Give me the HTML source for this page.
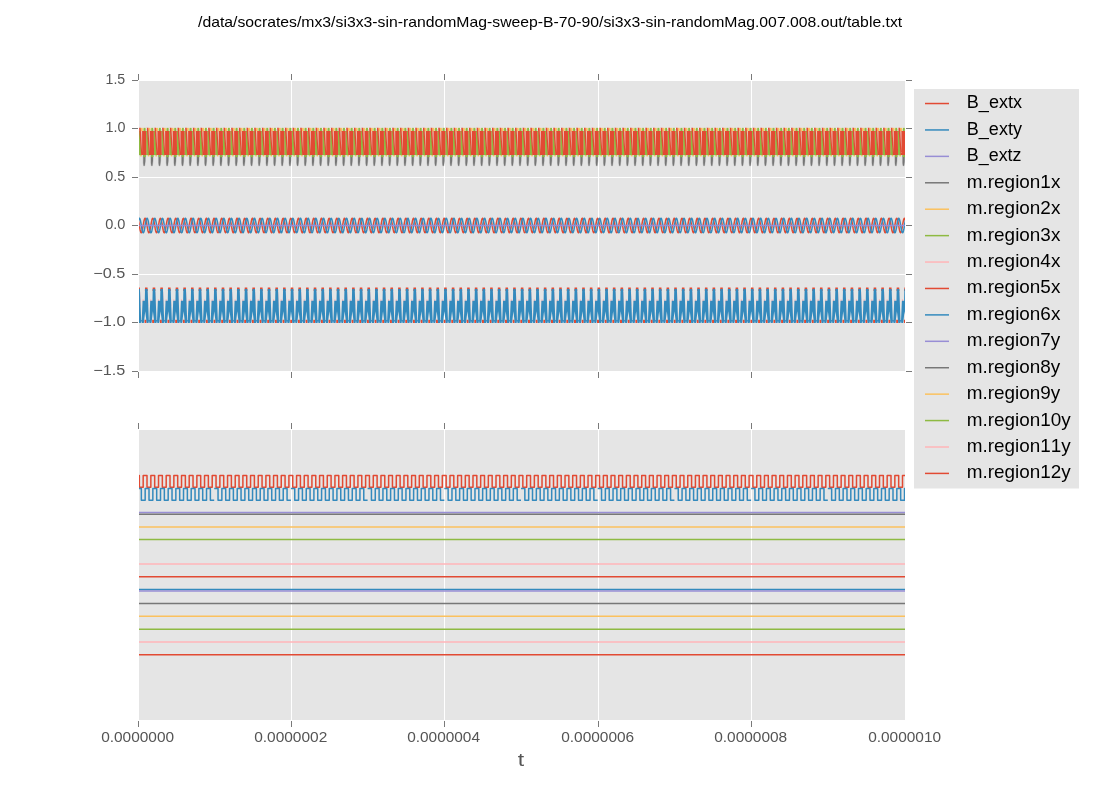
<!DOCTYPE html><html><head><meta charset="utf-8"><style>html,body{margin:0;padding:0;background:#fff;width:1100px;height:800px;overflow:hidden}svg{display:block;font-family:"Liberation Sans",sans-serif;font-kerning:none;will-change:transform}</style></head><body>
<svg width="1100" height="800" viewBox="0 0 1100 800">
<rect x="0" y="0" width="1100" height="800" fill="#fff"/>
<text x="198.00" y="26.80" font-size="14.77" fill="#000" textLength="704.17" lengthAdjust="spacingAndGlyphs">/data/socrates/mx3/si3x3-sin-randomMag-sweep-B-70-90/si3x3-sin-randomMag.007.008.out/table.txt</text>
<rect x="139.0" y="81.0" width="766.0" height="290.0" fill="#E5E5E5"/>
<rect x="139.0" y="430.0" width="766.0" height="290.0" fill="#E5E5E5"/>
<path d="M291.5 81.0V371.0M291.5 430.0V720.0M444.5 81.0V371.0M444.5 430.0V720.0M598.5 81.0V371.0M598.5 430.0V720.0M751.5 81.0V371.0M751.5 430.0V720.0M139.0 128.5H905.0M139.0 177.5H905.0M139.0 225.5H905.0M139.0 274.5H905.0M139.0 322.5H905.0" stroke="#fff" stroke-width="1" fill="none"/>
<path d="M138.5 74V80M138.5 372V378M138.5 423V429M138.5 721V727M291.5 74V80M291.5 372V378M291.5 423V429M291.5 721V727M444.5 74V80M444.5 372V378M444.5 423V429M444.5 721V727M598.5 74V80M598.5 372V378M598.5 423V429M598.5 721V727M751.5 74V80M751.5 372V378M751.5 423V429M751.5 721V727M132 80.5H138M906 80.5H912M132 128.5H138M906 128.5H912M132 177.5H138M906 177.5H912M132 225.5H138M906 225.5H912M132 274.5H138M906 274.5H912M132 322.5H138M906 322.5H912M132 371.5H138M906 371.5H912" stroke="#7a7a7a" stroke-width="1" fill="none"/>
<text x="105.52" y="83.80" font-size="14.24" fill="#555555" textLength="19.67" lengthAdjust="spacingAndGlyphs">1.5</text>
<text x="105.51" y="131.80" font-size="14.24" fill="#555555" textLength="19.95" lengthAdjust="spacingAndGlyphs">1.0</text>
<text x="105.24" y="180.80" font-size="14.04" fill="#555555" textLength="19.96" lengthAdjust="spacingAndGlyphs">0.5</text>
<text x="105.23" y="228.80" font-size="14.04" fill="#555555" textLength="20.24" lengthAdjust="spacingAndGlyphs">0.0</text>
<text x="93.30" y="277.80" font-size="14.04" fill="#555555" textLength="31.98" lengthAdjust="spacingAndGlyphs">−0.5</text>
<text x="93.29" y="325.80" font-size="14.24" fill="#555555" textLength="32.24" lengthAdjust="spacingAndGlyphs">−1.0</text>
<text x="93.30" y="374.80" font-size="14.24" fill="#555555" textLength="31.98" lengthAdjust="spacingAndGlyphs">−1.5</text>
<text x="101.15" y="741.65" font-size="13.96" fill="#555555" textLength="73.01" lengthAdjust="spacingAndGlyphs">0.0000000</text>
<text x="254.15" y="741.65" font-size="13.96" fill="#555555" textLength="73.18" lengthAdjust="spacingAndGlyphs">0.0000002</text>
<text x="407.15" y="741.65" font-size="13.96" fill="#555555" textLength="72.85" lengthAdjust="spacingAndGlyphs">0.0000004</text>
<text x="561.15" y="741.65" font-size="13.96" fill="#555555" textLength="73.08" lengthAdjust="spacingAndGlyphs">0.0000006</text>
<text x="714.15" y="741.65" font-size="13.96" fill="#555555" textLength="73.08" lengthAdjust="spacingAndGlyphs">0.0000008</text>
<text x="868.15" y="741.65" font-size="13.96" fill="#555555" textLength="73.01" lengthAdjust="spacingAndGlyphs">0.0000010</text>
<text x="517.75" y="765.75" font-size="19.10" fill="#555555" textLength="6.42" lengthAdjust="spacingAndGlyphs">t</text>
<defs><clipPath id="u"><rect x="139.0" y="81.0" width="766.0" height="290.0"/></clipPath><clipPath id="l"><rect x="139.0" y="430.0" width="766.0" height="290.0"/></clipPath></defs>
<path d="M138.00 219.01L138.40 220.42L138.80 222.36L139.20 224.64L139.60 227.02L140.00 229.23L140.40 231.04L140.80 232.27L141.20 232.77L141.60 232.50L142.00 231.49L142.40 229.84L142.80 227.72L143.20 225.37L143.60 223.04L144.00 220.96L144.40 219.37L144.80 218.43L145.20 218.25L145.60 218.83L146.00 220.13L146.40 221.99L146.80 224.23L147.20 226.61L147.60 228.86L148.00 230.76L148.40 232.10L148.80 232.74L149.20 232.60L149.60 231.71L150.00 230.16L150.40 228.12L150.80 225.79L151.20 223.43L151.60 221.30L152.00 219.61L152.40 218.55L152.80 218.22L153.20 218.67L153.60 219.85L154.00 221.63L154.40 223.82L154.80 226.19L155.20 228.49L155.60 230.47L156.00 231.91L156.40 232.68L156.80 232.68L157.20 231.92L157.60 230.48L158.00 228.50L158.40 226.21L158.80 223.84L159.20 221.64L159.60 219.86L160.00 218.68L160.40 218.22L160.80 218.54L161.20 219.60L161.60 221.29L162.00 223.42L162.40 225.78L162.80 228.10L163.20 230.15L163.60 231.71L164.00 232.60L164.40 232.74L164.80 232.11L165.20 230.77L165.60 228.88L166.00 226.62L166.40 224.25L166.80 222.00L167.20 220.14L167.60 218.84L168.00 218.25L168.40 218.43L168.80 219.36L169.20 220.95L169.60 223.02L170.00 225.36L170.40 227.71L170.80 229.82L171.20 231.48L171.60 232.50L172.00 232.77L172.40 232.27L172.80 231.05L173.20 229.24L173.60 227.03L174.00 224.66L174.40 222.38L174.80 220.43L175.20 219.02L175.60 218.30L176.00 218.34L176.40 219.15L176.80 220.63L177.20 222.64L177.60 224.94L178.00 227.31L178.40 229.48L178.80 231.23L179.20 232.37L179.60 232.78L180.00 232.41L180.40 231.31L180.80 229.59L181.20 227.44L181.60 225.08L182.00 222.76L182.40 220.73L182.80 219.22L183.20 218.37L183.60 218.28L184.00 218.96L184.40 220.33L184.80 222.26L185.20 224.53L185.60 226.90L186.00 229.13L186.40 230.96L186.80 232.22L187.20 232.76L187.60 232.53L188.00 231.55L188.40 229.93L188.80 227.84L189.20 225.49L189.60 223.15L190.00 221.06L190.40 219.44L190.80 218.46L191.20 218.24L191.60 218.78L192.00 220.05L192.40 221.89L192.80 224.11L193.20 226.49L193.60 228.76L194.00 230.68L194.40 232.05L194.80 232.72L195.20 232.63L195.60 231.78L196.00 230.25L196.40 228.23L196.80 225.91L197.20 223.55L197.60 221.39L198.00 219.68L198.40 218.58L198.80 218.22L199.20 218.63L199.60 219.78L200.00 221.53L200.40 223.71L200.80 226.07L201.20 228.38L201.60 230.38L202.00 231.86L202.40 232.66L202.80 232.70L203.20 231.98L203.60 230.56L204.00 228.61L204.40 226.33L204.80 223.95L205.20 221.75L205.60 219.94L206.00 218.72L206.40 218.23L206.80 218.51L207.20 219.53L207.60 221.19L208.00 223.31L208.40 225.66L208.80 227.99L209.20 230.06L209.60 231.64L210.00 232.57L210.40 232.75L210.80 232.16L211.20 230.85L211.60 228.98L212.00 226.74L212.40 224.36L212.80 222.11L213.20 220.22L213.60 218.89L214.00 218.26L214.40 218.40L214.80 219.30L215.20 220.86L215.60 222.91L216.00 225.24L216.40 227.59L216.80 229.73L217.20 231.41L217.60 232.46L218.00 232.78L218.40 232.31L218.80 231.13L219.20 229.34L219.60 227.15L220.00 224.78L220.40 222.48L220.80 220.51L221.20 219.07L221.60 218.31L222.00 218.32L222.40 219.09L222.80 220.55L223.20 222.53L223.60 224.82L224.00 227.19L224.40 229.38L224.80 231.16L225.20 232.33L225.60 232.78L226.00 232.45L226.40 231.38L226.80 229.69L227.20 227.55L227.60 225.19L228.00 222.87L228.40 220.82L228.80 219.28L229.20 218.39L229.60 218.26L230.00 218.91L230.40 220.25L230.80 222.15L231.20 224.41L231.60 226.78L232.00 229.02L232.40 230.88L232.80 232.17L233.20 232.75L233.60 232.56L234.00 231.62L234.40 230.02L234.80 227.95L235.20 225.61L235.60 223.26L236.00 221.15L236.40 219.50L236.80 218.49L237.20 218.23L237.60 218.74L238.00 219.97L238.40 221.79L238.80 224.00L239.20 226.37L239.60 228.65L240.00 230.59L240.40 232.00L240.80 232.71L241.20 232.65L241.60 231.84L242.00 230.34L242.40 228.34L242.80 226.03L243.20 223.66L243.60 221.49L244.00 219.75L244.40 218.62L244.80 218.22L245.20 218.60L245.60 219.71L246.00 221.43L246.40 223.59L246.80 225.95L247.20 228.27L247.60 230.29L248.00 231.80L248.40 232.64L248.80 232.72L249.20 232.03L249.60 230.65L250.00 228.72L250.40 226.44L250.80 224.07L251.20 221.85L251.60 220.02L252.00 218.77L252.40 218.23L252.80 218.47L253.20 219.46L253.60 221.09L254.00 223.19L254.40 225.54L254.80 227.88L255.20 229.97L255.60 231.58L256.00 232.54L256.40 232.76L256.80 232.20L257.20 230.93L257.60 229.09L258.00 226.86L258.40 224.48L258.80 222.22L259.20 220.30L259.60 218.94L260.00 218.27L260.40 218.38L260.80 219.24L261.20 220.77L261.60 222.80L262.00 225.12L262.40 227.48L262.80 229.63L263.20 231.34L263.60 232.43L264.00 232.78L264.40 232.36L264.80 231.20L265.20 229.44L265.60 227.26L266.00 224.90L266.40 222.59L266.80 220.60L267.20 219.13L267.60 218.33L268.00 218.30L268.40 219.04L268.80 220.46L269.20 222.42L269.60 224.70L270.00 227.08L270.40 229.28L270.80 231.08L271.20 232.29L271.60 232.77L272.00 232.48L272.40 231.45L272.80 229.79L273.20 227.67L273.60 225.31L274.00 222.98L274.40 220.92L274.80 219.34L275.20 218.42L275.60 218.25L276.00 218.86L276.40 220.17L276.80 222.04L277.20 224.29L277.60 226.67L278.00 228.92L278.40 230.80L278.80 232.13L279.20 232.74L279.60 232.59L280.00 231.68L280.40 230.12L280.80 228.06L281.20 225.73L281.60 223.38L282.00 221.25L282.40 219.57L282.80 218.53L283.20 218.22L283.60 218.70L284.00 219.89L284.40 221.68L284.80 223.88L285.20 226.25L285.60 228.54L286.00 230.51L286.40 231.94L286.80 232.69L287.20 232.67L287.60 231.89L288.00 230.43L288.40 228.45L288.80 226.15L289.20 223.78L289.60 221.59L290.00 219.82L290.40 218.66L290.80 218.22L291.20 218.56L291.60 219.63L292.00 221.33L292.40 223.48L292.80 225.84L293.20 228.16L293.60 230.20L294.00 231.74L294.40 232.61L294.80 232.73L295.20 232.08L295.60 230.73L296.00 228.82L296.40 226.56L296.80 224.19L297.20 221.95L297.60 220.10L298.00 218.81L298.40 218.24L298.80 218.44L299.20 219.40L299.60 221.00L300.00 223.08L300.40 225.42L300.80 227.77L301.20 229.87L301.60 231.51L302.00 232.51L302.40 232.77L302.80 232.25L303.20 231.01L303.60 229.19L304.00 226.97L304.40 224.60L304.80 222.32L305.20 220.38L305.60 218.99L306.00 218.29L306.40 218.35L306.80 219.18L307.20 220.68L307.60 222.69L308.00 225.00L308.40 227.37L308.80 229.53L309.20 231.27L309.60 232.39L310.00 232.78L310.40 232.39L310.80 231.28L311.20 229.54L311.60 227.38L312.00 225.02L312.40 222.70L312.80 220.69L313.20 219.19L313.60 218.36L314.00 218.29L314.40 218.98L314.80 220.37L315.20 222.31L315.60 224.59L316.00 226.96L316.40 229.18L316.80 231.00L317.20 232.24L317.60 232.77L318.00 232.52L318.40 231.52L318.80 229.88L319.20 227.78L319.60 225.43L320.00 223.09L320.40 221.01L320.80 219.40L321.20 218.45L321.60 218.24L322.00 218.81L322.40 220.09L322.80 221.94L323.20 224.17L323.60 226.55L324.00 228.81L324.40 230.72L324.80 232.08L325.20 232.73L325.60 232.62L326.00 231.75L326.40 230.21L326.80 228.17L327.20 225.85L327.60 223.49L328.00 221.35L328.40 219.64L328.80 218.56L329.20 218.22L329.60 218.65L330.00 219.82L330.40 221.58L330.80 223.77L331.20 226.13L331.60 228.43L332.00 230.42L332.40 231.89L332.80 232.67L333.20 232.69L333.60 231.95L334.00 230.52L334.40 228.56L334.80 226.27L335.20 223.90L335.60 221.70L336.00 219.90L336.40 218.70L336.80 218.23L337.20 218.52L337.60 219.56L338.00 221.24L338.40 223.36L338.80 225.72L339.20 228.05L339.60 230.11L340.00 231.68L340.40 232.59L340.80 232.75L341.20 232.13L341.60 230.81L342.00 228.93L342.40 226.68L342.80 224.30L343.20 222.06L343.60 220.18L344.00 218.86L344.40 218.25L344.80 218.42L345.20 219.33L345.60 220.91L346.00 222.97L346.40 225.30L346.80 227.65L347.20 229.78L347.60 231.44L348.00 232.48L348.40 232.77L348.80 232.29L349.20 231.09L349.60 229.29L350.00 227.09L350.40 224.72L350.80 222.43L351.20 220.47L351.60 219.04L352.00 218.30L352.40 218.33L352.80 219.12L353.20 220.59L353.60 222.58L354.00 224.88L354.40 227.25L354.80 229.43L355.20 231.19L355.60 232.35L356.00 232.78L356.40 232.43L356.80 231.35L357.20 229.64L357.60 227.49L358.00 225.13L358.40 222.81L358.80 220.78L359.20 219.25L359.60 218.38L360.00 218.27L360.40 218.93L360.80 220.29L361.20 222.20L361.60 224.47L362.00 226.84L362.40 229.07L362.80 230.92L363.20 232.20L363.60 232.76L364.00 232.55L364.40 231.59L364.80 229.98L365.20 227.89L365.60 225.55L366.00 223.21L366.40 221.10L366.80 219.47L367.20 218.48L367.60 218.23L368.00 218.76L368.40 220.01L368.80 221.84L369.20 224.06L369.60 226.43L370.00 228.70L370.40 230.64L370.80 232.02L371.20 232.72L371.60 232.64L372.00 231.81L372.40 230.30L372.80 228.28L373.20 225.97L373.60 223.61L374.00 221.44L374.40 219.71L374.80 218.60L375.20 218.22L375.60 218.61L376.00 219.74L376.40 221.48L376.80 223.65L377.20 226.01L377.60 228.32L378.00 230.33L378.40 231.83L378.80 232.65L379.20 232.71L379.60 232.00L380.00 230.61L380.40 228.66L380.80 226.38L381.20 224.01L381.60 221.80L382.00 219.98L382.40 218.74L382.80 218.23L383.20 218.49L383.60 219.50L384.00 221.14L384.40 223.25L384.80 225.60L385.20 227.93L385.60 230.01L386.00 231.61L386.40 232.56L386.80 232.76L387.20 232.18L387.60 230.89L388.00 229.03L388.40 226.80L388.80 224.42L389.20 222.16L389.60 220.26L390.00 218.91L390.40 218.27L390.80 218.39L391.20 219.27L391.60 220.81L392.00 222.86L392.40 225.18L392.80 227.54L393.20 229.68L393.60 231.37L394.00 232.45L394.40 232.78L394.80 232.34L395.20 231.17L395.60 229.39L396.00 227.21L396.40 224.84L396.80 222.54L397.20 220.56L397.60 219.10L398.00 218.32L398.40 218.31L398.80 219.06L399.20 220.50L399.60 222.47L400.00 224.76L400.40 227.13L400.80 229.33L401.20 231.12L401.60 232.31L402.00 232.78L402.40 232.47L402.80 231.42L403.20 229.74L403.60 227.61L404.00 225.25L404.40 222.93L404.80 220.87L405.20 219.31L405.60 218.41L406.00 218.26L406.40 218.88L406.80 220.21L407.20 222.10L407.60 224.35L408.00 226.72L408.40 228.97L408.80 230.84L409.20 232.15L409.60 232.75L410.00 232.58L410.40 231.65L410.80 230.07L411.20 228.00L411.60 225.67L412.00 223.32L412.40 221.20L412.80 219.54L413.20 218.51L413.60 218.23L414.00 218.72L414.40 219.93L414.80 221.73L415.20 223.94L415.60 226.31L416.00 228.60L416.40 230.55L416.80 231.97L417.20 232.70L417.60 232.66L418.00 231.86L418.40 230.39L418.80 228.39L419.20 226.09L419.60 223.72L420.00 221.54L420.40 219.79L420.80 218.64L421.20 218.22L421.60 218.58L422.00 219.67L422.40 221.38L422.80 223.53L423.20 225.90L423.60 228.21L424.00 230.24L424.40 231.77L424.80 232.63L425.20 232.73L425.60 232.06L426.00 230.69L426.40 228.77L426.80 226.50L427.20 224.13L427.60 221.90L428.00 220.06L428.40 218.79L428.80 218.24L429.20 218.46L429.60 219.43L430.00 221.05L430.40 223.14L430.80 225.48L431.20 227.82L431.60 229.92L432.00 231.55L432.40 232.53L432.80 232.76L433.20 232.23L433.60 230.97L434.00 229.14L434.40 226.91L434.80 224.54L435.20 222.27L435.60 220.34L436.00 218.96L436.40 218.28L436.80 218.36L437.20 219.21L437.60 220.72L438.00 222.75L438.40 225.06L438.80 227.42L439.20 229.58L439.60 231.30L440.00 232.41L440.40 232.78L440.80 232.38L441.20 231.24L441.60 229.49L442.00 227.32L442.40 224.96L442.80 222.65L443.20 220.64L443.60 219.16L444.00 218.34L444.40 218.29L444.80 219.01L445.20 220.42L445.60 222.36L446.00 224.64L446.40 227.02L446.80 229.23L447.20 231.04L447.60 232.27L448.00 232.77L448.40 232.50L448.80 231.49L449.20 229.84L449.60 227.72L450.00 225.37L450.40 223.04L450.80 220.96L451.20 219.37L451.60 218.43L452.00 218.25L452.40 218.83L452.80 220.13L453.20 221.99L453.60 224.23L454.00 226.61L454.40 228.86L454.80 230.76L455.20 232.10L455.60 232.74L456.00 232.60L456.40 231.71L456.80 230.16L457.20 228.12L457.60 225.79L458.00 223.43L458.40 221.30L458.80 219.61L459.20 218.55L459.60 218.22L460.00 218.67L460.40 219.85L460.80 221.63L461.20 223.82L461.60 226.19L462.00 228.49L462.40 230.47L462.80 231.91L463.20 232.68L463.60 232.68L464.00 231.92L464.40 230.48L464.80 228.50L465.20 226.21L465.60 223.84L466.00 221.64L466.40 219.86L466.80 218.68L467.20 218.22L467.60 218.54L468.00 219.60L468.40 221.29L468.80 223.42L469.20 225.78L469.60 228.10L470.00 230.15L470.40 231.71L470.80 232.60L471.20 232.74L471.60 232.11L472.00 230.77L472.40 228.88L472.80 226.62L473.20 224.25L473.60 222.00L474.00 220.14L474.40 218.84L474.80 218.25L475.20 218.43L475.60 219.36L476.00 220.95L476.40 223.02L476.80 225.36L477.20 227.71L477.60 229.82L478.00 231.48L478.40 232.50L478.80 232.77L479.20 232.27L479.60 231.05L480.00 229.24L480.40 227.03L480.80 224.66L481.20 222.38L481.60 220.43L482.00 219.02L482.40 218.30L482.80 218.34L483.20 219.15L483.60 220.63L484.00 222.64L484.40 224.94L484.80 227.31L485.20 229.48L485.60 231.23L486.00 232.37L486.40 232.78L486.80 232.41L487.20 231.31L487.60 229.59L488.00 227.44L488.40 225.08L488.80 222.76L489.20 220.73L489.60 219.22L490.00 218.37L490.40 218.28L490.80 218.96L491.20 220.33L491.60 222.26L492.00 224.53L492.40 226.90L492.80 229.13L493.20 230.96L493.60 232.22L494.00 232.76L494.40 232.53L494.80 231.55L495.20 229.93L495.60 227.84L496.00 225.49L496.40 223.15L496.80 221.06L497.20 219.44L497.60 218.46L498.00 218.24L498.40 218.78L498.80 220.05L499.20 221.89L499.60 224.11L500.00 226.49L500.40 228.76L500.80 230.68L501.20 232.05L501.60 232.72L502.00 232.63L502.40 231.78L502.80 230.25L503.20 228.23L503.60 225.91L504.00 223.55L504.40 221.39L504.80 219.68L505.20 218.58L505.60 218.22L506.00 218.63L506.40 219.78L506.80 221.53L507.20 223.71L507.60 226.07L508.00 228.38L508.40 230.38L508.80 231.86L509.20 232.66L509.60 232.70L510.00 231.98L510.40 230.56L510.80 228.61L511.20 226.33L511.60 223.95L512.00 221.75L512.40 219.94L512.80 218.72L513.20 218.23L513.60 218.51L514.00 219.53L514.40 221.19L514.80 223.31L515.20 225.66L515.60 227.99L516.00 230.06L516.40 231.64L516.80 232.57L517.20 232.75L517.60 232.16L518.00 230.85L518.40 228.98L518.80 226.74L519.20 224.36L519.60 222.11L520.00 220.22L520.40 218.89L520.80 218.26L521.20 218.40L521.60 219.30L522.00 220.86L522.40 222.91L522.80 225.24L523.20 227.59L523.60 229.73L524.00 231.41L524.40 232.46L524.80 232.78L525.20 232.31L525.60 231.13L526.00 229.34L526.40 227.15L526.80 224.78L527.20 222.48L527.60 220.51L528.00 219.07L528.40 218.31L528.80 218.32L529.20 219.09L529.60 220.55L530.00 222.53L530.40 224.82L530.80 227.19L531.20 229.38L531.60 231.16L532.00 232.33L532.40 232.78L532.80 232.45L533.20 231.38L533.60 229.69L534.00 227.55L534.40 225.19L534.80 222.87L535.20 220.82L535.60 219.28L536.00 218.39L536.40 218.26L536.80 218.91L537.20 220.25L537.60 222.15L538.00 224.41L538.40 226.78L538.80 229.02L539.20 230.88L539.60 232.17L540.00 232.75L540.40 232.56L540.80 231.62L541.20 230.02L541.60 227.95L542.00 225.61L542.40 223.26L542.80 221.15L543.20 219.50L543.60 218.49L544.00 218.23L544.40 218.74L544.80 219.97L545.20 221.79L545.60 224.00L546.00 226.37L546.40 228.65L546.80 230.59L547.20 232.00L547.60 232.71L548.00 232.65L548.40 231.84L548.80 230.34L549.20 228.34L549.60 226.03L550.00 223.66L550.40 221.49L550.80 219.75L551.20 218.62L551.60 218.22L552.00 218.60L552.40 219.71L552.80 221.43L553.20 223.59L553.60 225.95L554.00 228.27L554.40 230.29L554.80 231.80L555.20 232.64L555.60 232.72L556.00 232.03L556.40 230.65L556.80 228.72L557.20 226.44L557.60 224.07L558.00 221.85L558.40 220.02L558.80 218.77L559.20 218.23L559.60 218.47L560.00 219.46L560.40 221.09L560.80 223.19L561.20 225.54L561.60 227.88L562.00 229.97L562.40 231.58L562.80 232.54L563.20 232.76L563.60 232.20L564.00 230.93L564.40 229.09L564.80 226.86L565.20 224.48L565.60 222.22L566.00 220.30L566.40 218.94L566.80 218.27L567.20 218.38L567.60 219.24L568.00 220.77L568.40 222.80L568.80 225.12L569.20 227.48L569.60 229.63L570.00 231.34L570.40 232.43L570.80 232.78L571.20 232.36L571.60 231.20L572.00 229.44L572.40 227.26L572.80 224.90L573.20 222.59L573.60 220.60L574.00 219.13L574.40 218.33L574.80 218.30L575.20 219.04L575.60 220.46L576.00 222.42L576.40 224.70L576.80 227.08L577.20 229.28L577.60 231.08L578.00 232.29L578.40 232.77L578.80 232.48L579.20 231.45L579.60 229.79L580.00 227.67L580.40 225.31L580.80 222.98L581.20 220.92L581.60 219.34L582.00 218.42L582.40 218.25L582.80 218.86L583.20 220.17L583.60 222.04L584.00 224.29L584.40 226.67L584.80 228.92L585.20 230.80L585.60 232.13L586.00 232.74L586.40 232.59L586.80 231.68L587.20 230.12L587.60 228.06L588.00 225.73L588.40 223.38L588.80 221.25L589.20 219.57L589.60 218.53L590.00 218.22L590.40 218.70L590.80 219.89L591.20 221.68L591.60 223.88L592.00 226.25L592.40 228.54L592.80 230.51L593.20 231.94L593.60 232.69L594.00 232.67L594.40 231.89L594.80 230.43L595.20 228.45L595.60 226.15L596.00 223.78L596.40 221.59L596.80 219.82L597.20 218.66L597.60 218.22L598.00 218.56L598.40 219.63L598.80 221.33L599.20 223.48L599.60 225.84L600.00 228.16L600.40 230.20L600.80 231.74L601.20 232.61L601.60 232.73L602.00 232.08L602.40 230.73L602.80 228.82L603.20 226.56L603.60 224.19L604.00 221.95L604.40 220.10L604.80 218.81L605.20 218.24L605.60 218.44L606.00 219.40L606.40 221.00L606.80 223.08L607.20 225.42L607.60 227.77L608.00 229.87L608.40 231.51L608.80 232.51L609.20 232.77L609.60 232.25L610.00 231.01L610.40 229.19L610.80 226.97L611.20 224.60L611.60 222.32L612.00 220.38L612.40 218.99L612.80 218.29L613.20 218.35L613.60 219.18L614.00 220.68L614.40 222.69L614.80 225.00L615.20 227.37L615.60 229.53L616.00 231.27L616.40 232.39L616.80 232.78L617.20 232.39L617.60 231.28L618.00 229.54L618.40 227.38L618.80 225.02L619.20 222.70L619.60 220.69L620.00 219.19L620.40 218.36L620.80 218.29L621.20 218.98L621.60 220.37L622.00 222.31L622.40 224.59L622.80 226.96L623.20 229.18L623.60 231.00L624.00 232.24L624.40 232.77L624.80 232.52L625.20 231.52L625.60 229.88L626.00 227.78L626.40 225.43L626.80 223.09L627.20 221.01L627.60 219.40L628.00 218.45L628.40 218.24L628.80 218.81L629.20 220.09L629.60 221.94L630.00 224.17L630.40 226.55L630.80 228.81L631.20 230.72L631.60 232.08L632.00 232.73L632.40 232.62L632.80 231.75L633.20 230.21L633.60 228.17L634.00 225.85L634.40 223.49L634.80 221.35L635.20 219.64L635.60 218.56L636.00 218.22L636.40 218.65L636.80 219.82L637.20 221.58L637.60 223.77L638.00 226.13L638.40 228.43L638.80 230.42L639.20 231.89L639.60 232.67L640.00 232.69L640.40 231.95L640.80 230.52L641.20 228.56L641.60 226.27L642.00 223.90L642.40 221.70L642.80 219.90L643.20 218.70L643.60 218.23L644.00 218.52L644.40 219.56L644.80 221.24L645.20 223.36L645.60 225.72L646.00 228.05L646.40 230.11L646.80 231.68L647.20 232.59L647.60 232.75L648.00 232.13L648.40 230.81L648.80 228.93L649.20 226.68L649.60 224.30L650.00 222.06L650.40 220.18L650.80 218.86L651.20 218.25L651.60 218.42L652.00 219.33L652.40 220.91L652.80 222.97L653.20 225.30L653.60 227.65L654.00 229.78L654.40 231.44L654.80 232.48L655.20 232.77L655.60 232.29L656.00 231.09L656.40 229.29L656.80 227.09L657.20 224.72L657.60 222.43L658.00 220.47L658.40 219.04L658.80 218.30L659.20 218.33L659.60 219.12L660.00 220.59L660.40 222.58L660.80 224.88L661.20 227.25L661.60 229.43L662.00 231.19L662.40 232.35L662.80 232.78L663.20 232.43L663.60 231.35L664.00 229.64L664.40 227.49L664.80 225.13L665.20 222.81L665.60 220.78L666.00 219.25L666.40 218.38L666.80 218.27L667.20 218.93L667.60 220.29L668.00 222.20L668.40 224.47L668.80 226.84L669.20 229.07L669.60 230.92L670.00 232.20L670.40 232.76L670.80 232.55L671.20 231.59L671.60 229.98L672.00 227.89L672.40 225.55L672.80 223.21L673.20 221.10L673.60 219.47L674.00 218.48L674.40 218.23L674.80 218.76L675.20 220.01L675.60 221.84L676.00 224.06L676.40 226.43L676.80 228.70L677.20 230.64L677.60 232.02L678.00 232.72L678.40 232.64L678.80 231.81L679.20 230.30L679.60 228.28L680.00 225.97L680.40 223.61L680.80 221.44L681.20 219.71L681.60 218.60L682.00 218.22L682.40 218.61L682.80 219.74L683.20 221.48L683.60 223.65L684.00 226.01L684.40 228.32L684.80 230.33L685.20 231.83L685.60 232.65L686.00 232.71L686.40 232.00L686.80 230.61L687.20 228.66L687.60 226.38L688.00 224.01L688.40 221.80L688.80 219.98L689.20 218.74L689.60 218.23L690.00 218.49L690.40 219.50L690.80 221.14L691.20 223.25L691.60 225.60L692.00 227.93L692.40 230.01L692.80 231.61L693.20 232.56L693.60 232.76L694.00 232.18L694.40 230.89L694.80 229.03L695.20 226.80L695.60 224.42L696.00 222.16L696.40 220.26L696.80 218.91L697.20 218.27L697.60 218.39L698.00 219.27L698.40 220.81L698.80 222.86L699.20 225.18L699.60 227.54L700.00 229.68L700.40 231.37L700.80 232.45L701.20 232.78L701.60 232.34L702.00 231.17L702.40 229.39L702.80 227.21L703.20 224.84L703.60 222.54L704.00 220.56L704.40 219.10L704.80 218.32L705.20 218.31L705.60 219.06L706.00 220.50L706.40 222.47L706.80 224.76L707.20 227.13L707.60 229.33L708.00 231.12L708.40 232.31L708.80 232.78L709.20 232.47L709.60 231.42L710.00 229.74L710.40 227.61L710.80 225.25L711.20 222.93L711.60 220.87L712.00 219.31L712.40 218.41L712.80 218.26L713.20 218.88L713.60 220.21L714.00 222.10L714.40 224.35L714.80 226.72L715.20 228.97L715.60 230.84L716.00 232.15L716.40 232.75L716.80 232.58L717.20 231.65L717.60 230.07L718.00 228.00L718.40 225.67L718.80 223.32L719.20 221.20L719.60 219.54L720.00 218.51L720.40 218.23L720.80 218.72L721.20 219.93L721.60 221.73L722.00 223.94L722.40 226.31L722.80 228.60L723.20 230.55L723.60 231.97L724.00 232.70L724.40 232.66L724.80 231.86L725.20 230.39L725.60 228.39L726.00 226.09L726.40 223.72L726.80 221.54L727.20 219.79L727.60 218.64L728.00 218.22L728.40 218.58L728.80 219.67L729.20 221.38L729.60 223.53L730.00 225.90L730.40 228.21L730.80 230.24L731.20 231.77L731.60 232.63L732.00 232.73L732.40 232.06L732.80 230.69L733.20 228.77L733.60 226.50L734.00 224.13L734.40 221.90L734.80 220.06L735.20 218.79L735.60 218.24L736.00 218.46L736.40 219.43L736.80 221.05L737.20 223.14L737.60 225.48L738.00 227.82L738.40 229.92L738.80 231.55L739.20 232.53L739.60 232.76L740.00 232.23L740.40 230.97L740.80 229.14L741.20 226.91L741.60 224.54L742.00 222.27L742.40 220.34L742.80 218.96L743.20 218.28L743.60 218.36L744.00 219.21L744.40 220.72L744.80 222.75L745.20 225.06L745.60 227.42L746.00 229.58L746.40 231.30L746.80 232.41L747.20 232.78L747.60 232.38L748.00 231.24L748.40 229.49L748.80 227.32L749.20 224.96L749.60 222.65L750.00 220.64L750.40 219.16L750.80 218.34L751.20 218.29L751.60 219.01L752.00 220.42L752.40 222.36L752.80 224.64L753.20 227.02L753.60 229.23L754.00 231.04L754.40 232.27L754.80 232.77L755.20 232.50L755.60 231.49L756.00 229.84L756.40 227.72L756.80 225.37L757.20 223.04L757.60 220.96L758.00 219.37L758.40 218.43L758.80 218.25L759.20 218.83L759.60 220.13L760.00 221.99L760.40 224.23L760.80 226.61L761.20 228.86L761.60 230.76L762.00 232.10L762.40 232.74L762.80 232.60L763.20 231.71L763.60 230.16L764.00 228.12L764.40 225.79L764.80 223.43L765.20 221.30L765.60 219.61L766.00 218.55L766.40 218.22L766.80 218.67L767.20 219.85L767.60 221.63L768.00 223.82L768.40 226.19L768.80 228.49L769.20 230.47L769.60 231.91L770.00 232.68L770.40 232.68L770.80 231.92L771.20 230.48L771.60 228.50L772.00 226.21L772.40 223.84L772.80 221.64L773.20 219.86L773.60 218.68L774.00 218.22L774.40 218.54L774.80 219.60L775.20 221.29L775.60 223.42L776.00 225.78L776.40 228.10L776.80 230.15L777.20 231.71L777.60 232.60L778.00 232.74L778.40 232.11L778.80 230.77L779.20 228.88L779.60 226.62L780.00 224.25L780.40 222.00L780.80 220.14L781.20 218.84L781.60 218.25L782.00 218.43L782.40 219.36L782.80 220.95L783.20 223.02L783.60 225.36L784.00 227.71L784.40 229.82L784.80 231.48L785.20 232.50L785.60 232.77L786.00 232.27L786.40 231.05L786.80 229.24L787.20 227.03L787.60 224.66L788.00 222.38L788.40 220.43L788.80 219.02L789.20 218.30L789.60 218.34L790.00 219.15L790.40 220.63L790.80 222.64L791.20 224.94L791.60 227.31L792.00 229.48L792.40 231.23L792.80 232.37L793.20 232.78L793.60 232.41L794.00 231.31L794.40 229.59L794.80 227.44L795.20 225.08L795.60 222.76L796.00 220.73L796.40 219.22L796.80 218.37L797.20 218.28L797.60 218.96L798.00 220.33L798.40 222.26L798.80 224.53L799.20 226.90L799.60 229.13L800.00 230.96L800.40 232.22L800.80 232.76L801.20 232.53L801.60 231.55L802.00 229.93L802.40 227.84L802.80 225.49L803.20 223.15L803.60 221.06L804.00 219.44L804.40 218.46L804.80 218.24L805.20 218.78L805.60 220.05L806.00 221.89L806.40 224.11L806.80 226.49L807.20 228.76L807.60 230.68L808.00 232.05L808.40 232.72L808.80 232.63L809.20 231.78L809.60 230.25L810.00 228.23L810.40 225.91L810.80 223.55L811.20 221.39L811.60 219.68L812.00 218.58L812.40 218.22L812.80 218.63L813.20 219.78L813.60 221.53L814.00 223.71L814.40 226.07L814.80 228.38L815.20 230.38L815.60 231.86L816.00 232.66L816.40 232.70L816.80 231.98L817.20 230.56L817.60 228.61L818.00 226.33L818.40 223.95L818.80 221.75L819.20 219.94L819.60 218.72L820.00 218.23L820.40 218.51L820.80 219.53L821.20 221.19L821.60 223.31L822.00 225.66L822.40 227.99L822.80 230.06L823.20 231.64L823.60 232.57L824.00 232.75L824.40 232.16L824.80 230.85L825.20 228.98L825.60 226.74L826.00 224.36L826.40 222.11L826.80 220.22L827.20 218.89L827.60 218.26L828.00 218.40L828.40 219.30L828.80 220.86L829.20 222.91L829.60 225.24L830.00 227.59L830.40 229.73L830.80 231.41L831.20 232.46L831.60 232.78L832.00 232.31L832.40 231.13L832.80 229.34L833.20 227.15L833.60 224.78L834.00 222.48L834.40 220.51L834.80 219.07L835.20 218.31L835.60 218.32L836.00 219.09L836.40 220.55L836.80 222.53L837.20 224.82L837.60 227.19L838.00 229.38L838.40 231.16L838.80 232.33L839.20 232.78L839.60 232.45L840.00 231.38L840.40 229.69L840.80 227.55L841.20 225.19L841.60 222.87L842.00 220.82L842.40 219.28L842.80 218.39L843.20 218.26L843.60 218.91L844.00 220.25L844.40 222.15L844.80 224.41L845.20 226.78L845.60 229.02L846.00 230.88L846.40 232.17L846.80 232.75L847.20 232.56L847.60 231.62L848.00 230.02L848.40 227.95L848.80 225.61L849.20 223.26L849.60 221.15L850.00 219.50L850.40 218.49L850.80 218.23L851.20 218.74L851.60 219.97L852.00 221.79L852.40 224.00L852.80 226.37L853.20 228.65L853.60 230.59L854.00 232.00L854.40 232.71L854.80 232.65L855.20 231.84L855.60 230.34L856.00 228.34L856.40 226.03L856.80 223.66L857.20 221.49L857.60 219.75L858.00 218.62L858.40 218.22L858.80 218.60L859.20 219.71L859.60 221.43L860.00 223.59L860.40 225.95L860.80 228.27L861.20 230.29L861.60 231.80L862.00 232.64L862.40 232.72L862.80 232.03L863.20 230.65L863.60 228.72L864.00 226.44L864.40 224.07L864.80 221.85L865.20 220.02L865.60 218.77L866.00 218.23L866.40 218.47L866.80 219.46L867.20 221.09L867.60 223.19L868.00 225.54L868.40 227.88L868.80 229.97L869.20 231.58L869.60 232.54L870.00 232.76L870.40 232.20L870.80 230.93L871.20 229.09L871.60 226.86L872.00 224.48L872.40 222.22L872.80 220.30L873.20 218.94L873.60 218.27L874.00 218.38L874.40 219.24L874.80 220.77L875.20 222.80L875.60 225.12L876.00 227.48L876.40 229.63L876.80 231.34L877.20 232.43L877.60 232.78L878.00 232.36L878.40 231.20L878.80 229.44L879.20 227.26L879.60 224.90L880.00 222.59L880.40 220.60L880.80 219.13L881.20 218.33L881.60 218.30L882.00 219.04L882.40 220.46L882.80 222.42L883.20 224.70L883.60 227.08L884.00 229.28L884.40 231.08L884.80 232.29L885.20 232.77L885.60 232.48L886.00 231.45L886.40 229.79L886.80 227.67L887.20 225.31L887.60 222.98L888.00 220.92L888.40 219.34L888.80 218.42L889.20 218.25L889.60 218.86L890.00 220.17L890.40 222.04L890.80 224.29L891.20 226.67L891.60 228.92L892.00 230.80L892.40 232.13L892.80 232.74L893.20 232.59L893.60 231.68L894.00 230.12L894.40 228.06L894.80 225.73L895.20 223.38L895.60 221.25L896.00 219.57L896.40 218.53L896.80 218.22L897.20 218.70L897.60 219.89L898.00 221.68L898.40 223.88L898.80 226.25L899.20 228.54L899.60 230.51L900.00 231.94L900.40 232.69L900.80 232.67L901.20 231.89L901.60 230.43L902.00 228.45L902.40 226.15L902.80 223.78L903.20 221.59L903.60 219.82L904.00 218.66L904.40 218.22L904.80 218.56L905.20 219.63L905.60 221.33L906.00 223.48" stroke="#E24A33" stroke-width="1.5" fill="none" stroke-linejoin="round" clip-path="url(#u)"/>
<path d="M138.00 222.62L138.40 220.62L138.80 219.14L139.20 218.34L139.60 218.30L140.00 219.03L140.40 220.44L140.80 222.39L141.20 224.68L141.60 227.05L142.00 229.26L142.40 231.06L142.80 232.28L143.20 232.77L143.60 232.49L144.00 231.47L144.40 229.81L144.80 227.69L145.20 225.34L145.60 223.00L146.00 220.94L146.40 219.35L146.80 218.43L147.20 218.25L147.60 218.85L148.00 220.15L148.40 222.02L148.80 224.27L149.20 226.64L149.60 228.89L150.00 230.79L150.40 232.12L150.80 232.74L151.20 232.60L151.60 231.70L152.00 230.14L152.40 228.08L152.80 225.76L153.20 223.40L153.60 221.27L154.00 219.59L154.40 218.53L154.80 218.22L155.20 218.69L155.60 219.88L156.00 221.66L156.40 223.86L156.80 226.23L157.20 228.52L157.60 230.49L158.00 231.93L158.40 232.69L158.80 232.68L159.20 231.91L159.60 230.45L160.00 228.47L160.40 226.17L160.80 223.80L161.20 221.62L161.60 219.84L162.00 218.67L162.40 218.22L162.80 218.55L163.20 219.62L163.60 221.31L164.00 223.45L164.40 225.81L164.80 228.13L165.20 230.18L165.60 231.72L166.00 232.61L166.40 232.74L166.80 232.09L167.20 230.75L167.60 228.85L168.00 226.59L168.40 224.21L168.80 221.97L169.20 220.11L169.60 218.82L170.00 218.24L170.40 218.44L170.80 219.38L171.20 220.98L171.60 223.06L172.00 225.39L172.40 227.74L172.80 229.85L173.20 231.50L173.60 232.51L174.00 232.77L174.40 232.26L174.80 231.03L175.20 229.21L175.60 227.00L176.00 224.62L176.40 222.35L176.80 220.40L177.20 219.00L177.60 218.29L178.00 218.35L178.40 219.17L178.80 220.66L179.20 222.67L179.60 224.98L180.00 227.34L180.40 229.51L180.80 231.25L181.20 232.38L181.60 232.78L182.00 232.40L182.40 231.29L182.80 229.56L183.20 227.40L183.60 225.04L184.00 222.73L184.40 220.71L184.80 219.20L185.20 218.36L185.60 218.28L186.00 218.97L186.40 220.36L186.80 222.29L187.20 224.56L187.60 226.93L188.00 229.16L188.40 230.99L188.80 232.23L189.20 232.77L189.60 232.52L190.00 231.53L190.40 229.90L190.80 227.80L191.20 225.46L191.60 223.12L192.00 221.03L192.40 219.42L192.80 218.45L193.20 218.24L193.60 218.80L194.00 220.07L194.40 221.92L194.80 224.15L195.20 226.52L195.60 228.79L196.00 230.70L196.40 232.07L196.80 232.73L197.20 232.62L197.60 231.76L198.00 230.23L198.40 228.19L198.80 225.87L199.20 223.52L199.60 221.37L200.00 219.66L200.40 218.57L200.80 218.22L201.20 218.65L201.60 219.80L202.00 221.56L202.40 223.74L202.80 226.11L203.20 228.41L203.60 230.40L204.00 231.87L204.40 232.67L204.80 232.70L205.20 231.96L205.60 230.54L206.00 228.58L206.40 226.29L206.80 223.92L207.20 221.72L207.60 219.92L208.00 218.71L208.40 218.23L208.80 218.52L209.20 219.55L209.60 221.22L210.00 223.34L210.40 225.69L210.80 228.02L211.20 230.09L211.60 231.66L212.00 232.58L212.40 232.75L212.80 232.14L213.20 230.83L213.60 228.95L214.00 226.70L214.40 224.33L214.80 222.08L215.20 220.19L215.60 218.87L216.00 218.26L216.40 218.41L216.80 219.32L217.20 220.89L217.60 222.94L218.00 225.27L218.40 227.63L218.80 229.76L219.20 231.43L219.60 232.47L220.00 232.78L220.40 232.30L220.80 231.11L221.20 229.31L221.60 227.11L222.00 224.74L222.40 222.45L222.80 220.49L223.20 219.05L223.60 218.31L224.00 218.33L224.40 219.11L224.80 220.57L225.20 222.56L225.60 224.86L226.00 227.23L226.40 229.41L226.80 231.18L227.20 232.34L227.60 232.78L228.00 232.44L228.40 231.36L228.80 229.66L229.20 227.52L229.60 225.16L230.00 222.84L230.40 220.80L230.80 219.26L231.20 218.39L231.60 218.27L232.00 218.92L232.40 220.27L232.80 222.18L233.20 224.44L233.60 226.82L234.00 229.05L234.40 230.91L234.80 232.19L235.20 232.76L235.60 232.55L236.00 231.60L236.40 230.00L236.80 227.92L237.20 225.58L237.60 223.23L238.00 221.12L238.40 219.48L238.80 218.49L239.20 218.23L239.60 218.75L240.00 219.99L240.40 221.81L240.80 224.03L241.20 226.40L241.60 228.68L242.00 230.62L242.40 232.01L242.80 232.71L243.20 232.65L243.60 231.82L244.00 230.32L244.40 228.31L244.80 225.99L245.20 223.63L245.60 221.47L246.00 219.73L246.40 218.61L246.80 218.22L247.20 218.61L247.60 219.73L248.00 221.46L248.40 223.63L248.80 225.99L249.20 228.30L249.60 230.31L250.00 231.82L250.40 232.65L250.80 232.71L251.20 232.02L251.60 230.62L252.00 228.69L252.40 226.41L252.80 224.04L253.20 221.82L253.60 219.99L254.00 218.75L254.40 218.23L254.80 218.48L255.20 219.48L255.60 221.12L256.00 223.23L256.40 225.57L256.80 227.91L257.20 229.99L257.60 231.60L258.00 232.55L258.40 232.76L258.80 232.19L259.20 230.91L259.60 229.06L260.00 226.82L260.40 224.45L260.80 222.19L261.20 220.28L261.60 218.92L262.00 218.27L262.40 218.38L262.80 219.26L263.20 220.79L263.60 222.83L264.00 225.15L264.40 227.51L264.80 229.66L265.20 231.36L265.60 232.44L266.00 232.78L266.40 232.34L266.80 231.18L267.20 229.41L267.60 227.23L268.00 224.86L268.40 222.56L268.80 220.57L269.20 219.11L269.60 218.33L270.00 218.31L270.40 219.05L270.80 220.48L271.20 222.45L271.60 224.74L272.00 227.11L272.40 229.31L272.80 231.10L273.20 232.30L273.60 232.77L274.00 232.48L274.40 231.43L274.80 229.76L275.20 227.63L275.60 225.28L276.00 222.95L276.40 220.89L276.80 219.32L277.20 218.41L277.60 218.25L278.00 218.87L278.40 220.19L278.80 222.08L279.20 224.32L279.60 226.70L280.00 228.95L280.40 230.83L280.80 232.14L281.20 232.75L281.60 232.58L282.00 231.66L282.40 230.09L282.80 228.03L283.20 225.70L283.60 223.34L284.00 221.22L284.40 219.55L284.80 218.52L285.20 218.23L285.60 218.71L286.00 219.91L286.40 221.71L286.80 223.92L287.20 226.29L287.60 228.57L288.00 230.53L288.40 231.96L288.80 232.70L289.20 232.67L289.60 231.88L290.00 230.41L290.40 228.42L290.80 226.11L291.20 223.75L291.60 221.57L292.00 219.80L292.40 218.65L292.80 218.22L293.20 218.57L293.60 219.65L294.00 221.36L294.40 223.51L294.80 225.87L295.20 228.19L295.60 230.22L296.00 231.76L296.40 232.62L296.80 232.73L297.20 232.07L297.60 230.71L298.00 228.79L298.40 226.53L298.80 224.15L299.20 221.92L299.60 220.07L300.00 218.80L300.40 218.24L300.80 218.45L301.20 219.42L301.60 221.03L302.00 223.11L302.40 225.45L302.80 227.80L303.20 229.90L303.60 231.53L304.00 232.52L304.40 232.77L304.80 232.24L305.20 230.99L305.60 229.16L306.00 226.94L306.40 224.57L306.80 222.29L307.20 220.36L307.60 218.97L308.00 218.28L308.40 218.36L308.80 219.20L309.20 220.70L309.60 222.72L310.00 225.04L310.40 227.40L310.80 229.56L311.20 231.29L311.60 232.40L312.00 232.78L312.40 232.38L312.80 231.26L313.20 229.51L313.60 227.35L314.00 224.98L314.40 222.67L314.80 220.66L315.20 219.17L315.60 218.35L316.00 218.29L316.40 219.00L316.80 220.40L317.20 222.34L317.60 224.62L318.00 226.99L318.40 229.21L318.80 231.03L319.20 232.26L319.60 232.77L320.00 232.51L320.40 231.50L320.80 229.86L321.20 227.75L321.60 225.40L322.00 223.06L322.40 220.98L322.80 219.39L323.20 218.44L323.60 218.24L324.00 218.82L324.40 220.11L324.80 221.97L325.20 224.21L325.60 226.58L326.00 228.84L326.40 230.75L326.80 232.09L327.20 232.74L327.60 232.61L328.00 231.73L328.40 230.18L328.80 228.14L329.20 225.82L329.60 223.46L330.00 221.32L330.40 219.62L330.80 218.55L331.20 218.22L331.60 218.67L332.00 219.84L332.40 221.61L332.80 223.80L333.20 226.17L333.60 228.47L334.00 230.45L334.40 231.90L334.80 232.68L335.20 232.69L335.60 231.93L336.00 230.49L336.40 228.52L336.80 226.23L337.20 223.86L337.60 221.67L338.00 219.88L338.40 218.69L338.80 218.22L339.20 218.53L339.60 219.58L340.00 221.26L340.40 223.40L340.80 225.75L341.20 228.08L341.60 230.13L342.00 231.69L342.40 232.60L342.80 232.74L343.20 232.12L343.60 230.79L344.00 228.90L344.40 226.65L344.80 224.27L345.20 222.03L345.60 220.15L346.00 218.85L346.40 218.25L346.80 218.42L347.20 219.35L347.60 220.93L348.00 223.00L348.40 225.33L348.80 227.68L349.20 229.80L349.60 231.46L350.00 232.49L350.40 232.77L350.80 232.28L351.20 231.07L351.60 229.26L352.00 227.06L352.40 224.68L352.80 222.40L353.20 220.44L353.60 219.03L354.00 218.30L354.40 218.34L354.80 219.14L355.20 220.62L355.60 222.61L356.00 224.92L356.40 227.28L356.80 229.46L357.20 231.22L357.60 232.36L358.00 232.78L358.40 232.42L358.80 231.33L359.20 229.61L359.60 227.46L360.00 225.10L360.40 222.78L360.80 220.75L361.20 219.23L361.60 218.37L362.00 218.27L362.40 218.95L362.80 220.31L363.20 222.23L363.60 224.50L364.00 226.88L364.40 229.10L364.80 230.95L365.20 232.21L365.60 232.76L366.00 232.54L366.40 231.57L366.80 229.95L367.20 227.86L367.60 225.52L368.00 223.17L368.40 221.08L368.80 219.45L369.20 218.47L369.60 218.24L370.00 218.77L370.40 220.03L370.80 221.87L371.20 224.09L371.60 226.46L372.00 228.73L372.40 230.66L372.80 232.04L373.20 232.72L373.60 232.63L374.00 231.79L374.40 230.27L374.80 228.25L375.20 225.93L375.60 223.57L376.00 221.42L376.40 219.69L376.80 218.59L377.20 218.22L377.60 218.63L378.00 219.76L378.40 221.51L378.80 223.68L379.20 226.05L379.60 228.36L380.00 230.36L380.40 231.85L380.80 232.66L381.20 232.71L381.60 231.99L382.00 230.58L382.40 228.63L382.80 226.35L383.20 223.98L383.60 221.77L384.00 219.95L384.40 218.73L384.80 218.23L385.20 218.50L385.60 219.52L386.00 221.17L386.40 223.28L386.80 225.63L387.20 227.97L387.60 230.04L388.00 231.63L388.40 232.57L388.80 232.75L389.20 232.17L389.60 230.87L390.00 229.00L390.40 226.76L390.80 224.39L391.20 222.13L391.60 220.23L392.00 218.90L392.40 218.26L392.80 218.40L393.20 219.29L393.60 220.84L394.00 222.89L394.40 225.21L394.80 227.57L395.20 229.71L395.60 231.40L396.00 232.46L396.40 232.78L396.80 232.32L397.20 231.14L397.60 229.36L398.00 227.17L398.40 224.80L398.80 222.51L399.20 220.53L399.60 219.08L400.00 218.32L400.40 218.32L400.80 219.08L401.20 220.53L401.60 222.50L402.00 224.80L402.40 227.17L402.80 229.36L403.20 231.14L403.60 232.32L404.00 232.78L404.40 232.46L404.80 231.40L405.20 229.71L405.60 227.58L406.00 225.22L406.40 222.89L406.80 220.84L407.20 219.29L407.60 218.40L408.00 218.26L408.40 218.89L408.80 220.23L409.20 222.13L409.60 224.38L410.00 226.76L410.40 229.00L410.80 230.87L411.20 232.16L411.60 232.75L412.00 232.57L412.40 231.63L412.80 230.04L413.20 227.97L413.60 225.64L414.00 223.29L414.40 221.17L414.80 219.52L415.20 218.50L415.60 218.23L416.00 218.73L416.40 219.95L416.80 221.76L417.20 223.97L417.60 226.35L418.00 228.63L418.40 230.58L418.80 231.99L419.20 232.70L419.60 232.66L420.00 231.85L420.40 230.36L420.80 228.36L421.20 226.05L421.60 223.69L422.00 221.51L422.40 219.77L422.80 218.63L423.20 218.22L423.60 218.59L424.00 219.69L424.40 221.41L424.80 223.57L425.20 225.93L425.60 228.25L426.00 230.27L426.40 231.79L426.80 232.63L427.20 232.72L427.60 232.04L428.00 230.67L428.40 228.74L428.80 226.47L429.20 224.09L429.60 221.87L430.00 220.03L430.40 218.78L430.80 218.24L431.20 218.47L431.60 219.45L432.00 221.07L432.40 223.17L432.80 225.51L433.20 227.85L433.60 229.95L434.00 231.57L434.40 232.54L434.80 232.76L435.20 232.21L435.60 230.95L436.00 229.11L436.40 226.88L436.80 224.51L437.20 222.24L437.60 220.32L438.00 218.95L438.40 218.28L438.80 218.37L439.20 219.23L439.60 220.75L440.00 222.78L440.40 225.10L440.80 227.46L441.20 229.61L441.60 231.32L442.00 232.42L442.40 232.78L442.80 232.36L443.20 231.22L443.60 229.46L444.00 227.29L444.40 224.92L444.80 222.62L445.20 220.62L445.60 219.14L446.00 218.34L446.40 218.30L446.80 219.03L447.20 220.44L447.60 222.39L448.00 224.68L448.40 227.05L448.80 229.26L449.20 231.06L449.60 232.28L450.00 232.77L450.40 232.49L450.80 231.47L451.20 229.81L451.60 227.69L452.00 225.34L452.40 223.00L452.80 220.94L453.20 219.35L453.60 218.43L454.00 218.25L454.40 218.85L454.80 220.15L455.20 222.02L455.60 224.27L456.00 226.64L456.40 228.89L456.80 230.79L457.20 232.12L457.60 232.74L458.00 232.60L458.40 231.70L458.80 230.14L459.20 228.08L459.60 225.76L460.00 223.40L460.40 221.27L460.80 219.59L461.20 218.53L461.60 218.22L462.00 218.69L462.40 219.88L462.80 221.66L463.20 223.86L463.60 226.23L464.00 228.52L464.40 230.49L464.80 231.93L465.20 232.69L465.60 232.68L466.00 231.91L466.40 230.45L466.80 228.47L467.20 226.17L467.60 223.80L468.00 221.62L468.40 219.84L468.80 218.67L469.20 218.22L469.60 218.55L470.00 219.62L470.40 221.31L470.80 223.45L471.20 225.81L471.60 228.13L472.00 230.18L472.40 231.72L472.80 232.61L473.20 232.74L473.60 232.09L474.00 230.75L474.40 228.85L474.80 226.59L475.20 224.21L475.60 221.97L476.00 220.11L476.40 218.82L476.80 218.24L477.20 218.44L477.60 219.38L478.00 220.98L478.40 223.06L478.80 225.39L479.20 227.74L479.60 229.85L480.00 231.50L480.40 232.51L480.80 232.77L481.20 232.26L481.60 231.03L482.00 229.21L482.40 227.00L482.80 224.62L483.20 222.35L483.60 220.40L484.00 219.00L484.40 218.29L484.80 218.35L485.20 219.17L485.60 220.66L486.00 222.67L486.40 224.98L486.80 227.34L487.20 229.51L487.60 231.25L488.00 232.38L488.40 232.78L488.80 232.40L489.20 231.29L489.60 229.56L490.00 227.40L490.40 225.04L490.80 222.73L491.20 220.71L491.60 219.20L492.00 218.36L492.40 218.28L492.80 218.97L493.20 220.36L493.60 222.29L494.00 224.56L494.40 226.93L494.80 229.16L495.20 230.99L495.60 232.23L496.00 232.77L496.40 232.52L496.80 231.53L497.20 229.90L497.60 227.80L498.00 225.46L498.40 223.12L498.80 221.03L499.20 219.42L499.60 218.45L500.00 218.24L500.40 218.80L500.80 220.07L501.20 221.92L501.60 224.15L502.00 226.52L502.40 228.79L502.80 230.70L503.20 232.07L503.60 232.73L504.00 232.62L504.40 231.76L504.80 230.23L505.20 228.19L505.60 225.87L506.00 223.52L506.40 221.37L506.80 219.66L507.20 218.57L507.60 218.22L508.00 218.65L508.40 219.80L508.80 221.56L509.20 223.74L509.60 226.11L510.00 228.41L510.40 230.40L510.80 231.87L511.20 232.67L511.60 232.70L512.00 231.96L512.40 230.54L512.80 228.58L513.20 226.29L513.60 223.92L514.00 221.72L514.40 219.92L514.80 218.71L515.20 218.23L515.60 218.52L516.00 219.55L516.40 221.22L516.80 223.34L517.20 225.69L517.60 228.02L518.00 230.09L518.40 231.66L518.80 232.58L519.20 232.75L519.60 232.14L520.00 230.83L520.40 228.95L520.80 226.70L521.20 224.33L521.60 222.08L522.00 220.19L522.40 218.87L522.80 218.26L523.20 218.41L523.60 219.32L524.00 220.89L524.40 222.94L524.80 225.27L525.20 227.63L525.60 229.76L526.00 231.43L526.40 232.47L526.80 232.78L527.20 232.30L527.60 231.11L528.00 229.31L528.40 227.11L528.80 224.74L529.20 222.45L529.60 220.49L530.00 219.05L530.40 218.31L530.80 218.33L531.20 219.11L531.60 220.57L532.00 222.56L532.40 224.86L532.80 227.23L533.20 229.41L533.60 231.18L534.00 232.34L534.40 232.78L534.80 232.44L535.20 231.36L535.60 229.66L536.00 227.52L536.40 225.16L536.80 222.84L537.20 220.80L537.60 219.26L538.00 218.39L538.40 218.27L538.80 218.92L539.20 220.27L539.60 222.18L540.00 224.44L540.40 226.82L540.80 229.05L541.20 230.91L541.60 232.19L542.00 232.76L542.40 232.55L542.80 231.60L543.20 230.00L543.60 227.92L544.00 225.58L544.40 223.23L544.80 221.12L545.20 219.48L545.60 218.49L546.00 218.23L546.40 218.75L546.80 219.99L547.20 221.81L547.60 224.03L548.00 226.40L548.40 228.68L548.80 230.62L549.20 232.01L549.60 232.71L550.00 232.65L550.40 231.82L550.80 230.32L551.20 228.31L551.60 225.99L552.00 223.63L552.40 221.47L552.80 219.73L553.20 218.61L553.60 218.22L554.00 218.61L554.40 219.73L554.80 221.46L555.20 223.63L555.60 225.99L556.00 228.30L556.40 230.31L556.80 231.82L557.20 232.65L557.60 232.71L558.00 232.02L558.40 230.62L558.80 228.69L559.20 226.41L559.60 224.04L560.00 221.82L560.40 219.99L560.80 218.75L561.20 218.23L561.60 218.48L562.00 219.48L562.40 221.12L562.80 223.23L563.20 225.57L563.60 227.91L564.00 229.99L564.40 231.60L564.80 232.55L565.20 232.76L565.60 232.19L566.00 230.91L566.40 229.06L566.80 226.82L567.20 224.45L567.60 222.19L568.00 220.28L568.40 218.92L568.80 218.27L569.20 218.38L569.60 219.26L570.00 220.79L570.40 222.83L570.80 225.15L571.20 227.51L571.60 229.66L572.00 231.36L572.40 232.44L572.80 232.78L573.20 232.34L573.60 231.18L574.00 229.41L574.40 227.23L574.80 224.86L575.20 222.56L575.60 220.57L576.00 219.11L576.40 218.33L576.80 218.31L577.20 219.05L577.60 220.48L578.00 222.45L578.40 224.74L578.80 227.11L579.20 229.31L579.60 231.10L580.00 232.30L580.40 232.77L580.80 232.48L581.20 231.43L581.60 229.76L582.00 227.63L582.40 225.28L582.80 222.95L583.20 220.89L583.60 219.32L584.00 218.41L584.40 218.25L584.80 218.87L585.20 220.19L585.60 222.08L586.00 224.32L586.40 226.70L586.80 228.95L587.20 230.83L587.60 232.14L588.00 232.75L588.40 232.58L588.80 231.66L589.20 230.09L589.60 228.03L590.00 225.70L590.40 223.34L590.80 221.22L591.20 219.55L591.60 218.52L592.00 218.23L592.40 218.71L592.80 219.91L593.20 221.71L593.60 223.92L594.00 226.29L594.40 228.57L594.80 230.53L595.20 231.96L595.60 232.70L596.00 232.67L596.40 231.88L596.80 230.41L597.20 228.42L597.60 226.11L598.00 223.75L598.40 221.57L598.80 219.80L599.20 218.65L599.60 218.22L600.00 218.57L600.40 219.65L600.80 221.36L601.20 223.51L601.60 225.87L602.00 228.19L602.40 230.22L602.80 231.76L603.20 232.62L603.60 232.73L604.00 232.07L604.40 230.71L604.80 228.79L605.20 226.53L605.60 224.15L606.00 221.92L606.40 220.07L606.80 218.80L607.20 218.24L607.60 218.45L608.00 219.42L608.40 221.03L608.80 223.11L609.20 225.45L609.60 227.80L610.00 229.90L610.40 231.53L610.80 232.52L611.20 232.77L611.60 232.24L612.00 230.99L612.40 229.16L612.80 226.94L613.20 224.57L613.60 222.29L614.00 220.36L614.40 218.97L614.80 218.28L615.20 218.36L615.60 219.20L616.00 220.70L616.40 222.72L616.80 225.04L617.20 227.40L617.60 229.56L618.00 231.29L618.40 232.40L618.80 232.78L619.20 232.38L619.60 231.26L620.00 229.51L620.40 227.35L620.80 224.98L621.20 222.67L621.60 220.66L622.00 219.17L622.40 218.35L622.80 218.29L623.20 219.00L623.60 220.40L624.00 222.34L624.40 224.62L624.80 226.99L625.20 229.21L625.60 231.03L626.00 232.26L626.40 232.77L626.80 232.51L627.20 231.50L627.60 229.86L628.00 227.75L628.40 225.40L628.80 223.06L629.20 220.98L629.60 219.39L630.00 218.44L630.40 218.24L630.80 218.82L631.20 220.11L631.60 221.97L632.00 224.21L632.40 226.58L632.80 228.84L633.20 230.75L633.60 232.09L634.00 232.74L634.40 232.61L634.80 231.73L635.20 230.18L635.60 228.14L636.00 225.82L636.40 223.46L636.80 221.32L637.20 219.62L637.60 218.55L638.00 218.22L638.40 218.67L638.80 219.84L639.20 221.61L639.60 223.80L640.00 226.17L640.40 228.47L640.80 230.45L641.20 231.90L641.60 232.68L642.00 232.69L642.40 231.93L642.80 230.49L643.20 228.52L643.60 226.23L644.00 223.86L644.40 221.67L644.80 219.88L645.20 218.69L645.60 218.22L646.00 218.53L646.40 219.58L646.80 221.26L647.20 223.40L647.60 225.75L648.00 228.08L648.40 230.13L648.80 231.69L649.20 232.60L649.60 232.74L650.00 232.12L650.40 230.79L650.80 228.90L651.20 226.65L651.60 224.27L652.00 222.03L652.40 220.15L652.80 218.85L653.20 218.25L653.60 218.42L654.00 219.35L654.40 220.93L654.80 223.00L655.20 225.33L655.60 227.68L656.00 229.80L656.40 231.46L656.80 232.49L657.20 232.77L657.60 232.28L658.00 231.07L658.40 229.26L658.80 227.06L659.20 224.68L659.60 222.40L660.00 220.44L660.40 219.03L660.80 218.30L661.20 218.34L661.60 219.14L662.00 220.62L662.40 222.61L662.80 224.92L663.20 227.28L663.60 229.46L664.00 231.22L664.40 232.36L664.80 232.78L665.20 232.42L665.60 231.33L666.00 229.61L666.40 227.46L666.80 225.10L667.20 222.78L667.60 220.75L668.00 219.23L668.40 218.37L668.80 218.27L669.20 218.95L669.60 220.31L670.00 222.23L670.40 224.50L670.80 226.88L671.20 229.10L671.60 230.95L672.00 232.21L672.40 232.76L672.80 232.54L673.20 231.57L673.60 229.95L674.00 227.86L674.40 225.52L674.80 223.17L675.20 221.08L675.60 219.45L676.00 218.47L676.40 218.24L676.80 218.77L677.20 220.03L677.60 221.87L678.00 224.09L678.40 226.46L678.80 228.73L679.20 230.66L679.60 232.04L680.00 232.72L680.40 232.63L680.80 231.79L681.20 230.27L681.60 228.25L682.00 225.93L682.40 223.57L682.80 221.42L683.20 219.69L683.60 218.59L684.00 218.22L684.40 218.63L684.80 219.76L685.20 221.51L685.60 223.68L686.00 226.05L686.40 228.36L686.80 230.36L687.20 231.85L687.60 232.66L688.00 232.71L688.40 231.99L688.80 230.58L689.20 228.63L689.60 226.35L690.00 223.98L690.40 221.77L690.80 219.95L691.20 218.73L691.60 218.23L692.00 218.50L692.40 219.52L692.80 221.17L693.20 223.28L693.60 225.63L694.00 227.97L694.40 230.04L694.80 231.63L695.20 232.57L695.60 232.75L696.00 232.17L696.40 230.87L696.80 229.00L697.20 226.76L697.60 224.39L698.00 222.13L698.40 220.23L698.80 218.90L699.20 218.26L699.60 218.40L700.00 219.29L700.40 220.84L700.80 222.89L701.20 225.21L701.60 227.57L702.00 229.71L702.40 231.40L702.80 232.46L703.20 232.78L703.60 232.32L704.00 231.14L704.40 229.36L704.80 227.17L705.20 224.80L705.60 222.51L706.00 220.53L706.40 219.08L706.80 218.32L707.20 218.32L707.60 219.08L708.00 220.53L708.40 222.50L708.80 224.80L709.20 227.17L709.60 229.36L710.00 231.14L710.40 232.32L710.80 232.78L711.20 232.46L711.60 231.40L712.00 229.71L712.40 227.58L712.80 225.22L713.20 222.89L713.60 220.84L714.00 219.29L714.40 218.40L714.80 218.26L715.20 218.89L715.60 220.23L716.00 222.13L716.40 224.38L716.80 226.76L717.20 229.00L717.60 230.87L718.00 232.16L718.40 232.75L718.80 232.57L719.20 231.63L719.60 230.04L720.00 227.97L720.40 225.64L720.80 223.29L721.20 221.17L721.60 219.52L722.00 218.50L722.40 218.23L722.80 218.73L723.20 219.95L723.60 221.76L724.00 223.97L724.40 226.35L724.80 228.63L725.20 230.58L725.60 231.99L726.00 232.70L726.40 232.66L726.80 231.85L727.20 230.36L727.60 228.36L728.00 226.05L728.40 223.69L728.80 221.51L729.20 219.77L729.60 218.63L730.00 218.22L730.40 218.59L730.80 219.69L731.20 221.41L731.60 223.57L732.00 225.93L732.40 228.25L732.80 230.27L733.20 231.79L733.60 232.63L734.00 232.72L734.40 232.04L734.80 230.67L735.20 228.74L735.60 226.47L736.00 224.09L736.40 221.87L736.80 220.03L737.20 218.78L737.60 218.24L738.00 218.47L738.40 219.45L738.80 221.07L739.20 223.17L739.60 225.51L740.00 227.85L740.40 229.95L740.80 231.57L741.20 232.54L741.60 232.76L742.00 232.21L742.40 230.95L742.80 229.11L743.20 226.88L743.60 224.51L744.00 222.24L744.40 220.32L744.80 218.95L745.20 218.28L745.60 218.37L746.00 219.23L746.40 220.75L746.80 222.78L747.20 225.10L747.60 227.46L748.00 229.61L748.40 231.32L748.80 232.42L749.20 232.78L749.60 232.36L750.00 231.22L750.40 229.46L750.80 227.29L751.20 224.92L751.60 222.62L752.00 220.62L752.40 219.14L752.80 218.34L753.20 218.30L753.60 219.03L754.00 220.44L754.40 222.39L754.80 224.68L755.20 227.05L755.60 229.26L756.00 231.06L756.40 232.28L756.80 232.77L757.20 232.49L757.60 231.47L758.00 229.81L758.40 227.69L758.80 225.34L759.20 223.00L759.60 220.94L760.00 219.35L760.40 218.43L760.80 218.25L761.20 218.85L761.60 220.15L762.00 222.02L762.40 224.27L762.80 226.64L763.20 228.89L763.60 230.79L764.00 232.12L764.40 232.74L764.80 232.60L765.20 231.70L765.60 230.14L766.00 228.08L766.40 225.76L766.80 223.40L767.20 221.27L767.60 219.59L768.00 218.53L768.40 218.22L768.80 218.69L769.20 219.88L769.60 221.66L770.00 223.86L770.40 226.23L770.80 228.52L771.20 230.49L771.60 231.93L772.00 232.69L772.40 232.68L772.80 231.91L773.20 230.45L773.60 228.47L774.00 226.17L774.40 223.80L774.80 221.62L775.20 219.84L775.60 218.67L776.00 218.22L776.40 218.55L776.80 219.62L777.20 221.31L777.60 223.45L778.00 225.81L778.40 228.13L778.80 230.18L779.20 231.72L779.60 232.61L780.00 232.74L780.40 232.09L780.80 230.75L781.20 228.85L781.60 226.59L782.00 224.21L782.40 221.97L782.80 220.11L783.20 218.82L783.60 218.24L784.00 218.44L784.40 219.38L784.80 220.98L785.20 223.06L785.60 225.39L786.00 227.74L786.40 229.85L786.80 231.50L787.20 232.51L787.60 232.77L788.00 232.26L788.40 231.03L788.80 229.21L789.20 227.00L789.60 224.62L790.00 222.35L790.40 220.40L790.80 219.00L791.20 218.29L791.60 218.35L792.00 219.17L792.40 220.66L792.80 222.67L793.20 224.98L793.60 227.34L794.00 229.51L794.40 231.25L794.80 232.38L795.20 232.78L795.60 232.40L796.00 231.29L796.40 229.56L796.80 227.40L797.20 225.04L797.60 222.73L798.00 220.71L798.40 219.20L798.80 218.36L799.20 218.28L799.60 218.97L800.00 220.36L800.40 222.29L800.80 224.56L801.20 226.93L801.60 229.16L802.00 230.99L802.40 232.23L802.80 232.77L803.20 232.52L803.60 231.53L804.00 229.90L804.40 227.80L804.80 225.46L805.20 223.12L805.60 221.03L806.00 219.42L806.40 218.45L806.80 218.24L807.20 218.80L807.60 220.07L808.00 221.92L808.40 224.15L808.80 226.52L809.20 228.79L809.60 230.70L810.00 232.07L810.40 232.73L810.80 232.62L811.20 231.76L811.60 230.23L812.00 228.19L812.40 225.87L812.80 223.52L813.20 221.37L813.60 219.66L814.00 218.57L814.40 218.22L814.80 218.65L815.20 219.80L815.60 221.56L816.00 223.74L816.40 226.11L816.80 228.41L817.20 230.40L817.60 231.87L818.00 232.67L818.40 232.70L818.80 231.96L819.20 230.54L819.60 228.58L820.00 226.29L820.40 223.92L820.80 221.72L821.20 219.92L821.60 218.71L822.00 218.23L822.40 218.52L822.80 219.55L823.20 221.22L823.60 223.34L824.00 225.69L824.40 228.02L824.80 230.09L825.20 231.66L825.60 232.58L826.00 232.75L826.40 232.14L826.80 230.83L827.20 228.95L827.60 226.70L828.00 224.33L828.40 222.08L828.80 220.19L829.20 218.87L829.60 218.26L830.00 218.41L830.40 219.32L830.80 220.89L831.20 222.94L831.60 225.27L832.00 227.63L832.40 229.76L832.80 231.43L833.20 232.47L833.60 232.78L834.00 232.30L834.40 231.11L834.80 229.31L835.20 227.11L835.60 224.74L836.00 222.45L836.40 220.49L836.80 219.05L837.20 218.31L837.60 218.33L838.00 219.11L838.40 220.57L838.80 222.56L839.20 224.86L839.60 227.23L840.00 229.41L840.40 231.18L840.80 232.34L841.20 232.78L841.60 232.44L842.00 231.36L842.40 229.66L842.80 227.52L843.20 225.16L843.60 222.84L844.00 220.80L844.40 219.26L844.80 218.39L845.20 218.27L845.60 218.92L846.00 220.27L846.40 222.18L846.80 224.44L847.20 226.82L847.60 229.05L848.00 230.91L848.40 232.19L848.80 232.76L849.20 232.55L849.60 231.60L850.00 230.00L850.40 227.92L850.80 225.58L851.20 223.23L851.60 221.12L852.00 219.48L852.40 218.49L852.80 218.23L853.20 218.75L853.60 219.99L854.00 221.81L854.40 224.03L854.80 226.40L855.20 228.68L855.60 230.62L856.00 232.01L856.40 232.71L856.80 232.65L857.20 231.82L857.60 230.32L858.00 228.31L858.40 225.99L858.80 223.63L859.20 221.47L859.60 219.73L860.00 218.61L860.40 218.22L860.80 218.61L861.20 219.73L861.60 221.46L862.00 223.63L862.40 225.99L862.80 228.30L863.20 230.31L863.60 231.82L864.00 232.65L864.40 232.71L864.80 232.02L865.20 230.62L865.60 228.69L866.00 226.41L866.40 224.04L866.80 221.82L867.20 219.99L867.60 218.75L868.00 218.23L868.40 218.48L868.80 219.48L869.20 221.12L869.60 223.23L870.00 225.57L870.40 227.91L870.80 229.99L871.20 231.60L871.60 232.55L872.00 232.76L872.40 232.19L872.80 230.91L873.20 229.06L873.60 226.82L874.00 224.45L874.40 222.19L874.80 220.28L875.20 218.92L875.60 218.27L876.00 218.38L876.40 219.26L876.80 220.79L877.20 222.83L877.60 225.15L878.00 227.51L878.40 229.66L878.80 231.36L879.20 232.44L879.60 232.78L880.00 232.34L880.40 231.18L880.80 229.41L881.20 227.23L881.60 224.86L882.00 222.56L882.40 220.57L882.80 219.11L883.20 218.33L883.60 218.31L884.00 219.05L884.40 220.48L884.80 222.45L885.20 224.74L885.60 227.11L886.00 229.31L886.40 231.10L886.80 232.30L887.20 232.77L887.60 232.48L888.00 231.43L888.40 229.76L888.80 227.63L889.20 225.28L889.60 222.95L890.00 220.89L890.40 219.32L890.80 218.41L891.20 218.25L891.60 218.87L892.00 220.19L892.40 222.08L892.80 224.32L893.20 226.70L893.60 228.95L894.00 230.83L894.40 232.14L894.80 232.75L895.20 232.58L895.60 231.66L896.00 230.09L896.40 228.03L896.80 225.70L897.20 223.34L897.60 221.22L898.00 219.55L898.40 218.52L898.80 218.23L899.20 218.71L899.60 219.91L900.00 221.71L900.40 223.92L900.80 226.29L901.20 228.57L901.60 230.53L902.00 231.96L902.40 232.70L902.80 232.67L903.20 231.88L903.60 230.41L904.00 228.42L904.40 226.11L904.80 223.75L905.20 221.57L905.60 219.80L906.00 218.65" stroke="#348ABD" stroke-width="1.5" fill="none" stroke-linejoin="round" clip-path="url(#u)"/>
<path d="M139.0 225.5H905.0" stroke="#988ED5" stroke-width="1.5"/>
<path d="M120.25 150.00L120.25 163.00L120.63 165.80L121.70 165.80L122.32 161.00L122.47 150.00ZM127.92 150.00L127.92 163.00L128.30 165.80L129.37 165.80L129.99 161.00L130.14 150.00ZM135.59 150.00L135.59 163.00L135.97 165.80L137.04 165.80L137.66 161.00L137.81 150.00ZM143.26 150.00L143.26 163.00L143.64 165.80L144.71 165.80L145.33 161.00L145.48 150.00ZM150.93 150.00L150.93 163.00L151.31 165.80L152.38 165.80L153.00 161.00L153.15 150.00ZM158.60 150.00L158.60 163.00L158.98 165.80L160.05 165.80L160.67 161.00L160.82 150.00ZM166.27 150.00L166.27 163.00L166.65 165.80L167.72 165.80L168.34 161.00L168.49 150.00ZM173.94 150.00L173.94 163.00L174.32 165.80L175.39 165.80L176.01 161.00L176.16 150.00ZM181.61 150.00L181.61 163.00L181.99 165.80L183.06 165.80L183.68 161.00L183.83 150.00ZM189.28 150.00L189.28 163.00L189.66 165.80L190.73 165.80L191.35 161.00L191.50 150.00ZM196.95 150.00L196.95 163.00L197.33 165.80L198.40 165.80L199.02 161.00L199.17 150.00ZM204.62 150.00L204.62 163.00L205.00 165.80L206.07 165.80L206.69 161.00L206.84 150.00ZM212.29 150.00L212.29 163.00L212.67 165.80L213.74 165.80L214.36 161.00L214.51 150.00ZM219.96 150.00L219.96 163.00L220.34 165.80L221.41 165.80L222.03 161.00L222.18 150.00ZM227.63 150.00L227.63 163.00L228.01 165.80L229.08 165.80L229.70 161.00L229.85 150.00ZM235.30 150.00L235.30 163.00L235.68 165.80L236.75 165.80L237.37 161.00L237.52 150.00ZM242.97 150.00L242.97 163.00L243.35 165.80L244.42 165.80L245.04 161.00L245.19 150.00ZM250.64 150.00L250.64 163.00L251.02 165.80L252.09 165.80L252.71 161.00L252.86 150.00ZM258.31 150.00L258.31 163.00L258.69 165.80L259.76 165.80L260.38 161.00L260.53 150.00ZM265.98 150.00L265.98 163.00L266.36 165.80L267.43 165.80L268.05 161.00L268.20 150.00ZM273.65 150.00L273.65 163.00L274.03 165.80L275.10 165.80L275.72 161.00L275.87 150.00ZM281.32 150.00L281.32 163.00L281.70 165.80L282.77 165.80L283.39 161.00L283.54 150.00ZM288.99 150.00L288.99 163.00L289.37 165.80L290.44 165.80L291.06 161.00L291.21 150.00ZM296.66 150.00L296.66 163.00L297.04 165.80L298.11 165.80L298.73 161.00L298.88 150.00ZM304.33 150.00L304.33 163.00L304.71 165.80L305.78 165.80L306.40 161.00L306.55 150.00ZM312.00 150.00L312.00 163.00L312.38 165.80L313.45 165.80L314.07 161.00L314.22 150.00ZM319.67 150.00L319.67 163.00L320.05 165.80L321.12 165.80L321.74 161.00L321.89 150.00ZM327.34 150.00L327.34 163.00L327.72 165.80L328.79 165.80L329.41 161.00L329.56 150.00ZM335.01 150.00L335.01 163.00L335.39 165.80L336.46 165.80L337.08 161.00L337.23 150.00ZM342.68 150.00L342.68 163.00L343.06 165.80L344.13 165.80L344.75 161.00L344.90 150.00ZM350.35 150.00L350.35 163.00L350.73 165.80L351.80 165.80L352.42 161.00L352.57 150.00ZM358.02 150.00L358.02 163.00L358.40 165.80L359.47 165.80L360.09 161.00L360.24 150.00ZM365.69 150.00L365.69 163.00L366.07 165.80L367.14 165.80L367.76 161.00L367.91 150.00ZM373.36 150.00L373.36 163.00L373.74 165.80L374.81 165.80L375.43 161.00L375.58 150.00ZM381.03 150.00L381.03 163.00L381.41 165.80L382.48 165.80L383.10 161.00L383.25 150.00ZM388.70 150.00L388.70 163.00L389.08 165.80L390.15 165.80L390.77 161.00L390.92 150.00ZM396.37 150.00L396.37 163.00L396.75 165.80L397.82 165.80L398.44 161.00L398.59 150.00ZM404.04 150.00L404.04 163.00L404.42 165.80L405.49 165.80L406.11 161.00L406.26 150.00ZM411.71 150.00L411.71 163.00L412.09 165.80L413.16 165.80L413.78 161.00L413.93 150.00ZM419.38 150.00L419.38 163.00L419.76 165.80L420.83 165.80L421.45 161.00L421.60 150.00ZM427.05 150.00L427.05 163.00L427.43 165.80L428.50 165.80L429.12 161.00L429.27 150.00ZM434.72 150.00L434.72 163.00L435.10 165.80L436.17 165.80L436.79 161.00L436.94 150.00ZM442.39 150.00L442.39 163.00L442.77 165.80L443.84 165.80L444.46 161.00L444.61 150.00ZM450.06 150.00L450.06 163.00L450.44 165.80L451.51 165.80L452.13 161.00L452.28 150.00ZM457.73 150.00L457.73 163.00L458.11 165.80L459.18 165.80L459.80 161.00L459.95 150.00ZM465.40 150.00L465.40 163.00L465.78 165.80L466.85 165.80L467.47 161.00L467.62 150.00ZM473.07 150.00L473.07 163.00L473.45 165.80L474.52 165.80L475.14 161.00L475.29 150.00ZM480.74 150.00L480.74 163.00L481.12 165.80L482.19 165.80L482.81 161.00L482.96 150.00ZM488.41 150.00L488.41 163.00L488.79 165.80L489.86 165.80L490.48 161.00L490.63 150.00ZM496.08 150.00L496.08 163.00L496.46 165.80L497.53 165.80L498.15 161.00L498.30 150.00ZM503.75 150.00L503.75 163.00L504.13 165.80L505.20 165.80L505.82 161.00L505.97 150.00ZM511.42 150.00L511.42 163.00L511.80 165.80L512.87 165.80L513.49 161.00L513.64 150.00ZM519.09 150.00L519.09 163.00L519.47 165.80L520.54 165.80L521.16 161.00L521.31 150.00ZM526.76 150.00L526.76 163.00L527.14 165.80L528.21 165.80L528.83 161.00L528.98 150.00ZM534.43 150.00L534.43 163.00L534.81 165.80L535.88 165.80L536.50 161.00L536.65 150.00ZM542.10 150.00L542.10 163.00L542.48 165.80L543.55 165.80L544.17 161.00L544.32 150.00ZM549.77 150.00L549.77 163.00L550.15 165.80L551.22 165.80L551.84 161.00L551.99 150.00ZM557.44 150.00L557.44 163.00L557.82 165.80L558.89 165.80L559.51 161.00L559.66 150.00ZM565.11 150.00L565.11 163.00L565.49 165.80L566.56 165.80L567.18 161.00L567.33 150.00ZM572.78 150.00L572.78 163.00L573.16 165.80L574.23 165.80L574.85 161.00L575.00 150.00ZM580.45 150.00L580.45 163.00L580.83 165.80L581.90 165.80L582.52 161.00L582.67 150.00ZM588.12 150.00L588.12 163.00L588.50 165.80L589.57 165.80L590.19 161.00L590.34 150.00ZM595.79 150.00L595.79 163.00L596.17 165.80L597.24 165.80L597.86 161.00L598.01 150.00ZM603.46 150.00L603.46 163.00L603.84 165.80L604.91 165.80L605.53 161.00L605.68 150.00ZM611.13 150.00L611.13 163.00L611.51 165.80L612.58 165.80L613.20 161.00L613.35 150.00ZM618.80 150.00L618.80 163.00L619.18 165.80L620.25 165.80L620.87 161.00L621.02 150.00ZM626.47 150.00L626.47 163.00L626.85 165.80L627.92 165.80L628.54 161.00L628.69 150.00ZM634.14 150.00L634.14 163.00L634.52 165.80L635.59 165.80L636.21 161.00L636.36 150.00ZM641.81 150.00L641.81 163.00L642.19 165.80L643.26 165.80L643.88 161.00L644.03 150.00ZM649.48 150.00L649.48 163.00L649.86 165.80L650.93 165.80L651.55 161.00L651.70 150.00ZM657.15 150.00L657.15 163.00L657.53 165.80L658.60 165.80L659.22 161.00L659.37 150.00ZM664.82 150.00L664.82 163.00L665.20 165.80L666.27 165.80L666.89 161.00L667.04 150.00ZM672.49 150.00L672.49 163.00L672.87 165.80L673.94 165.80L674.56 161.00L674.71 150.00ZM680.16 150.00L680.16 163.00L680.54 165.80L681.61 165.80L682.23 161.00L682.38 150.00ZM687.83 150.00L687.83 163.00L688.21 165.80L689.28 165.80L689.90 161.00L690.05 150.00ZM695.50 150.00L695.50 163.00L695.88 165.80L696.95 165.80L697.57 161.00L697.72 150.00ZM703.17 150.00L703.17 163.00L703.55 165.80L704.62 165.80L705.24 161.00L705.39 150.00ZM710.84 150.00L710.84 163.00L711.22 165.80L712.29 165.80L712.91 161.00L713.06 150.00ZM718.51 150.00L718.51 163.00L718.89 165.80L719.96 165.80L720.58 161.00L720.73 150.00ZM726.18 150.00L726.18 163.00L726.56 165.80L727.63 165.80L728.25 161.00L728.40 150.00ZM733.85 150.00L733.85 163.00L734.23 165.80L735.30 165.80L735.92 161.00L736.07 150.00ZM741.52 150.00L741.52 163.00L741.90 165.80L742.97 165.80L743.59 161.00L743.74 150.00ZM749.19 150.00L749.19 163.00L749.57 165.80L750.64 165.80L751.26 161.00L751.41 150.00ZM756.86 150.00L756.86 163.00L757.24 165.80L758.31 165.80L758.93 161.00L759.08 150.00ZM764.53 150.00L764.53 163.00L764.91 165.80L765.98 165.80L766.60 161.00L766.75 150.00ZM772.20 150.00L772.20 163.00L772.58 165.80L773.65 165.80L774.27 161.00L774.42 150.00ZM779.87 150.00L779.87 163.00L780.25 165.80L781.32 165.80L781.94 161.00L782.09 150.00ZM787.54 150.00L787.54 163.00L787.92 165.80L788.99 165.80L789.61 161.00L789.76 150.00ZM795.21 150.00L795.21 163.00L795.59 165.80L796.66 165.80L797.28 161.00L797.43 150.00ZM802.88 150.00L802.88 163.00L803.26 165.80L804.33 165.80L804.95 161.00L805.10 150.00ZM810.55 150.00L810.55 163.00L810.93 165.80L812.00 165.80L812.62 161.00L812.77 150.00ZM818.22 150.00L818.22 163.00L818.60 165.80L819.67 165.80L820.29 161.00L820.44 150.00ZM825.89 150.00L825.89 163.00L826.27 165.80L827.34 165.80L827.96 161.00L828.11 150.00ZM833.56 150.00L833.56 163.00L833.94 165.80L835.01 165.80L835.63 161.00L835.78 150.00ZM841.23 150.00L841.23 163.00L841.61 165.80L842.68 165.80L843.30 161.00L843.45 150.00ZM848.90 150.00L848.90 163.00L849.28 165.80L850.35 165.80L850.97 161.00L851.12 150.00ZM856.57 150.00L856.57 163.00L856.95 165.80L858.02 165.80L858.64 161.00L858.79 150.00ZM864.24 150.00L864.24 163.00L864.62 165.80L865.69 165.80L866.31 161.00L866.46 150.00ZM871.91 150.00L871.91 163.00L872.29 165.80L873.36 165.80L873.98 161.00L874.13 150.00ZM879.58 150.00L879.58 163.00L879.96 165.80L881.03 165.80L881.65 161.00L881.80 150.00ZM887.25 150.00L887.25 163.00L887.63 165.80L888.70 165.80L889.32 161.00L889.47 150.00ZM894.92 150.00L894.92 163.00L895.30 165.80L896.37 165.80L896.99 161.00L897.14 150.00ZM902.59 150.00L902.59 163.00L902.97 165.80L904.04 165.80L904.66 161.00L904.81 150.00ZM910.26 150.00L910.26 163.00L910.64 165.80L911.71 165.80L912.33 161.00L912.48 150.00ZM917.93 150.00L917.93 163.00L918.31 165.80L919.38 165.80L920.00 161.00L920.15 150.00ZM925.60 150.00L925.60 163.00L925.98 165.80L927.05 165.80L927.67 161.00L927.82 150.00Z" fill="#777777" stroke="#777777" stroke-width="0.3" stroke-linejoin="round" clip-path="url(#u)"/>
<path d="M125.38 128.00L127.38 128.00L127.38 131.50L125.38 131.50ZM133.05 128.00L135.05 128.00L135.05 131.50L133.05 131.50ZM140.72 128.00L142.72 128.00L142.72 131.50L140.72 131.50ZM148.39 128.00L150.39 128.00L150.39 131.50L148.39 131.50ZM156.06 128.00L158.06 128.00L158.06 131.50L156.06 131.50ZM163.73 128.00L165.73 128.00L165.73 131.50L163.73 131.50ZM171.40 128.00L173.40 128.00L173.40 131.50L171.40 131.50ZM179.07 128.00L181.07 128.00L181.07 131.50L179.07 131.50ZM186.74 128.00L188.74 128.00L188.74 131.50L186.74 131.50ZM194.41 128.00L196.41 128.00L196.41 131.50L194.41 131.50ZM202.08 128.00L204.08 128.00L204.08 131.50L202.08 131.50ZM209.75 128.00L211.75 128.00L211.75 131.50L209.75 131.50ZM217.42 128.00L219.42 128.00L219.42 131.50L217.42 131.50ZM225.09 128.00L227.09 128.00L227.09 131.50L225.09 131.50ZM232.76 128.00L234.76 128.00L234.76 131.50L232.76 131.50ZM240.43 128.00L242.43 128.00L242.43 131.50L240.43 131.50ZM248.10 128.00L250.10 128.00L250.10 131.50L248.10 131.50ZM255.77 128.00L257.77 128.00L257.77 131.50L255.77 131.50ZM263.44 128.00L265.44 128.00L265.44 131.50L263.44 131.50ZM271.11 128.00L273.11 128.00L273.11 131.50L271.11 131.50ZM278.78 128.00L280.78 128.00L280.78 131.50L278.78 131.50ZM286.45 128.00L288.45 128.00L288.45 131.50L286.45 131.50ZM294.12 128.00L296.12 128.00L296.12 131.50L294.12 131.50ZM301.79 128.00L303.79 128.00L303.79 131.50L301.79 131.50ZM309.46 128.00L311.46 128.00L311.46 131.50L309.46 131.50ZM317.13 128.00L319.13 128.00L319.13 131.50L317.13 131.50ZM324.80 128.00L326.80 128.00L326.80 131.50L324.80 131.50ZM332.47 128.00L334.47 128.00L334.47 131.50L332.47 131.50ZM340.14 128.00L342.14 128.00L342.14 131.50L340.14 131.50ZM347.81 128.00L349.81 128.00L349.81 131.50L347.81 131.50ZM355.48 128.00L357.48 128.00L357.48 131.50L355.48 131.50ZM363.15 128.00L365.15 128.00L365.15 131.50L363.15 131.50ZM370.82 128.00L372.82 128.00L372.82 131.50L370.82 131.50ZM378.49 128.00L380.49 128.00L380.49 131.50L378.49 131.50ZM386.16 128.00L388.16 128.00L388.16 131.50L386.16 131.50ZM393.83 128.00L395.83 128.00L395.83 131.50L393.83 131.50ZM401.50 128.00L403.50 128.00L403.50 131.50L401.50 131.50ZM409.17 128.00L411.17 128.00L411.17 131.50L409.17 131.50ZM416.84 128.00L418.84 128.00L418.84 131.50L416.84 131.50ZM424.51 128.00L426.51 128.00L426.51 131.50L424.51 131.50ZM432.18 128.00L434.18 128.00L434.18 131.50L432.18 131.50ZM439.85 128.00L441.85 128.00L441.85 131.50L439.85 131.50ZM447.52 128.00L449.52 128.00L449.52 131.50L447.52 131.50ZM455.19 128.00L457.19 128.00L457.19 131.50L455.19 131.50ZM462.86 128.00L464.86 128.00L464.86 131.50L462.86 131.50ZM470.53 128.00L472.53 128.00L472.53 131.50L470.53 131.50ZM478.20 128.00L480.20 128.00L480.20 131.50L478.20 131.50ZM485.87 128.00L487.87 128.00L487.87 131.50L485.87 131.50ZM493.54 128.00L495.54 128.00L495.54 131.50L493.54 131.50ZM501.21 128.00L503.21 128.00L503.21 131.50L501.21 131.50ZM508.88 128.00L510.88 128.00L510.88 131.50L508.88 131.50ZM516.55 128.00L518.55 128.00L518.55 131.50L516.55 131.50ZM524.22 128.00L526.22 128.00L526.22 131.50L524.22 131.50ZM531.89 128.00L533.89 128.00L533.89 131.50L531.89 131.50ZM539.56 128.00L541.56 128.00L541.56 131.50L539.56 131.50ZM547.23 128.00L549.23 128.00L549.23 131.50L547.23 131.50ZM554.90 128.00L556.90 128.00L556.90 131.50L554.90 131.50ZM562.57 128.00L564.57 128.00L564.57 131.50L562.57 131.50ZM570.24 128.00L572.24 128.00L572.24 131.50L570.24 131.50ZM577.91 128.00L579.91 128.00L579.91 131.50L577.91 131.50ZM585.58 128.00L587.58 128.00L587.58 131.50L585.58 131.50ZM593.25 128.00L595.25 128.00L595.25 131.50L593.25 131.50ZM600.92 128.00L602.92 128.00L602.92 131.50L600.92 131.50ZM608.59 128.00L610.59 128.00L610.59 131.50L608.59 131.50ZM616.26 128.00L618.26 128.00L618.26 131.50L616.26 131.50ZM623.93 128.00L625.93 128.00L625.93 131.50L623.93 131.50ZM631.60 128.00L633.60 128.00L633.60 131.50L631.60 131.50ZM639.27 128.00L641.27 128.00L641.27 131.50L639.27 131.50ZM646.94 128.00L648.94 128.00L648.94 131.50L646.94 131.50ZM654.61 128.00L656.61 128.00L656.61 131.50L654.61 131.50ZM662.28 128.00L664.28 128.00L664.28 131.50L662.28 131.50ZM669.95 128.00L671.95 128.00L671.95 131.50L669.95 131.50ZM677.62 128.00L679.62 128.00L679.62 131.50L677.62 131.50ZM685.29 128.00L687.29 128.00L687.29 131.50L685.29 131.50ZM692.96 128.00L694.96 128.00L694.96 131.50L692.96 131.50ZM700.63 128.00L702.63 128.00L702.63 131.50L700.63 131.50ZM708.30 128.00L710.30 128.00L710.30 131.50L708.30 131.50ZM715.97 128.00L717.97 128.00L717.97 131.50L715.97 131.50ZM723.64 128.00L725.64 128.00L725.64 131.50L723.64 131.50ZM731.31 128.00L733.31 128.00L733.31 131.50L731.31 131.50ZM738.98 128.00L740.98 128.00L740.98 131.50L738.98 131.50ZM746.65 128.00L748.65 128.00L748.65 131.50L746.65 131.50ZM754.32 128.00L756.32 128.00L756.32 131.50L754.32 131.50ZM761.99 128.00L763.99 128.00L763.99 131.50L761.99 131.50ZM769.66 128.00L771.66 128.00L771.66 131.50L769.66 131.50ZM777.33 128.00L779.33 128.00L779.33 131.50L777.33 131.50ZM785.00 128.00L787.00 128.00L787.00 131.50L785.00 131.50ZM792.67 128.00L794.67 128.00L794.67 131.50L792.67 131.50ZM800.34 128.00L802.34 128.00L802.34 131.50L800.34 131.50ZM808.01 128.00L810.01 128.00L810.01 131.50L808.01 131.50ZM815.68 128.00L817.68 128.00L817.68 131.50L815.68 131.50ZM823.35 128.00L825.35 128.00L825.35 131.50L823.35 131.50ZM831.02 128.00L833.02 128.00L833.02 131.50L831.02 131.50ZM838.69 128.00L840.69 128.00L840.69 131.50L838.69 131.50ZM846.36 128.00L848.36 128.00L848.36 131.50L846.36 131.50ZM854.03 128.00L856.03 128.00L856.03 131.50L854.03 131.50ZM861.70 128.00L863.70 128.00L863.70 131.50L861.70 131.50ZM869.37 128.00L871.37 128.00L871.37 131.50L869.37 131.50ZM877.04 128.00L879.04 128.00L879.04 131.50L877.04 131.50ZM884.71 128.00L886.71 128.00L886.71 131.50L884.71 131.50ZM892.38 128.00L894.38 128.00L894.38 131.50L892.38 131.50ZM900.05 128.00L902.05 128.00L902.05 131.50L900.05 131.50ZM907.72 128.00L909.72 128.00L909.72 131.50L907.72 131.50ZM915.39 128.00L917.39 128.00L917.39 131.50L915.39 131.50ZM923.06 128.00L925.06 128.00L925.06 131.50L923.06 131.50ZM930.73 128.00L932.73 128.00L932.73 131.50L930.73 131.50ZM124.92 153.50L126.30 153.50L126.30 156.30L124.92 156.30ZM132.59 153.50L133.97 153.50L133.97 156.30L132.59 156.30ZM140.26 153.50L141.64 153.50L141.64 156.30L140.26 156.30ZM147.93 153.50L149.31 153.50L149.31 156.30L147.93 156.30ZM155.60 153.50L156.98 153.50L156.98 156.30L155.60 156.30ZM163.27 153.50L164.65 153.50L164.65 156.30L163.27 156.30ZM170.94 153.50L172.32 153.50L172.32 156.30L170.94 156.30ZM178.61 153.50L179.99 153.50L179.99 156.30L178.61 156.30ZM186.28 153.50L187.66 153.50L187.66 156.30L186.28 156.30ZM193.95 153.50L195.33 153.50L195.33 156.30L193.95 156.30ZM201.62 153.50L203.00 153.50L203.00 156.30L201.62 156.30ZM209.29 153.50L210.67 153.50L210.67 156.30L209.29 156.30ZM216.96 153.50L218.34 153.50L218.34 156.30L216.96 156.30ZM224.63 153.50L226.01 153.50L226.01 156.30L224.63 156.30ZM232.30 153.50L233.68 153.50L233.68 156.30L232.30 156.30ZM239.97 153.50L241.35 153.50L241.35 156.30L239.97 156.30ZM247.64 153.50L249.02 153.50L249.02 156.30L247.64 156.30ZM255.31 153.50L256.69 153.50L256.69 156.30L255.31 156.30ZM262.98 153.50L264.36 153.50L264.36 156.30L262.98 156.30ZM270.65 153.50L272.03 153.50L272.03 156.30L270.65 156.30ZM278.32 153.50L279.70 153.50L279.70 156.30L278.32 156.30ZM285.99 153.50L287.37 153.50L287.37 156.30L285.99 156.30ZM293.66 153.50L295.04 153.50L295.04 156.30L293.66 156.30ZM301.33 153.50L302.71 153.50L302.71 156.30L301.33 156.30ZM309.00 153.50L310.38 153.50L310.38 156.30L309.00 156.30ZM316.67 153.50L318.05 153.50L318.05 156.30L316.67 156.30ZM324.34 153.50L325.72 153.50L325.72 156.30L324.34 156.30ZM332.01 153.50L333.39 153.50L333.39 156.30L332.01 156.30ZM339.68 153.50L341.06 153.50L341.06 156.30L339.68 156.30ZM347.35 153.50L348.73 153.50L348.73 156.30L347.35 156.30ZM355.02 153.50L356.40 153.50L356.40 156.30L355.02 156.30ZM362.69 153.50L364.07 153.50L364.07 156.30L362.69 156.30ZM370.36 153.50L371.74 153.50L371.74 156.30L370.36 156.30ZM378.03 153.50L379.41 153.50L379.41 156.30L378.03 156.30ZM385.70 153.50L387.08 153.50L387.08 156.30L385.70 156.30ZM393.37 153.50L394.75 153.50L394.75 156.30L393.37 156.30ZM401.04 153.50L402.42 153.50L402.42 156.30L401.04 156.30ZM408.71 153.50L410.09 153.50L410.09 156.30L408.71 156.30ZM416.38 153.50L417.76 153.50L417.76 156.30L416.38 156.30ZM424.05 153.50L425.43 153.50L425.43 156.30L424.05 156.30ZM431.72 153.50L433.10 153.50L433.10 156.30L431.72 156.30ZM439.39 153.50L440.77 153.50L440.77 156.30L439.39 156.30ZM447.06 153.50L448.44 153.50L448.44 156.30L447.06 156.30ZM454.73 153.50L456.11 153.50L456.11 156.30L454.73 156.30ZM462.40 153.50L463.78 153.50L463.78 156.30L462.40 156.30ZM470.07 153.50L471.45 153.50L471.45 156.30L470.07 156.30ZM477.74 153.50L479.12 153.50L479.12 156.30L477.74 156.30ZM485.41 153.50L486.79 153.50L486.79 156.30L485.41 156.30ZM493.08 153.50L494.46 153.50L494.46 156.30L493.08 156.30ZM500.75 153.50L502.13 153.50L502.13 156.30L500.75 156.30ZM508.42 153.50L509.80 153.50L509.80 156.30L508.42 156.30ZM516.09 153.50L517.47 153.50L517.47 156.30L516.09 156.30ZM523.76 153.50L525.14 153.50L525.14 156.30L523.76 156.30ZM531.43 153.50L532.81 153.50L532.81 156.30L531.43 156.30ZM539.10 153.50L540.48 153.50L540.48 156.30L539.10 156.30ZM546.77 153.50L548.15 153.50L548.15 156.30L546.77 156.30ZM554.44 153.50L555.82 153.50L555.82 156.30L554.44 156.30ZM562.11 153.50L563.49 153.50L563.49 156.30L562.11 156.30ZM569.78 153.50L571.16 153.50L571.16 156.30L569.78 156.30ZM577.45 153.50L578.83 153.50L578.83 156.30L577.45 156.30ZM585.12 153.50L586.50 153.50L586.50 156.30L585.12 156.30ZM592.79 153.50L594.17 153.50L594.17 156.30L592.79 156.30ZM600.46 153.50L601.84 153.50L601.84 156.30L600.46 156.30ZM608.13 153.50L609.51 153.50L609.51 156.30L608.13 156.30ZM615.80 153.50L617.18 153.50L617.18 156.30L615.80 156.30ZM623.47 153.50L624.85 153.50L624.85 156.30L623.47 156.30ZM631.14 153.50L632.52 153.50L632.52 156.30L631.14 156.30ZM638.81 153.50L640.19 153.50L640.19 156.30L638.81 156.30ZM646.48 153.50L647.86 153.50L647.86 156.30L646.48 156.30ZM654.15 153.50L655.53 153.50L655.53 156.30L654.15 156.30ZM661.82 153.50L663.20 153.50L663.20 156.30L661.82 156.30ZM669.49 153.50L670.87 153.50L670.87 156.30L669.49 156.30ZM677.16 153.50L678.54 153.50L678.54 156.30L677.16 156.30ZM684.83 153.50L686.21 153.50L686.21 156.30L684.83 156.30ZM692.50 153.50L693.88 153.50L693.88 156.30L692.50 156.30ZM700.17 153.50L701.55 153.50L701.55 156.30L700.17 156.30ZM707.84 153.50L709.22 153.50L709.22 156.30L707.84 156.30ZM715.51 153.50L716.89 153.50L716.89 156.30L715.51 156.30ZM723.18 153.50L724.56 153.50L724.56 156.30L723.18 156.30ZM730.85 153.50L732.23 153.50L732.23 156.30L730.85 156.30ZM738.52 153.50L739.90 153.50L739.90 156.30L738.52 156.30ZM746.19 153.50L747.57 153.50L747.57 156.30L746.19 156.30ZM753.86 153.50L755.24 153.50L755.24 156.30L753.86 156.30ZM761.53 153.50L762.91 153.50L762.91 156.30L761.53 156.30ZM769.20 153.50L770.58 153.50L770.58 156.30L769.20 156.30ZM776.87 153.50L778.25 153.50L778.25 156.30L776.87 156.30ZM784.54 153.50L785.92 153.50L785.92 156.30L784.54 156.30ZM792.21 153.50L793.59 153.50L793.59 156.30L792.21 156.30ZM799.88 153.50L801.26 153.50L801.26 156.30L799.88 156.30ZM807.55 153.50L808.93 153.50L808.93 156.30L807.55 156.30ZM815.22 153.50L816.60 153.50L816.60 156.30L815.22 156.30ZM822.89 153.50L824.27 153.50L824.27 156.30L822.89 156.30ZM830.56 153.50L831.94 153.50L831.94 156.30L830.56 156.30ZM838.23 153.50L839.61 153.50L839.61 156.30L838.23 156.30ZM845.90 153.50L847.28 153.50L847.28 156.30L845.90 156.30ZM853.57 153.50L854.95 153.50L854.95 156.30L853.57 156.30ZM861.24 153.50L862.62 153.50L862.62 156.30L861.24 156.30ZM868.91 153.50L870.29 153.50L870.29 156.30L868.91 156.30ZM876.58 153.50L877.96 153.50L877.96 156.30L876.58 156.30ZM884.25 153.50L885.63 153.50L885.63 156.30L884.25 156.30ZM891.92 153.50L893.30 153.50L893.30 156.30L891.92 156.30ZM899.59 153.50L900.97 153.50L900.97 156.30L899.59 156.30ZM907.26 153.50L908.64 153.50L908.64 156.30L907.26 156.30ZM914.93 153.50L916.31 153.50L916.31 156.30L914.93 156.30ZM922.60 153.50L923.98 153.50L923.98 156.30L922.60 156.30ZM930.27 153.50L931.65 153.50L931.65 156.30L930.27 156.30Z" fill="#FBC15E" stroke="#FBC15E" stroke-width="0.3" stroke-linejoin="round" clip-path="url(#u)"/>
<path d="M120.63 128.00L122.47 128.00L122.47 132.00L120.63 132.00ZM128.30 128.00L130.14 128.00L130.14 132.00L128.30 132.00ZM135.97 128.00L137.81 128.00L137.81 132.00L135.97 132.00ZM143.64 128.00L145.48 128.00L145.48 132.00L143.64 132.00ZM151.31 128.00L153.15 128.00L153.15 132.00L151.31 132.00ZM158.98 128.00L160.82 128.00L160.82 132.00L158.98 132.00ZM166.65 128.00L168.49 128.00L168.49 132.00L166.65 132.00ZM174.32 128.00L176.16 128.00L176.16 132.00L174.32 132.00ZM181.99 128.00L183.83 128.00L183.83 132.00L181.99 132.00ZM189.66 128.00L191.50 128.00L191.50 132.00L189.66 132.00ZM197.33 128.00L199.17 128.00L199.17 132.00L197.33 132.00ZM205.00 128.00L206.84 128.00L206.84 132.00L205.00 132.00ZM212.67 128.00L214.51 128.00L214.51 132.00L212.67 132.00ZM220.34 128.00L222.18 128.00L222.18 132.00L220.34 132.00ZM228.01 128.00L229.85 128.00L229.85 132.00L228.01 132.00ZM235.68 128.00L237.52 128.00L237.52 132.00L235.68 132.00ZM243.35 128.00L245.19 128.00L245.19 132.00L243.35 132.00ZM251.02 128.00L252.86 128.00L252.86 132.00L251.02 132.00ZM258.69 128.00L260.53 128.00L260.53 132.00L258.69 132.00ZM266.36 128.00L268.20 128.00L268.20 132.00L266.36 132.00ZM274.03 128.00L275.87 128.00L275.87 132.00L274.03 132.00ZM281.70 128.00L283.54 128.00L283.54 132.00L281.70 132.00ZM289.37 128.00L291.21 128.00L291.21 132.00L289.37 132.00ZM297.04 128.00L298.88 128.00L298.88 132.00L297.04 132.00ZM304.71 128.00L306.55 128.00L306.55 132.00L304.71 132.00ZM312.38 128.00L314.22 128.00L314.22 132.00L312.38 132.00ZM320.05 128.00L321.89 128.00L321.89 132.00L320.05 132.00ZM327.72 128.00L329.56 128.00L329.56 132.00L327.72 132.00ZM335.39 128.00L337.23 128.00L337.23 132.00L335.39 132.00ZM343.06 128.00L344.90 128.00L344.90 132.00L343.06 132.00ZM350.73 128.00L352.57 128.00L352.57 132.00L350.73 132.00ZM358.40 128.00L360.24 128.00L360.24 132.00L358.40 132.00ZM366.07 128.00L367.91 128.00L367.91 132.00L366.07 132.00ZM373.74 128.00L375.58 128.00L375.58 132.00L373.74 132.00ZM381.41 128.00L383.25 128.00L383.25 132.00L381.41 132.00ZM389.08 128.00L390.92 128.00L390.92 132.00L389.08 132.00ZM396.75 128.00L398.59 128.00L398.59 132.00L396.75 132.00ZM404.42 128.00L406.26 128.00L406.26 132.00L404.42 132.00ZM412.09 128.00L413.93 128.00L413.93 132.00L412.09 132.00ZM419.76 128.00L421.60 128.00L421.60 132.00L419.76 132.00ZM427.43 128.00L429.27 128.00L429.27 132.00L427.43 132.00ZM435.10 128.00L436.94 128.00L436.94 132.00L435.10 132.00ZM442.77 128.00L444.61 128.00L444.61 132.00L442.77 132.00ZM450.44 128.00L452.28 128.00L452.28 132.00L450.44 132.00ZM458.11 128.00L459.95 128.00L459.95 132.00L458.11 132.00ZM465.78 128.00L467.62 128.00L467.62 132.00L465.78 132.00ZM473.45 128.00L475.29 128.00L475.29 132.00L473.45 132.00ZM481.12 128.00L482.96 128.00L482.96 132.00L481.12 132.00ZM488.79 128.00L490.63 128.00L490.63 132.00L488.79 132.00ZM496.46 128.00L498.30 128.00L498.30 132.00L496.46 132.00ZM504.13 128.00L505.97 128.00L505.97 132.00L504.13 132.00ZM511.80 128.00L513.64 128.00L513.64 132.00L511.80 132.00ZM519.47 128.00L521.31 128.00L521.31 132.00L519.47 132.00ZM527.14 128.00L528.98 128.00L528.98 132.00L527.14 132.00ZM534.81 128.00L536.65 128.00L536.65 132.00L534.81 132.00ZM542.48 128.00L544.32 128.00L544.32 132.00L542.48 132.00ZM550.15 128.00L551.99 128.00L551.99 132.00L550.15 132.00ZM557.82 128.00L559.66 128.00L559.66 132.00L557.82 132.00ZM565.49 128.00L567.33 128.00L567.33 132.00L565.49 132.00ZM573.16 128.00L575.00 128.00L575.00 132.00L573.16 132.00ZM580.83 128.00L582.67 128.00L582.67 132.00L580.83 132.00ZM588.50 128.00L590.34 128.00L590.34 132.00L588.50 132.00ZM596.17 128.00L598.01 128.00L598.01 132.00L596.17 132.00ZM603.84 128.00L605.68 128.00L605.68 132.00L603.84 132.00ZM611.51 128.00L613.35 128.00L613.35 132.00L611.51 132.00ZM619.18 128.00L621.02 128.00L621.02 132.00L619.18 132.00ZM626.85 128.00L628.69 128.00L628.69 132.00L626.85 132.00ZM634.52 128.00L636.36 128.00L636.36 132.00L634.52 132.00ZM642.19 128.00L644.03 128.00L644.03 132.00L642.19 132.00ZM649.86 128.00L651.70 128.00L651.70 132.00L649.86 132.00ZM657.53 128.00L659.37 128.00L659.37 132.00L657.53 132.00ZM665.20 128.00L667.04 128.00L667.04 132.00L665.20 132.00ZM672.87 128.00L674.71 128.00L674.71 132.00L672.87 132.00ZM680.54 128.00L682.38 128.00L682.38 132.00L680.54 132.00ZM688.21 128.00L690.05 128.00L690.05 132.00L688.21 132.00ZM695.88 128.00L697.72 128.00L697.72 132.00L695.88 132.00ZM703.55 128.00L705.39 128.00L705.39 132.00L703.55 132.00ZM711.22 128.00L713.06 128.00L713.06 132.00L711.22 132.00ZM718.89 128.00L720.73 128.00L720.73 132.00L718.89 132.00ZM726.56 128.00L728.40 128.00L728.40 132.00L726.56 132.00ZM734.23 128.00L736.07 128.00L736.07 132.00L734.23 132.00ZM741.90 128.00L743.74 128.00L743.74 132.00L741.90 132.00ZM749.57 128.00L751.41 128.00L751.41 132.00L749.57 132.00ZM757.24 128.00L759.08 128.00L759.08 132.00L757.24 132.00ZM764.91 128.00L766.75 128.00L766.75 132.00L764.91 132.00ZM772.58 128.00L774.42 128.00L774.42 132.00L772.58 132.00ZM780.25 128.00L782.09 128.00L782.09 132.00L780.25 132.00ZM787.92 128.00L789.76 128.00L789.76 132.00L787.92 132.00ZM795.59 128.00L797.43 128.00L797.43 132.00L795.59 132.00ZM803.26 128.00L805.10 128.00L805.10 132.00L803.26 132.00ZM810.93 128.00L812.77 128.00L812.77 132.00L810.93 132.00ZM818.60 128.00L820.44 128.00L820.44 132.00L818.60 132.00ZM826.27 128.00L828.11 128.00L828.11 132.00L826.27 132.00ZM833.94 128.00L835.78 128.00L835.78 132.00L833.94 132.00ZM841.61 128.00L843.45 128.00L843.45 132.00L841.61 132.00ZM849.28 128.00L851.12 128.00L851.12 132.00L849.28 132.00ZM856.95 128.00L858.79 128.00L858.79 132.00L856.95 132.00ZM864.62 128.00L866.46 128.00L866.46 132.00L864.62 132.00ZM872.29 128.00L874.13 128.00L874.13 132.00L872.29 132.00ZM879.96 128.00L881.80 128.00L881.80 132.00L879.96 132.00ZM887.63 128.00L889.47 128.00L889.47 132.00L887.63 132.00ZM895.30 128.00L897.14 128.00L897.14 132.00L895.30 132.00ZM902.97 128.00L904.81 128.00L904.81 132.00L902.97 132.00ZM910.64 128.00L912.48 128.00L912.48 132.00L910.64 132.00ZM918.31 128.00L920.15 128.00L920.15 132.00L918.31 132.00ZM925.98 128.00L927.82 128.00L927.82 132.00L925.98 132.00ZM120.48 152.00L122.62 152.00L122.62 157.00L120.48 157.00ZM128.15 152.00L130.29 152.00L130.29 157.00L128.15 157.00ZM135.82 152.00L137.96 152.00L137.96 157.00L135.82 157.00ZM143.49 152.00L145.63 152.00L145.63 157.00L143.49 157.00ZM151.16 152.00L153.30 152.00L153.30 157.00L151.16 157.00ZM158.83 152.00L160.97 152.00L160.97 157.00L158.83 157.00ZM166.50 152.00L168.64 152.00L168.64 157.00L166.50 157.00ZM174.17 152.00L176.31 152.00L176.31 157.00L174.17 157.00ZM181.84 152.00L183.98 152.00L183.98 157.00L181.84 157.00ZM189.51 152.00L191.65 152.00L191.65 157.00L189.51 157.00ZM197.18 152.00L199.32 152.00L199.32 157.00L197.18 157.00ZM204.85 152.00L206.99 152.00L206.99 157.00L204.85 157.00ZM212.52 152.00L214.66 152.00L214.66 157.00L212.52 157.00ZM220.19 152.00L222.33 152.00L222.33 157.00L220.19 157.00ZM227.86 152.00L230.00 152.00L230.00 157.00L227.86 157.00ZM235.53 152.00L237.67 152.00L237.67 157.00L235.53 157.00ZM243.20 152.00L245.34 152.00L245.34 157.00L243.20 157.00ZM250.87 152.00L253.01 152.00L253.01 157.00L250.87 157.00ZM258.54 152.00L260.68 152.00L260.68 157.00L258.54 157.00ZM266.21 152.00L268.35 152.00L268.35 157.00L266.21 157.00ZM273.88 152.00L276.02 152.00L276.02 157.00L273.88 157.00ZM281.55 152.00L283.69 152.00L283.69 157.00L281.55 157.00ZM289.22 152.00L291.36 152.00L291.36 157.00L289.22 157.00ZM296.89 152.00L299.03 152.00L299.03 157.00L296.89 157.00ZM304.56 152.00L306.70 152.00L306.70 157.00L304.56 157.00ZM312.23 152.00L314.37 152.00L314.37 157.00L312.23 157.00ZM319.90 152.00L322.04 152.00L322.04 157.00L319.90 157.00ZM327.57 152.00L329.71 152.00L329.71 157.00L327.57 157.00ZM335.24 152.00L337.38 152.00L337.38 157.00L335.24 157.00ZM342.91 152.00L345.05 152.00L345.05 157.00L342.91 157.00ZM350.58 152.00L352.72 152.00L352.72 157.00L350.58 157.00ZM358.25 152.00L360.39 152.00L360.39 157.00L358.25 157.00ZM365.92 152.00L368.06 152.00L368.06 157.00L365.92 157.00ZM373.59 152.00L375.73 152.00L375.73 157.00L373.59 157.00ZM381.26 152.00L383.40 152.00L383.40 157.00L381.26 157.00ZM388.93 152.00L391.07 152.00L391.07 157.00L388.93 157.00ZM396.60 152.00L398.74 152.00L398.74 157.00L396.60 157.00ZM404.27 152.00L406.41 152.00L406.41 157.00L404.27 157.00ZM411.94 152.00L414.08 152.00L414.08 157.00L411.94 157.00ZM419.61 152.00L421.75 152.00L421.75 157.00L419.61 157.00ZM427.28 152.00L429.42 152.00L429.42 157.00L427.28 157.00ZM434.95 152.00L437.09 152.00L437.09 157.00L434.95 157.00ZM442.62 152.00L444.76 152.00L444.76 157.00L442.62 157.00ZM450.29 152.00L452.43 152.00L452.43 157.00L450.29 157.00ZM457.96 152.00L460.10 152.00L460.10 157.00L457.96 157.00ZM465.63 152.00L467.77 152.00L467.77 157.00L465.63 157.00ZM473.30 152.00L475.44 152.00L475.44 157.00L473.30 157.00ZM480.97 152.00L483.11 152.00L483.11 157.00L480.97 157.00ZM488.64 152.00L490.78 152.00L490.78 157.00L488.64 157.00ZM496.31 152.00L498.45 152.00L498.45 157.00L496.31 157.00ZM503.98 152.00L506.12 152.00L506.12 157.00L503.98 157.00ZM511.65 152.00L513.79 152.00L513.79 157.00L511.65 157.00ZM519.32 152.00L521.46 152.00L521.46 157.00L519.32 157.00ZM526.99 152.00L529.13 152.00L529.13 157.00L526.99 157.00ZM534.66 152.00L536.80 152.00L536.80 157.00L534.66 157.00ZM542.33 152.00L544.47 152.00L544.47 157.00L542.33 157.00ZM550.00 152.00L552.14 152.00L552.14 157.00L550.00 157.00ZM557.67 152.00L559.81 152.00L559.81 157.00L557.67 157.00ZM565.34 152.00L567.48 152.00L567.48 157.00L565.34 157.00ZM573.01 152.00L575.15 152.00L575.15 157.00L573.01 157.00ZM580.68 152.00L582.82 152.00L582.82 157.00L580.68 157.00ZM588.35 152.00L590.49 152.00L590.49 157.00L588.35 157.00ZM596.02 152.00L598.16 152.00L598.16 157.00L596.02 157.00ZM603.69 152.00L605.83 152.00L605.83 157.00L603.69 157.00ZM611.36 152.00L613.50 152.00L613.50 157.00L611.36 157.00ZM619.03 152.00L621.17 152.00L621.17 157.00L619.03 157.00ZM626.70 152.00L628.84 152.00L628.84 157.00L626.70 157.00ZM634.37 152.00L636.51 152.00L636.51 157.00L634.37 157.00ZM642.04 152.00L644.18 152.00L644.18 157.00L642.04 157.00ZM649.71 152.00L651.85 152.00L651.85 157.00L649.71 157.00ZM657.38 152.00L659.52 152.00L659.52 157.00L657.38 157.00ZM665.05 152.00L667.19 152.00L667.19 157.00L665.05 157.00ZM672.72 152.00L674.86 152.00L674.86 157.00L672.72 157.00ZM680.39 152.00L682.53 152.00L682.53 157.00L680.39 157.00ZM688.06 152.00L690.20 152.00L690.20 157.00L688.06 157.00ZM695.73 152.00L697.87 152.00L697.87 157.00L695.73 157.00ZM703.40 152.00L705.54 152.00L705.54 157.00L703.40 157.00ZM711.07 152.00L713.21 152.00L713.21 157.00L711.07 157.00ZM718.74 152.00L720.88 152.00L720.88 157.00L718.74 157.00ZM726.41 152.00L728.55 152.00L728.55 157.00L726.41 157.00ZM734.08 152.00L736.22 152.00L736.22 157.00L734.08 157.00ZM741.75 152.00L743.89 152.00L743.89 157.00L741.75 157.00ZM749.42 152.00L751.56 152.00L751.56 157.00L749.42 157.00ZM757.09 152.00L759.23 152.00L759.23 157.00L757.09 157.00ZM764.76 152.00L766.90 152.00L766.90 157.00L764.76 157.00ZM772.43 152.00L774.57 152.00L774.57 157.00L772.43 157.00ZM780.10 152.00L782.24 152.00L782.24 157.00L780.10 157.00ZM787.77 152.00L789.91 152.00L789.91 157.00L787.77 157.00ZM795.44 152.00L797.58 152.00L797.58 157.00L795.44 157.00ZM803.11 152.00L805.25 152.00L805.25 157.00L803.11 157.00ZM810.78 152.00L812.92 152.00L812.92 157.00L810.78 157.00ZM818.45 152.00L820.59 152.00L820.59 157.00L818.45 157.00ZM826.12 152.00L828.26 152.00L828.26 157.00L826.12 157.00ZM833.79 152.00L835.93 152.00L835.93 157.00L833.79 157.00ZM841.46 152.00L843.60 152.00L843.60 157.00L841.46 157.00ZM849.13 152.00L851.27 152.00L851.27 157.00L849.13 157.00ZM856.80 152.00L858.94 152.00L858.94 157.00L856.80 157.00ZM864.47 152.00L866.61 152.00L866.61 157.00L864.47 157.00ZM872.14 152.00L874.28 152.00L874.28 157.00L872.14 157.00ZM879.81 152.00L881.95 152.00L881.95 157.00L879.81 157.00ZM887.48 152.00L889.62 152.00L889.62 157.00L887.48 157.00ZM895.15 152.00L897.29 152.00L897.29 157.00L895.15 157.00ZM902.82 152.00L904.96 152.00L904.96 157.00L902.82 157.00ZM910.49 152.00L912.63 152.00L912.63 157.00L910.49 157.00ZM918.16 152.00L920.30 152.00L920.30 157.00L918.16 157.00ZM925.83 152.00L927.97 152.00L927.97 157.00L925.83 157.00ZM123.08 131.00L124.46 131.00L126.15 155.00L123.39 155.00ZM130.75 131.00L132.13 131.00L133.82 155.00L131.06 155.00ZM138.42 131.00L139.80 131.00L141.49 155.00L138.73 155.00ZM146.09 131.00L147.47 131.00L149.16 155.00L146.40 155.00ZM153.76 131.00L155.14 131.00L156.83 155.00L154.07 155.00ZM161.43 131.00L162.81 131.00L164.50 155.00L161.74 155.00ZM169.10 131.00L170.48 131.00L172.17 155.00L169.41 155.00ZM176.77 131.00L178.15 131.00L179.84 155.00L177.08 155.00ZM184.44 131.00L185.82 131.00L187.51 155.00L184.75 155.00ZM192.11 131.00L193.49 131.00L195.18 155.00L192.42 155.00ZM199.78 131.00L201.16 131.00L202.85 155.00L200.09 155.00ZM207.45 131.00L208.83 131.00L210.52 155.00L207.76 155.00ZM215.12 131.00L216.50 131.00L218.19 155.00L215.43 155.00ZM222.79 131.00L224.17 131.00L225.86 155.00L223.10 155.00ZM230.46 131.00L231.84 131.00L233.53 155.00L230.77 155.00ZM238.13 131.00L239.51 131.00L241.20 155.00L238.44 155.00ZM245.80 131.00L247.18 131.00L248.87 155.00L246.11 155.00ZM253.47 131.00L254.85 131.00L256.54 155.00L253.78 155.00ZM261.14 131.00L262.52 131.00L264.21 155.00L261.45 155.00ZM268.81 131.00L270.19 131.00L271.88 155.00L269.12 155.00ZM276.48 131.00L277.86 131.00L279.55 155.00L276.79 155.00ZM284.15 131.00L285.53 131.00L287.22 155.00L284.46 155.00ZM291.82 131.00L293.20 131.00L294.89 155.00L292.13 155.00ZM299.49 131.00L300.87 131.00L302.56 155.00L299.80 155.00ZM307.16 131.00L308.54 131.00L310.23 155.00L307.47 155.00ZM314.83 131.00L316.21 131.00L317.90 155.00L315.14 155.00ZM322.50 131.00L323.88 131.00L325.57 155.00L322.81 155.00ZM330.17 131.00L331.55 131.00L333.24 155.00L330.48 155.00ZM337.84 131.00L339.22 131.00L340.91 155.00L338.15 155.00ZM345.51 131.00L346.89 131.00L348.58 155.00L345.82 155.00ZM353.18 131.00L354.56 131.00L356.25 155.00L353.49 155.00ZM360.85 131.00L362.23 131.00L363.92 155.00L361.16 155.00ZM368.52 131.00L369.90 131.00L371.59 155.00L368.83 155.00ZM376.19 131.00L377.57 131.00L379.26 155.00L376.50 155.00ZM383.86 131.00L385.24 131.00L386.93 155.00L384.17 155.00ZM391.53 131.00L392.91 131.00L394.60 155.00L391.84 155.00ZM399.20 131.00L400.58 131.00L402.27 155.00L399.51 155.00ZM406.87 131.00L408.25 131.00L409.94 155.00L407.18 155.00ZM414.54 131.00L415.92 131.00L417.61 155.00L414.85 155.00ZM422.21 131.00L423.59 131.00L425.28 155.00L422.52 155.00ZM429.88 131.00L431.26 131.00L432.95 155.00L430.19 155.00ZM437.55 131.00L438.93 131.00L440.62 155.00L437.86 155.00ZM445.22 131.00L446.60 131.00L448.29 155.00L445.53 155.00ZM452.89 131.00L454.27 131.00L455.96 155.00L453.20 155.00ZM460.56 131.00L461.94 131.00L463.63 155.00L460.87 155.00ZM468.23 131.00L469.61 131.00L471.30 155.00L468.54 155.00ZM475.90 131.00L477.28 131.00L478.97 155.00L476.21 155.00ZM483.57 131.00L484.95 131.00L486.64 155.00L483.88 155.00ZM491.24 131.00L492.62 131.00L494.31 155.00L491.55 155.00ZM498.91 131.00L500.29 131.00L501.98 155.00L499.22 155.00ZM506.58 131.00L507.96 131.00L509.65 155.00L506.89 155.00ZM514.25 131.00L515.63 131.00L517.32 155.00L514.56 155.00ZM521.92 131.00L523.30 131.00L524.99 155.00L522.23 155.00ZM529.59 131.00L530.97 131.00L532.66 155.00L529.90 155.00ZM537.26 131.00L538.64 131.00L540.33 155.00L537.57 155.00ZM544.93 131.00L546.31 131.00L548.00 155.00L545.24 155.00ZM552.60 131.00L553.98 131.00L555.67 155.00L552.91 155.00ZM560.27 131.00L561.65 131.00L563.34 155.00L560.58 155.00ZM567.94 131.00L569.32 131.00L571.01 155.00L568.25 155.00ZM575.61 131.00L576.99 131.00L578.68 155.00L575.92 155.00ZM583.28 131.00L584.66 131.00L586.35 155.00L583.59 155.00ZM590.95 131.00L592.33 131.00L594.02 155.00L591.26 155.00ZM598.62 131.00L600.00 131.00L601.69 155.00L598.93 155.00ZM606.29 131.00L607.67 131.00L609.36 155.00L606.60 155.00ZM613.96 131.00L615.34 131.00L617.03 155.00L614.27 155.00ZM621.63 131.00L623.01 131.00L624.70 155.00L621.94 155.00ZM629.30 131.00L630.68 131.00L632.37 155.00L629.61 155.00ZM636.97 131.00L638.35 131.00L640.04 155.00L637.28 155.00ZM644.64 131.00L646.02 131.00L647.71 155.00L644.95 155.00ZM652.31 131.00L653.69 131.00L655.38 155.00L652.62 155.00ZM659.98 131.00L661.36 131.00L663.05 155.00L660.29 155.00ZM667.65 131.00L669.03 131.00L670.72 155.00L667.96 155.00ZM675.32 131.00L676.70 131.00L678.39 155.00L675.63 155.00ZM682.99 131.00L684.37 131.00L686.06 155.00L683.30 155.00ZM690.66 131.00L692.04 131.00L693.73 155.00L690.97 155.00ZM698.33 131.00L699.71 131.00L701.40 155.00L698.64 155.00ZM706.00 131.00L707.38 131.00L709.07 155.00L706.31 155.00ZM713.67 131.00L715.05 131.00L716.74 155.00L713.98 155.00ZM721.34 131.00L722.72 131.00L724.41 155.00L721.65 155.00ZM729.01 131.00L730.39 131.00L732.08 155.00L729.32 155.00ZM736.68 131.00L738.06 131.00L739.75 155.00L736.99 155.00ZM744.35 131.00L745.73 131.00L747.42 155.00L744.66 155.00ZM752.02 131.00L753.40 131.00L755.09 155.00L752.33 155.00ZM759.69 131.00L761.07 131.00L762.76 155.00L760.00 155.00ZM767.36 131.00L768.74 131.00L770.43 155.00L767.67 155.00ZM775.03 131.00L776.41 131.00L778.10 155.00L775.34 155.00ZM782.70 131.00L784.08 131.00L785.77 155.00L783.01 155.00ZM790.37 131.00L791.75 131.00L793.44 155.00L790.68 155.00ZM798.04 131.00L799.42 131.00L801.11 155.00L798.35 155.00ZM805.71 131.00L807.09 131.00L808.78 155.00L806.02 155.00ZM813.38 131.00L814.76 131.00L816.45 155.00L813.69 155.00ZM821.05 131.00L822.43 131.00L824.12 155.00L821.36 155.00ZM828.72 131.00L830.10 131.00L831.79 155.00L829.03 155.00ZM836.39 131.00L837.77 131.00L839.46 155.00L836.70 155.00ZM844.06 131.00L845.44 131.00L847.13 155.00L844.37 155.00ZM851.73 131.00L853.11 131.00L854.80 155.00L852.04 155.00ZM859.40 131.00L860.78 131.00L862.47 155.00L859.71 155.00ZM867.07 131.00L868.45 131.00L870.14 155.00L867.38 155.00ZM874.74 131.00L876.12 131.00L877.81 155.00L875.05 155.00ZM882.41 131.00L883.79 131.00L885.48 155.00L882.72 155.00ZM890.08 131.00L891.46 131.00L893.15 155.00L890.39 155.00ZM897.75 131.00L899.13 131.00L900.82 155.00L898.06 155.00ZM905.42 131.00L906.80 131.00L908.49 155.00L905.73 155.00ZM913.09 131.00L914.47 131.00L916.16 155.00L913.40 155.00ZM920.76 131.00L922.14 131.00L923.83 155.00L921.07 155.00ZM928.43 131.00L929.81 131.00L931.50 155.00L928.74 155.00Z" fill="#8EBA42" stroke="#8EBA42" stroke-width="0.3" stroke-linejoin="round" clip-path="url(#u)"/>
<path d="M125.38 131.50L126.76 131.50L126.76 153.00L126.61 153.00ZM133.05 131.50L134.43 131.50L134.43 153.00L134.28 153.00ZM140.72 131.50L142.10 131.50L142.10 153.00L141.95 153.00ZM148.39 131.50L149.77 131.50L149.77 153.00L149.62 153.00ZM156.06 131.50L157.44 131.50L157.44 153.00L157.29 153.00ZM163.73 131.50L165.11 131.50L165.11 153.00L164.96 153.00ZM171.40 131.50L172.78 131.50L172.78 153.00L172.63 153.00ZM179.07 131.50L180.45 131.50L180.45 153.00L180.30 153.00ZM186.74 131.50L188.12 131.50L188.12 153.00L187.97 153.00ZM194.41 131.50L195.79 131.50L195.79 153.00L195.64 153.00ZM202.08 131.50L203.46 131.50L203.46 153.00L203.31 153.00ZM209.75 131.50L211.13 131.50L211.13 153.00L210.98 153.00ZM217.42 131.50L218.80 131.50L218.80 153.00L218.65 153.00ZM225.09 131.50L226.47 131.50L226.47 153.00L226.32 153.00ZM232.76 131.50L234.14 131.50L234.14 153.00L233.99 153.00ZM240.43 131.50L241.81 131.50L241.81 153.00L241.66 153.00ZM248.10 131.50L249.48 131.50L249.48 153.00L249.33 153.00ZM255.77 131.50L257.15 131.50L257.15 153.00L257.00 153.00ZM263.44 131.50L264.82 131.50L264.82 153.00L264.67 153.00ZM271.11 131.50L272.49 131.50L272.49 153.00L272.34 153.00ZM278.78 131.50L280.16 131.50L280.16 153.00L280.01 153.00ZM286.45 131.50L287.83 131.50L287.83 153.00L287.68 153.00ZM294.12 131.50L295.50 131.50L295.50 153.00L295.35 153.00ZM301.79 131.50L303.17 131.50L303.17 153.00L303.02 153.00ZM309.46 131.50L310.84 131.50L310.84 153.00L310.69 153.00ZM317.13 131.50L318.51 131.50L318.51 153.00L318.36 153.00ZM324.80 131.50L326.18 131.50L326.18 153.00L326.03 153.00ZM332.47 131.50L333.85 131.50L333.85 153.00L333.70 153.00ZM340.14 131.50L341.52 131.50L341.52 153.00L341.37 153.00ZM347.81 131.50L349.19 131.50L349.19 153.00L349.04 153.00ZM355.48 131.50L356.86 131.50L356.86 153.00L356.71 153.00ZM363.15 131.50L364.53 131.50L364.53 153.00L364.38 153.00ZM370.82 131.50L372.20 131.50L372.20 153.00L372.05 153.00ZM378.49 131.50L379.87 131.50L379.87 153.00L379.72 153.00ZM386.16 131.50L387.54 131.50L387.54 153.00L387.39 153.00ZM393.83 131.50L395.21 131.50L395.21 153.00L395.06 153.00ZM401.50 131.50L402.88 131.50L402.88 153.00L402.73 153.00ZM409.17 131.50L410.55 131.50L410.55 153.00L410.40 153.00ZM416.84 131.50L418.22 131.50L418.22 153.00L418.07 153.00ZM424.51 131.50L425.89 131.50L425.89 153.00L425.74 153.00ZM432.18 131.50L433.56 131.50L433.56 153.00L433.41 153.00ZM439.85 131.50L441.23 131.50L441.23 153.00L441.08 153.00ZM447.52 131.50L448.90 131.50L448.90 153.00L448.75 153.00ZM455.19 131.50L456.57 131.50L456.57 153.00L456.42 153.00ZM462.86 131.50L464.24 131.50L464.24 153.00L464.09 153.00ZM470.53 131.50L471.91 131.50L471.91 153.00L471.76 153.00ZM478.20 131.50L479.58 131.50L479.58 153.00L479.43 153.00ZM485.87 131.50L487.25 131.50L487.25 153.00L487.10 153.00ZM493.54 131.50L494.92 131.50L494.92 153.00L494.77 153.00ZM501.21 131.50L502.59 131.50L502.59 153.00L502.44 153.00ZM508.88 131.50L510.26 131.50L510.26 153.00L510.11 153.00ZM516.55 131.50L517.93 131.50L517.93 153.00L517.78 153.00ZM524.22 131.50L525.60 131.50L525.60 153.00L525.45 153.00ZM531.89 131.50L533.27 131.50L533.27 153.00L533.12 153.00ZM539.56 131.50L540.94 131.50L540.94 153.00L540.79 153.00ZM547.23 131.50L548.61 131.50L548.61 153.00L548.46 153.00ZM554.90 131.50L556.28 131.50L556.28 153.00L556.13 153.00ZM562.57 131.50L563.95 131.50L563.95 153.00L563.80 153.00ZM570.24 131.50L571.62 131.50L571.62 153.00L571.47 153.00ZM577.91 131.50L579.29 131.50L579.29 153.00L579.14 153.00ZM585.58 131.50L586.96 131.50L586.96 153.00L586.81 153.00ZM593.25 131.50L594.63 131.50L594.63 153.00L594.48 153.00ZM600.92 131.50L602.30 131.50L602.30 153.00L602.15 153.00ZM608.59 131.50L609.97 131.50L609.97 153.00L609.82 153.00ZM616.26 131.50L617.64 131.50L617.64 153.00L617.49 153.00ZM623.93 131.50L625.31 131.50L625.31 153.00L625.16 153.00ZM631.60 131.50L632.98 131.50L632.98 153.00L632.83 153.00ZM639.27 131.50L640.65 131.50L640.65 153.00L640.50 153.00ZM646.94 131.50L648.32 131.50L648.32 153.00L648.17 153.00ZM654.61 131.50L655.99 131.50L655.99 153.00L655.84 153.00ZM662.28 131.50L663.66 131.50L663.66 153.00L663.51 153.00ZM669.95 131.50L671.33 131.50L671.33 153.00L671.18 153.00ZM677.62 131.50L679.00 131.50L679.00 153.00L678.85 153.00ZM685.29 131.50L686.67 131.50L686.67 153.00L686.52 153.00ZM692.96 131.50L694.34 131.50L694.34 153.00L694.19 153.00ZM700.63 131.50L702.01 131.50L702.01 153.00L701.86 153.00ZM708.30 131.50L709.68 131.50L709.68 153.00L709.53 153.00ZM715.97 131.50L717.35 131.50L717.35 153.00L717.20 153.00ZM723.64 131.50L725.02 131.50L725.02 153.00L724.87 153.00ZM731.31 131.50L732.69 131.50L732.69 153.00L732.54 153.00ZM738.98 131.50L740.36 131.50L740.36 153.00L740.21 153.00ZM746.65 131.50L748.03 131.50L748.03 153.00L747.88 153.00ZM754.32 131.50L755.70 131.50L755.70 153.00L755.55 153.00ZM761.99 131.50L763.37 131.50L763.37 153.00L763.22 153.00ZM769.66 131.50L771.04 131.50L771.04 153.00L770.89 153.00ZM777.33 131.50L778.71 131.50L778.71 153.00L778.56 153.00ZM785.00 131.50L786.38 131.50L786.38 153.00L786.23 153.00ZM792.67 131.50L794.05 131.50L794.05 153.00L793.90 153.00ZM800.34 131.50L801.72 131.50L801.72 153.00L801.57 153.00ZM808.01 131.50L809.39 131.50L809.39 153.00L809.24 153.00ZM815.68 131.50L817.06 131.50L817.06 153.00L816.91 153.00ZM823.35 131.50L824.73 131.50L824.73 153.00L824.58 153.00ZM831.02 131.50L832.40 131.50L832.40 153.00L832.25 153.00ZM838.69 131.50L840.07 131.50L840.07 153.00L839.92 153.00ZM846.36 131.50L847.74 131.50L847.74 153.00L847.59 153.00ZM854.03 131.50L855.41 131.50L855.41 153.00L855.26 153.00ZM861.70 131.50L863.08 131.50L863.08 153.00L862.93 153.00ZM869.37 131.50L870.75 131.50L870.75 153.00L870.60 153.00ZM877.04 131.50L878.42 131.50L878.42 153.00L878.27 153.00ZM884.71 131.50L886.09 131.50L886.09 153.00L885.94 153.00ZM892.38 131.50L893.76 131.50L893.76 153.00L893.61 153.00ZM900.05 131.50L901.43 131.50L901.43 153.00L901.28 153.00ZM907.72 131.50L909.10 131.50L909.10 153.00L908.95 153.00ZM915.39 131.50L916.77 131.50L916.77 153.00L916.62 153.00ZM923.06 131.50L924.44 131.50L924.44 153.00L924.29 153.00ZM930.73 131.50L932.11 131.50L932.11 153.00L931.96 153.00Z" fill="#EBBDB1" clip-path="url(#u)"/>
<path d="M119.56 299.20L120.71 299.20L120.71 302.00L119.56 302.00ZM127.23 299.20L128.38 299.20L128.38 302.00L127.23 302.00ZM134.90 299.20L136.05 299.20L136.05 302.00L134.90 302.00ZM142.57 299.20L143.72 299.20L143.72 302.00L142.57 302.00ZM150.24 299.20L151.39 299.20L151.39 302.00L150.24 302.00ZM157.91 299.20L159.06 299.20L159.06 302.00L157.91 302.00ZM165.58 299.20L166.73 299.20L166.73 302.00L165.58 302.00ZM173.25 299.20L174.40 299.20L174.40 302.00L173.25 302.00ZM180.92 299.20L182.07 299.20L182.07 302.00L180.92 302.00ZM188.59 299.20L189.74 299.20L189.74 302.00L188.59 302.00ZM196.26 299.20L197.41 299.20L197.41 302.00L196.26 302.00ZM203.93 299.20L205.08 299.20L205.08 302.00L203.93 302.00ZM211.60 299.20L212.75 299.20L212.75 302.00L211.60 302.00ZM219.27 299.20L220.42 299.20L220.42 302.00L219.27 302.00ZM226.94 299.20L228.09 299.20L228.09 302.00L226.94 302.00ZM234.61 299.20L235.76 299.20L235.76 302.00L234.61 302.00ZM242.28 299.20L243.43 299.20L243.43 302.00L242.28 302.00ZM249.95 299.20L251.10 299.20L251.10 302.00L249.95 302.00ZM257.62 299.20L258.77 299.20L258.77 302.00L257.62 302.00ZM265.29 299.20L266.44 299.20L266.44 302.00L265.29 302.00ZM272.96 299.20L274.11 299.20L274.11 302.00L272.96 302.00ZM280.63 299.20L281.78 299.20L281.78 302.00L280.63 302.00ZM288.30 299.20L289.45 299.20L289.45 302.00L288.30 302.00ZM295.97 299.20L297.12 299.20L297.12 302.00L295.97 302.00ZM303.64 299.20L304.79 299.20L304.79 302.00L303.64 302.00ZM311.31 299.20L312.46 299.20L312.46 302.00L311.31 302.00ZM318.98 299.20L320.13 299.20L320.13 302.00L318.98 302.00ZM326.65 299.20L327.80 299.20L327.80 302.00L326.65 302.00ZM334.32 299.20L335.47 299.20L335.47 302.00L334.32 302.00ZM341.99 299.20L343.14 299.20L343.14 302.00L341.99 302.00ZM349.66 299.20L350.81 299.20L350.81 302.00L349.66 302.00ZM357.33 299.20L358.48 299.20L358.48 302.00L357.33 302.00ZM365.00 299.20L366.15 299.20L366.15 302.00L365.00 302.00ZM372.67 299.20L373.82 299.20L373.82 302.00L372.67 302.00ZM380.34 299.20L381.49 299.20L381.49 302.00L380.34 302.00ZM388.01 299.20L389.16 299.20L389.16 302.00L388.01 302.00ZM395.68 299.20L396.83 299.20L396.83 302.00L395.68 302.00ZM403.35 299.20L404.50 299.20L404.50 302.00L403.35 302.00ZM411.02 299.20L412.17 299.20L412.17 302.00L411.02 302.00ZM418.69 299.20L419.84 299.20L419.84 302.00L418.69 302.00ZM426.36 299.20L427.51 299.20L427.51 302.00L426.36 302.00ZM434.03 299.20L435.18 299.20L435.18 302.00L434.03 302.00ZM441.70 299.20L442.85 299.20L442.85 302.00L441.70 302.00ZM449.37 299.20L450.52 299.20L450.52 302.00L449.37 302.00ZM457.04 299.20L458.19 299.20L458.19 302.00L457.04 302.00ZM464.71 299.20L465.86 299.20L465.86 302.00L464.71 302.00ZM472.38 299.20L473.53 299.20L473.53 302.00L472.38 302.00ZM480.05 299.20L481.20 299.20L481.20 302.00L480.05 302.00ZM487.72 299.20L488.87 299.20L488.87 302.00L487.72 302.00ZM495.39 299.20L496.54 299.20L496.54 302.00L495.39 302.00ZM503.06 299.20L504.21 299.20L504.21 302.00L503.06 302.00ZM510.73 299.20L511.88 299.20L511.88 302.00L510.73 302.00ZM518.40 299.20L519.55 299.20L519.55 302.00L518.40 302.00ZM526.07 299.20L527.22 299.20L527.22 302.00L526.07 302.00ZM533.74 299.20L534.89 299.20L534.89 302.00L533.74 302.00ZM541.41 299.20L542.56 299.20L542.56 302.00L541.41 302.00ZM549.08 299.20L550.23 299.20L550.23 302.00L549.08 302.00ZM556.75 299.20L557.90 299.20L557.90 302.00L556.75 302.00ZM564.42 299.20L565.57 299.20L565.57 302.00L564.42 302.00ZM572.09 299.20L573.24 299.20L573.24 302.00L572.09 302.00ZM579.76 299.20L580.91 299.20L580.91 302.00L579.76 302.00ZM587.43 299.20L588.58 299.20L588.58 302.00L587.43 302.00ZM595.10 299.20L596.25 299.20L596.25 302.00L595.10 302.00ZM602.77 299.20L603.92 299.20L603.92 302.00L602.77 302.00ZM610.44 299.20L611.59 299.20L611.59 302.00L610.44 302.00ZM618.11 299.20L619.26 299.20L619.26 302.00L618.11 302.00ZM625.78 299.20L626.93 299.20L626.93 302.00L625.78 302.00ZM633.45 299.20L634.60 299.20L634.60 302.00L633.45 302.00ZM641.12 299.20L642.27 299.20L642.27 302.00L641.12 302.00ZM648.79 299.20L649.94 299.20L649.94 302.00L648.79 302.00ZM656.46 299.20L657.61 299.20L657.61 302.00L656.46 302.00ZM664.13 299.20L665.28 299.20L665.28 302.00L664.13 302.00ZM671.80 299.20L672.95 299.20L672.95 302.00L671.80 302.00ZM679.47 299.20L680.62 299.20L680.62 302.00L679.47 302.00ZM687.14 299.20L688.29 299.20L688.29 302.00L687.14 302.00ZM694.81 299.20L695.96 299.20L695.96 302.00L694.81 302.00ZM702.48 299.20L703.63 299.20L703.63 302.00L702.48 302.00ZM710.15 299.20L711.30 299.20L711.30 302.00L710.15 302.00ZM717.82 299.20L718.97 299.20L718.97 302.00L717.82 302.00ZM725.49 299.20L726.64 299.20L726.64 302.00L725.49 302.00ZM733.16 299.20L734.31 299.20L734.31 302.00L733.16 302.00ZM740.83 299.20L741.98 299.20L741.98 302.00L740.83 302.00ZM748.50 299.20L749.65 299.20L749.65 302.00L748.50 302.00ZM756.17 299.20L757.32 299.20L757.32 302.00L756.17 302.00ZM763.84 299.20L764.99 299.20L764.99 302.00L763.84 302.00ZM771.51 299.20L772.66 299.20L772.66 302.00L771.51 302.00ZM779.18 299.20L780.33 299.20L780.33 302.00L779.18 302.00ZM786.85 299.20L788.00 299.20L788.00 302.00L786.85 302.00ZM794.52 299.20L795.67 299.20L795.67 302.00L794.52 302.00ZM802.19 299.20L803.34 299.20L803.34 302.00L802.19 302.00ZM809.86 299.20L811.01 299.20L811.01 302.00L809.86 302.00ZM817.53 299.20L818.68 299.20L818.68 302.00L817.53 302.00ZM825.20 299.20L826.35 299.20L826.35 302.00L825.20 302.00ZM832.87 299.20L834.02 299.20L834.02 302.00L832.87 302.00ZM840.54 299.20L841.69 299.20L841.69 302.00L840.54 302.00ZM848.21 299.20L849.36 299.20L849.36 302.00L848.21 302.00ZM855.88 299.20L857.03 299.20L857.03 302.00L855.88 302.00ZM863.55 299.20L864.70 299.20L864.70 302.00L863.55 302.00ZM871.22 299.20L872.37 299.20L872.37 302.00L871.22 302.00ZM878.89 299.20L880.04 299.20L880.04 302.00L878.89 302.00ZM886.56 299.20L887.71 299.20L887.71 302.00L886.56 302.00ZM894.23 299.20L895.38 299.20L895.38 302.00L894.23 302.00ZM901.90 299.20L903.05 299.20L903.05 302.00L901.90 302.00ZM909.57 299.20L910.72 299.20L910.72 302.00L909.57 302.00ZM917.24 299.20L918.39 299.20L918.39 302.00L917.24 302.00ZM924.91 299.20L926.06 299.20L926.06 302.00L924.91 302.00ZM124.39 292.00L124.85 292.00L125.31 306.00L124.85 306.00ZM132.06 292.00L132.52 292.00L132.98 306.00L132.52 306.00ZM139.73 292.00L140.19 292.00L140.65 306.00L140.19 306.00ZM147.40 292.00L147.86 292.00L148.32 306.00L147.86 306.00ZM155.07 292.00L155.53 292.00L155.99 306.00L155.53 306.00ZM162.74 292.00L163.20 292.00L163.66 306.00L163.20 306.00ZM170.41 292.00L170.87 292.00L171.33 306.00L170.87 306.00ZM178.08 292.00L178.54 292.00L179.00 306.00L178.54 306.00ZM185.75 292.00L186.21 292.00L186.67 306.00L186.21 306.00ZM193.42 292.00L193.88 292.00L194.34 306.00L193.88 306.00ZM201.09 292.00L201.55 292.00L202.01 306.00L201.55 306.00ZM208.76 292.00L209.22 292.00L209.68 306.00L209.22 306.00ZM216.43 292.00L216.89 292.00L217.35 306.00L216.89 306.00ZM224.10 292.00L224.56 292.00L225.02 306.00L224.56 306.00ZM231.77 292.00L232.23 292.00L232.69 306.00L232.23 306.00ZM239.44 292.00L239.90 292.00L240.36 306.00L239.90 306.00ZM247.11 292.00L247.57 292.00L248.03 306.00L247.57 306.00ZM254.78 292.00L255.24 292.00L255.70 306.00L255.24 306.00ZM262.45 292.00L262.91 292.00L263.37 306.00L262.91 306.00ZM270.12 292.00L270.58 292.00L271.04 306.00L270.58 306.00ZM277.79 292.00L278.25 292.00L278.71 306.00L278.25 306.00ZM285.46 292.00L285.92 292.00L286.38 306.00L285.92 306.00ZM293.13 292.00L293.59 292.00L294.05 306.00L293.59 306.00ZM300.80 292.00L301.26 292.00L301.72 306.00L301.26 306.00ZM308.47 292.00L308.93 292.00L309.39 306.00L308.93 306.00ZM316.14 292.00L316.60 292.00L317.06 306.00L316.60 306.00ZM323.81 292.00L324.27 292.00L324.73 306.00L324.27 306.00ZM331.48 292.00L331.94 292.00L332.40 306.00L331.94 306.00ZM339.15 292.00L339.61 292.00L340.07 306.00L339.61 306.00ZM346.82 292.00L347.28 292.00L347.74 306.00L347.28 306.00ZM354.49 292.00L354.95 292.00L355.41 306.00L354.95 306.00ZM362.16 292.00L362.62 292.00L363.08 306.00L362.62 306.00ZM369.83 292.00L370.29 292.00L370.75 306.00L370.29 306.00ZM377.50 292.00L377.96 292.00L378.42 306.00L377.96 306.00ZM385.17 292.00L385.63 292.00L386.09 306.00L385.63 306.00ZM392.84 292.00L393.30 292.00L393.76 306.00L393.30 306.00ZM400.51 292.00L400.97 292.00L401.43 306.00L400.97 306.00ZM408.18 292.00L408.64 292.00L409.10 306.00L408.64 306.00ZM415.85 292.00L416.31 292.00L416.77 306.00L416.31 306.00ZM423.52 292.00L423.98 292.00L424.44 306.00L423.98 306.00ZM431.19 292.00L431.65 292.00L432.11 306.00L431.65 306.00ZM438.86 292.00L439.32 292.00L439.78 306.00L439.32 306.00ZM446.53 292.00L446.99 292.00L447.45 306.00L446.99 306.00ZM454.20 292.00L454.66 292.00L455.12 306.00L454.66 306.00ZM461.87 292.00L462.33 292.00L462.79 306.00L462.33 306.00ZM469.54 292.00L470.00 292.00L470.46 306.00L470.00 306.00ZM477.21 292.00L477.67 292.00L478.13 306.00L477.67 306.00ZM484.88 292.00L485.34 292.00L485.80 306.00L485.34 306.00ZM492.55 292.00L493.01 292.00L493.47 306.00L493.01 306.00ZM500.22 292.00L500.68 292.00L501.14 306.00L500.68 306.00ZM507.89 292.00L508.35 292.00L508.81 306.00L508.35 306.00ZM515.56 292.00L516.02 292.00L516.48 306.00L516.02 306.00ZM523.23 292.00L523.69 292.00L524.15 306.00L523.69 306.00ZM530.90 292.00L531.36 292.00L531.82 306.00L531.36 306.00ZM538.57 292.00L539.03 292.00L539.49 306.00L539.03 306.00ZM546.24 292.00L546.70 292.00L547.16 306.00L546.70 306.00ZM553.91 292.00L554.37 292.00L554.83 306.00L554.37 306.00ZM561.58 292.00L562.04 292.00L562.50 306.00L562.04 306.00ZM569.25 292.00L569.71 292.00L570.17 306.00L569.71 306.00ZM576.92 292.00L577.38 292.00L577.84 306.00L577.38 306.00ZM584.59 292.00L585.05 292.00L585.51 306.00L585.05 306.00ZM592.26 292.00L592.72 292.00L593.18 306.00L592.72 306.00ZM599.93 292.00L600.39 292.00L600.85 306.00L600.39 306.00ZM607.60 292.00L608.06 292.00L608.52 306.00L608.06 306.00ZM615.27 292.00L615.73 292.00L616.19 306.00L615.73 306.00ZM622.94 292.00L623.40 292.00L623.86 306.00L623.40 306.00ZM630.61 292.00L631.07 292.00L631.53 306.00L631.07 306.00ZM638.28 292.00L638.74 292.00L639.20 306.00L638.74 306.00ZM645.95 292.00L646.41 292.00L646.87 306.00L646.41 306.00ZM653.62 292.00L654.08 292.00L654.54 306.00L654.08 306.00ZM661.29 292.00L661.75 292.00L662.21 306.00L661.75 306.00ZM668.96 292.00L669.42 292.00L669.88 306.00L669.42 306.00ZM676.63 292.00L677.09 292.00L677.55 306.00L677.09 306.00ZM684.30 292.00L684.76 292.00L685.22 306.00L684.76 306.00ZM691.97 292.00L692.43 292.00L692.89 306.00L692.43 306.00ZM699.64 292.00L700.10 292.00L700.56 306.00L700.10 306.00ZM707.31 292.00L707.77 292.00L708.23 306.00L707.77 306.00ZM714.98 292.00L715.44 292.00L715.90 306.00L715.44 306.00ZM722.65 292.00L723.11 292.00L723.57 306.00L723.11 306.00ZM730.32 292.00L730.78 292.00L731.24 306.00L730.78 306.00ZM737.99 292.00L738.45 292.00L738.91 306.00L738.45 306.00ZM745.66 292.00L746.12 292.00L746.58 306.00L746.12 306.00ZM753.33 292.00L753.79 292.00L754.25 306.00L753.79 306.00ZM761.00 292.00L761.46 292.00L761.92 306.00L761.46 306.00ZM768.67 292.00L769.13 292.00L769.59 306.00L769.13 306.00ZM776.34 292.00L776.80 292.00L777.26 306.00L776.80 306.00ZM784.01 292.00L784.47 292.00L784.93 306.00L784.47 306.00ZM791.68 292.00L792.14 292.00L792.60 306.00L792.14 306.00ZM799.35 292.00L799.81 292.00L800.27 306.00L799.81 306.00ZM807.02 292.00L807.48 292.00L807.94 306.00L807.48 306.00ZM814.69 292.00L815.15 292.00L815.61 306.00L815.15 306.00ZM822.36 292.00L822.82 292.00L823.28 306.00L822.82 306.00ZM830.03 292.00L830.49 292.00L830.95 306.00L830.49 306.00ZM837.70 292.00L838.16 292.00L838.62 306.00L838.16 306.00ZM845.37 292.00L845.83 292.00L846.29 306.00L845.83 306.00ZM853.04 292.00L853.50 292.00L853.96 306.00L853.50 306.00ZM860.71 292.00L861.17 292.00L861.63 306.00L861.17 306.00ZM868.38 292.00L868.84 292.00L869.30 306.00L868.84 306.00ZM876.05 292.00L876.51 292.00L876.97 306.00L876.51 306.00ZM883.72 292.00L884.18 292.00L884.64 306.00L884.18 306.00ZM891.39 292.00L891.85 292.00L892.31 306.00L891.85 306.00ZM899.06 292.00L899.52 292.00L899.98 306.00L899.52 306.00ZM906.73 292.00L907.19 292.00L907.65 306.00L907.19 306.00ZM914.40 292.00L914.86 292.00L915.32 306.00L914.86 306.00ZM922.07 292.00L922.53 292.00L922.99 306.00L922.53 306.00ZM929.74 292.00L930.20 292.00L930.66 306.00L930.20 306.00Z" fill="#FFB5B8" clip-path="url(#u)"/>
<path d="M121.86 291.00L122.01 287.60L124.54 287.60L124.69 291.00ZM129.53 291.00L129.68 287.60L132.21 287.60L132.36 291.00ZM137.20 291.00L137.35 287.60L139.88 287.60L140.03 291.00ZM144.87 291.00L145.02 287.60L147.55 287.60L147.70 291.00ZM152.54 291.00L152.69 287.60L155.22 287.60L155.37 291.00ZM160.21 291.00L160.36 287.60L162.89 287.60L163.04 291.00ZM167.88 291.00L168.03 287.60L170.56 287.60L170.71 291.00ZM175.55 291.00L175.70 287.60L178.23 287.60L178.38 291.00ZM183.22 291.00L183.37 287.60L185.90 287.60L186.05 291.00ZM190.89 291.00L191.04 287.60L193.57 287.60L193.72 291.00ZM198.56 291.00L198.71 287.60L201.24 287.60L201.39 291.00ZM206.23 291.00L206.38 287.60L208.91 287.60L209.06 291.00ZM213.90 291.00L214.05 287.60L216.58 287.60L216.73 291.00ZM221.57 291.00L221.72 287.60L224.25 287.60L224.40 291.00ZM229.24 291.00L229.39 287.60L231.92 287.60L232.07 291.00ZM236.91 291.00L237.06 287.60L239.59 287.60L239.74 291.00ZM244.58 291.00L244.73 287.60L247.26 287.60L247.41 291.00ZM252.25 291.00L252.40 287.60L254.93 287.60L255.08 291.00ZM259.92 291.00L260.07 287.60L262.60 287.60L262.75 291.00ZM267.59 291.00L267.74 287.60L270.27 287.60L270.42 291.00ZM275.26 291.00L275.41 287.60L277.94 287.60L278.09 291.00ZM282.93 291.00L283.08 287.60L285.61 287.60L285.76 291.00ZM290.60 291.00L290.75 287.60L293.28 287.60L293.43 291.00ZM298.27 291.00L298.42 287.60L300.95 287.60L301.10 291.00ZM305.94 291.00L306.09 287.60L308.62 287.60L308.77 291.00ZM313.61 291.00L313.76 287.60L316.29 287.60L316.44 291.00ZM321.28 291.00L321.43 287.60L323.96 287.60L324.11 291.00ZM328.95 291.00L329.10 287.60L331.63 287.60L331.78 291.00ZM336.62 291.00L336.77 287.60L339.30 287.60L339.45 291.00ZM344.29 291.00L344.44 287.60L346.97 287.60L347.12 291.00ZM351.96 291.00L352.11 287.60L354.64 287.60L354.79 291.00ZM359.63 291.00L359.78 287.60L362.31 287.60L362.46 291.00ZM367.30 291.00L367.45 287.60L369.98 287.60L370.13 291.00ZM374.97 291.00L375.12 287.60L377.65 287.60L377.80 291.00ZM382.64 291.00L382.79 287.60L385.32 287.60L385.47 291.00ZM390.31 291.00L390.46 287.60L392.99 287.60L393.14 291.00ZM397.98 291.00L398.13 287.60L400.66 287.60L400.81 291.00ZM405.65 291.00L405.80 287.60L408.33 287.60L408.48 291.00ZM413.32 291.00L413.47 287.60L416.00 287.60L416.15 291.00ZM420.99 291.00L421.14 287.60L423.67 287.60L423.82 291.00ZM428.66 291.00L428.81 287.60L431.34 287.60L431.49 291.00ZM436.33 291.00L436.48 287.60L439.01 287.60L439.16 291.00ZM444.00 291.00L444.15 287.60L446.68 287.60L446.83 291.00ZM451.67 291.00L451.82 287.60L454.35 287.60L454.50 291.00ZM459.34 291.00L459.49 287.60L462.02 287.60L462.17 291.00ZM467.01 291.00L467.16 287.60L469.69 287.60L469.84 291.00ZM474.68 291.00L474.83 287.60L477.36 287.60L477.51 291.00ZM482.35 291.00L482.50 287.60L485.03 287.60L485.18 291.00ZM490.02 291.00L490.17 287.60L492.70 287.60L492.85 291.00ZM497.69 291.00L497.84 287.60L500.37 287.60L500.52 291.00ZM505.36 291.00L505.51 287.60L508.04 287.60L508.19 291.00ZM513.03 291.00L513.18 287.60L515.71 287.60L515.86 291.00ZM520.70 291.00L520.85 287.60L523.38 287.60L523.53 291.00ZM528.37 291.00L528.52 287.60L531.05 287.60L531.20 291.00ZM536.04 291.00L536.19 287.60L538.72 287.60L538.87 291.00ZM543.71 291.00L543.86 287.60L546.39 287.60L546.54 291.00ZM551.38 291.00L551.53 287.60L554.06 287.60L554.21 291.00ZM559.05 291.00L559.20 287.60L561.73 287.60L561.88 291.00ZM566.72 291.00L566.87 287.60L569.40 287.60L569.55 291.00ZM574.39 291.00L574.54 287.60L577.07 287.60L577.22 291.00ZM582.06 291.00L582.21 287.60L584.74 287.60L584.89 291.00ZM589.73 291.00L589.88 287.60L592.41 287.60L592.56 291.00ZM597.40 291.00L597.55 287.60L600.08 287.60L600.23 291.00ZM605.07 291.00L605.22 287.60L607.75 287.60L607.90 291.00ZM612.74 291.00L612.89 287.60L615.42 287.60L615.57 291.00ZM620.41 291.00L620.56 287.60L623.09 287.60L623.24 291.00ZM628.08 291.00L628.23 287.60L630.76 287.60L630.91 291.00ZM635.75 291.00L635.90 287.60L638.43 287.60L638.58 291.00ZM643.42 291.00L643.57 287.60L646.10 287.60L646.25 291.00ZM651.09 291.00L651.24 287.60L653.77 287.60L653.92 291.00ZM658.76 291.00L658.91 287.60L661.44 287.60L661.59 291.00ZM666.43 291.00L666.58 287.60L669.11 287.60L669.26 291.00ZM674.10 291.00L674.25 287.60L676.78 287.60L676.93 291.00ZM681.77 291.00L681.92 287.60L684.45 287.60L684.60 291.00ZM689.44 291.00L689.59 287.60L692.12 287.60L692.27 291.00ZM697.11 291.00L697.26 287.60L699.79 287.60L699.94 291.00ZM704.78 291.00L704.93 287.60L707.46 287.60L707.61 291.00ZM712.45 291.00L712.60 287.60L715.13 287.60L715.28 291.00ZM720.12 291.00L720.27 287.60L722.80 287.60L722.95 291.00ZM727.79 291.00L727.94 287.60L730.47 287.60L730.62 291.00ZM735.46 291.00L735.61 287.60L738.14 287.60L738.29 291.00ZM743.13 291.00L743.28 287.60L745.81 287.60L745.96 291.00ZM750.80 291.00L750.95 287.60L753.48 287.60L753.63 291.00ZM758.47 291.00L758.62 287.60L761.15 287.60L761.30 291.00ZM766.14 291.00L766.29 287.60L768.82 287.60L768.97 291.00ZM773.81 291.00L773.96 287.60L776.49 287.60L776.64 291.00ZM781.48 291.00L781.63 287.60L784.16 287.60L784.31 291.00ZM789.15 291.00L789.30 287.60L791.83 287.60L791.98 291.00ZM796.82 291.00L796.97 287.60L799.50 287.60L799.65 291.00ZM804.49 291.00L804.64 287.60L807.17 287.60L807.32 291.00ZM812.16 291.00L812.31 287.60L814.84 287.60L814.99 291.00ZM819.83 291.00L819.98 287.60L822.51 287.60L822.66 291.00ZM827.50 291.00L827.65 287.60L830.18 287.60L830.33 291.00ZM835.17 291.00L835.32 287.60L837.85 287.60L838.00 291.00ZM842.84 291.00L842.99 287.60L845.52 287.60L845.67 291.00ZM850.51 291.00L850.66 287.60L853.19 287.60L853.34 291.00ZM858.18 291.00L858.33 287.60L860.86 287.60L861.01 291.00ZM865.85 291.00L866.00 287.60L868.53 287.60L868.68 291.00ZM873.52 291.00L873.67 287.60L876.20 287.60L876.35 291.00ZM881.19 291.00L881.34 287.60L883.87 287.60L884.02 291.00ZM888.86 291.00L889.01 287.60L891.54 287.60L891.69 291.00ZM896.53 291.00L896.68 287.60L899.21 287.60L899.36 291.00ZM904.20 291.00L904.35 287.60L906.88 287.60L907.03 291.00ZM911.87 291.00L912.02 287.60L914.55 287.60L914.70 291.00ZM919.54 291.00L919.69 287.60L922.22 287.60L922.37 291.00ZM927.21 291.00L927.36 287.60L929.89 287.60L930.04 291.00ZM121.47 319.80L123.47 319.80L123.47 322.90L121.47 322.90ZM129.14 319.80L131.14 319.80L131.14 322.90L129.14 322.90ZM136.81 319.80L138.81 319.80L138.81 322.90L136.81 322.90ZM144.48 319.80L146.48 319.80L146.48 322.90L144.48 322.90ZM152.15 319.80L154.15 319.80L154.15 322.90L152.15 322.90ZM159.82 319.80L161.82 319.80L161.82 322.90L159.82 322.90ZM167.49 319.80L169.49 319.80L169.49 322.90L167.49 322.90ZM175.16 319.80L177.16 319.80L177.16 322.90L175.16 322.90ZM182.83 319.80L184.83 319.80L184.83 322.90L182.83 322.90ZM190.50 319.80L192.50 319.80L192.50 322.90L190.50 322.90ZM198.17 319.80L200.17 319.80L200.17 322.90L198.17 322.90ZM205.84 319.80L207.84 319.80L207.84 322.90L205.84 322.90ZM213.51 319.80L215.51 319.80L215.51 322.90L213.51 322.90ZM221.18 319.80L223.18 319.80L223.18 322.90L221.18 322.90ZM228.85 319.80L230.85 319.80L230.85 322.90L228.85 322.90ZM236.52 319.80L238.52 319.80L238.52 322.90L236.52 322.90ZM244.19 319.80L246.19 319.80L246.19 322.90L244.19 322.90ZM251.86 319.80L253.86 319.80L253.86 322.90L251.86 322.90ZM259.53 319.80L261.53 319.80L261.53 322.90L259.53 322.90ZM267.20 319.80L269.20 319.80L269.20 322.90L267.20 322.90ZM274.87 319.80L276.87 319.80L276.87 322.90L274.87 322.90ZM282.54 319.80L284.54 319.80L284.54 322.90L282.54 322.90ZM290.21 319.80L292.21 319.80L292.21 322.90L290.21 322.90ZM297.88 319.80L299.88 319.80L299.88 322.90L297.88 322.90ZM305.55 319.80L307.55 319.80L307.55 322.90L305.55 322.90ZM313.22 319.80L315.22 319.80L315.22 322.90L313.22 322.90ZM320.89 319.80L322.89 319.80L322.89 322.90L320.89 322.90ZM328.56 319.80L330.56 319.80L330.56 322.90L328.56 322.90ZM336.23 319.80L338.23 319.80L338.23 322.90L336.23 322.90ZM343.90 319.80L345.90 319.80L345.90 322.90L343.90 322.90ZM351.57 319.80L353.57 319.80L353.57 322.90L351.57 322.90ZM359.24 319.80L361.24 319.80L361.24 322.90L359.24 322.90ZM366.91 319.80L368.91 319.80L368.91 322.90L366.91 322.90ZM374.58 319.80L376.58 319.80L376.58 322.90L374.58 322.90ZM382.25 319.80L384.25 319.80L384.25 322.90L382.25 322.90ZM389.92 319.80L391.92 319.80L391.92 322.90L389.92 322.90ZM397.59 319.80L399.59 319.80L399.59 322.90L397.59 322.90ZM405.26 319.80L407.26 319.80L407.26 322.90L405.26 322.90ZM412.93 319.80L414.93 319.80L414.93 322.90L412.93 322.90ZM420.60 319.80L422.60 319.80L422.60 322.90L420.60 322.90ZM428.27 319.80L430.27 319.80L430.27 322.90L428.27 322.90ZM435.94 319.80L437.94 319.80L437.94 322.90L435.94 322.90ZM443.61 319.80L445.61 319.80L445.61 322.90L443.61 322.90ZM451.28 319.80L453.28 319.80L453.28 322.90L451.28 322.90ZM458.95 319.80L460.95 319.80L460.95 322.90L458.95 322.90ZM466.62 319.80L468.62 319.80L468.62 322.90L466.62 322.90ZM474.29 319.80L476.29 319.80L476.29 322.90L474.29 322.90ZM481.96 319.80L483.96 319.80L483.96 322.90L481.96 322.90ZM489.63 319.80L491.63 319.80L491.63 322.90L489.63 322.90ZM497.30 319.80L499.30 319.80L499.30 322.90L497.30 322.90ZM504.97 319.80L506.97 319.80L506.97 322.90L504.97 322.90ZM512.64 319.80L514.64 319.80L514.64 322.90L512.64 322.90ZM520.31 319.80L522.31 319.80L522.31 322.90L520.31 322.90ZM527.98 319.80L529.98 319.80L529.98 322.90L527.98 322.90ZM535.65 319.80L537.65 319.80L537.65 322.90L535.65 322.90ZM543.32 319.80L545.32 319.80L545.32 322.90L543.32 322.90ZM550.99 319.80L552.99 319.80L552.99 322.90L550.99 322.90ZM558.66 319.80L560.66 319.80L560.66 322.90L558.66 322.90ZM566.33 319.80L568.33 319.80L568.33 322.90L566.33 322.90ZM574.00 319.80L576.00 319.80L576.00 322.90L574.00 322.90ZM581.67 319.80L583.67 319.80L583.67 322.90L581.67 322.90ZM589.34 319.80L591.34 319.80L591.34 322.90L589.34 322.90ZM597.01 319.80L599.01 319.80L599.01 322.90L597.01 322.90ZM604.68 319.80L606.68 319.80L606.68 322.90L604.68 322.90ZM612.35 319.80L614.35 319.80L614.35 322.90L612.35 322.90ZM620.02 319.80L622.02 319.80L622.02 322.90L620.02 322.90ZM627.69 319.80L629.69 319.80L629.69 322.90L627.69 322.90ZM635.36 319.80L637.36 319.80L637.36 322.90L635.36 322.90ZM643.03 319.80L645.03 319.80L645.03 322.90L643.03 322.90ZM650.70 319.80L652.70 319.80L652.70 322.90L650.70 322.90ZM658.37 319.80L660.37 319.80L660.37 322.90L658.37 322.90ZM666.04 319.80L668.04 319.80L668.04 322.90L666.04 322.90ZM673.71 319.80L675.71 319.80L675.71 322.90L673.71 322.90ZM681.38 319.80L683.38 319.80L683.38 322.90L681.38 322.90ZM689.05 319.80L691.05 319.80L691.05 322.90L689.05 322.90ZM696.72 319.80L698.72 319.80L698.72 322.90L696.72 322.90ZM704.39 319.80L706.39 319.80L706.39 322.90L704.39 322.90ZM712.06 319.80L714.06 319.80L714.06 322.90L712.06 322.90ZM719.73 319.80L721.73 319.80L721.73 322.90L719.73 322.90ZM727.40 319.80L729.40 319.80L729.40 322.90L727.40 322.90ZM735.07 319.80L737.07 319.80L737.07 322.90L735.07 322.90ZM742.74 319.80L744.74 319.80L744.74 322.90L742.74 322.90ZM750.41 319.80L752.41 319.80L752.41 322.90L750.41 322.90ZM758.08 319.80L760.08 319.80L760.08 322.90L758.08 322.90ZM765.75 319.80L767.75 319.80L767.75 322.90L765.75 322.90ZM773.42 319.80L775.42 319.80L775.42 322.90L773.42 322.90ZM781.09 319.80L783.09 319.80L783.09 322.90L781.09 322.90ZM788.76 319.80L790.76 319.80L790.76 322.90L788.76 322.90ZM796.43 319.80L798.43 319.80L798.43 322.90L796.43 322.90ZM804.10 319.80L806.10 319.80L806.10 322.90L804.10 322.90ZM811.77 319.80L813.77 319.80L813.77 322.90L811.77 322.90ZM819.44 319.80L821.44 319.80L821.44 322.90L819.44 322.90ZM827.11 319.80L829.11 319.80L829.11 322.90L827.11 322.90ZM834.78 319.80L836.78 319.80L836.78 322.90L834.78 322.90ZM842.45 319.80L844.45 319.80L844.45 322.90L842.45 322.90ZM850.12 319.80L852.12 319.80L852.12 322.90L850.12 322.90ZM857.79 319.80L859.79 319.80L859.79 322.90L857.79 322.90ZM865.46 319.80L867.46 319.80L867.46 322.90L865.46 322.90ZM873.13 319.80L875.13 319.80L875.13 322.90L873.13 322.90ZM880.80 319.80L882.80 319.80L882.80 322.90L880.80 322.90ZM888.47 319.80L890.47 319.80L890.47 322.90L888.47 322.90ZM896.14 319.80L898.14 319.80L898.14 322.90L896.14 322.90ZM903.81 319.80L905.81 319.80L905.81 322.90L903.81 322.90ZM911.48 319.80L913.48 319.80L913.48 322.90L911.48 322.90ZM919.15 319.80L921.15 319.80L921.15 322.90L919.15 322.90ZM926.82 319.80L928.82 319.80L928.82 322.90L926.82 322.90Z" fill="#E24A33" clip-path="url(#u)"/>
<path d="M118.25 322.90L118.56 322.90L119.56 300.80L121.78 300.80L122.01 289.00L124.62 289.00L125.92 322.90L123.62 322.90L122.24 311.20L120.86 322.90ZM125.92 322.90L126.23 322.90L127.23 300.80L129.45 300.80L129.68 289.00L132.29 289.00L133.59 322.90L131.29 322.90L129.91 311.20L128.53 322.90ZM133.59 322.90L133.90 322.90L134.90 300.80L137.12 300.80L137.35 289.00L139.96 289.00L141.26 322.90L138.96 322.90L137.58 311.20L136.20 322.90ZM141.26 322.90L141.57 322.90L142.57 300.80L144.79 300.80L145.02 289.00L147.63 289.00L148.93 322.90L146.63 322.90L145.25 311.20L143.87 322.90ZM148.93 322.90L149.24 322.90L150.24 300.80L152.46 300.80L152.69 289.00L155.30 289.00L156.60 322.90L154.30 322.90L152.92 311.20L151.54 322.90ZM156.60 322.90L156.91 322.90L157.91 300.80L160.13 300.80L160.36 289.00L162.97 289.00L164.27 322.90L161.97 322.90L160.59 311.20L159.21 322.90ZM164.27 322.90L164.58 322.90L165.58 300.80L167.80 300.80L168.03 289.00L170.64 289.00L171.94 322.90L169.64 322.90L168.26 311.20L166.88 322.90ZM171.94 322.90L172.25 322.90L173.25 300.80L175.47 300.80L175.70 289.00L178.31 289.00L179.61 322.90L177.31 322.90L175.93 311.20L174.55 322.90ZM179.61 322.90L179.92 322.90L180.92 300.80L183.14 300.80L183.37 289.00L185.98 289.00L187.28 322.90L184.98 322.90L183.60 311.20L182.22 322.90ZM187.28 322.90L187.59 322.90L188.59 300.80L190.81 300.80L191.04 289.00L193.65 289.00L194.95 322.90L192.65 322.90L191.27 311.20L189.89 322.90ZM194.95 322.90L195.26 322.90L196.26 300.80L198.48 300.80L198.71 289.00L201.32 289.00L202.62 322.90L200.32 322.90L198.94 311.20L197.56 322.90ZM202.62 322.90L202.93 322.90L203.93 300.80L206.15 300.80L206.38 289.00L208.99 289.00L210.29 322.90L207.99 322.90L206.61 311.20L205.23 322.90ZM210.29 322.90L210.60 322.90L211.60 300.80L213.82 300.80L214.05 289.00L216.66 289.00L217.96 322.90L215.66 322.90L214.28 311.20L212.90 322.90ZM217.96 322.90L218.27 322.90L219.27 300.80L221.49 300.80L221.72 289.00L224.33 289.00L225.63 322.90L223.33 322.90L221.95 311.20L220.57 322.90ZM225.63 322.90L225.94 322.90L226.94 300.80L229.16 300.80L229.39 289.00L232.00 289.00L233.30 322.90L231.00 322.90L229.62 311.20L228.24 322.90ZM233.30 322.90L233.61 322.90L234.61 300.80L236.83 300.80L237.06 289.00L239.67 289.00L240.97 322.90L238.67 322.90L237.29 311.20L235.91 322.90ZM240.97 322.90L241.28 322.90L242.28 300.80L244.50 300.80L244.73 289.00L247.34 289.00L248.64 322.90L246.34 322.90L244.96 311.20L243.58 322.90ZM248.64 322.90L248.95 322.90L249.95 300.80L252.17 300.80L252.40 289.00L255.01 289.00L256.31 322.90L254.01 322.90L252.63 311.20L251.25 322.90ZM256.31 322.90L256.62 322.90L257.62 300.80L259.84 300.80L260.07 289.00L262.68 289.00L263.98 322.90L261.68 322.90L260.30 311.20L258.92 322.90ZM263.98 322.90L264.29 322.90L265.29 300.80L267.51 300.80L267.74 289.00L270.35 289.00L271.65 322.90L269.35 322.90L267.97 311.20L266.59 322.90ZM271.65 322.90L271.96 322.90L272.96 300.80L275.18 300.80L275.41 289.00L278.02 289.00L279.32 322.90L277.02 322.90L275.64 311.20L274.26 322.90ZM279.32 322.90L279.63 322.90L280.63 300.80L282.85 300.80L283.08 289.00L285.69 289.00L286.99 322.90L284.69 322.90L283.31 311.20L281.93 322.90ZM286.99 322.90L287.30 322.90L288.30 300.80L290.52 300.80L290.75 289.00L293.36 289.00L294.66 322.90L292.36 322.90L290.98 311.20L289.60 322.90ZM294.66 322.90L294.97 322.90L295.97 300.80L298.19 300.80L298.42 289.00L301.03 289.00L302.33 322.90L300.03 322.90L298.65 311.20L297.27 322.90ZM302.33 322.90L302.64 322.90L303.64 300.80L305.86 300.80L306.09 289.00L308.70 289.00L310.00 322.90L307.70 322.90L306.32 311.20L304.94 322.90ZM310.00 322.90L310.31 322.90L311.31 300.80L313.53 300.80L313.76 289.00L316.37 289.00L317.67 322.90L315.37 322.90L313.99 311.20L312.61 322.90ZM317.67 322.90L317.98 322.90L318.98 300.80L321.20 300.80L321.43 289.00L324.04 289.00L325.34 322.90L323.04 322.90L321.66 311.20L320.28 322.90ZM325.34 322.90L325.65 322.90L326.65 300.80L328.87 300.80L329.10 289.00L331.71 289.00L333.01 322.90L330.71 322.90L329.33 311.20L327.95 322.90ZM333.01 322.90L333.32 322.90L334.32 300.80L336.54 300.80L336.77 289.00L339.38 289.00L340.68 322.90L338.38 322.90L337.00 311.20L335.62 322.90ZM340.68 322.90L340.99 322.90L341.99 300.80L344.21 300.80L344.44 289.00L347.05 289.00L348.35 322.90L346.05 322.90L344.67 311.20L343.29 322.90ZM348.35 322.90L348.66 322.90L349.66 300.80L351.88 300.80L352.11 289.00L354.72 289.00L356.02 322.90L353.72 322.90L352.34 311.20L350.96 322.90ZM356.02 322.90L356.33 322.90L357.33 300.80L359.55 300.80L359.78 289.00L362.39 289.00L363.69 322.90L361.39 322.90L360.01 311.20L358.63 322.90ZM363.69 322.90L364.00 322.90L365.00 300.80L367.22 300.80L367.45 289.00L370.06 289.00L371.36 322.90L369.06 322.90L367.68 311.20L366.30 322.90ZM371.36 322.90L371.67 322.90L372.67 300.80L374.89 300.80L375.12 289.00L377.73 289.00L379.03 322.90L376.73 322.90L375.35 311.20L373.97 322.90ZM379.03 322.90L379.34 322.90L380.34 300.80L382.56 300.80L382.79 289.00L385.40 289.00L386.70 322.90L384.40 322.90L383.02 311.20L381.64 322.90ZM386.70 322.90L387.01 322.90L388.01 300.80L390.23 300.80L390.46 289.00L393.07 289.00L394.37 322.90L392.07 322.90L390.69 311.20L389.31 322.90ZM394.37 322.90L394.68 322.90L395.68 300.80L397.90 300.80L398.13 289.00L400.74 289.00L402.04 322.90L399.74 322.90L398.36 311.20L396.98 322.90ZM402.04 322.90L402.35 322.90L403.35 300.80L405.57 300.80L405.80 289.00L408.41 289.00L409.71 322.90L407.41 322.90L406.03 311.20L404.65 322.90ZM409.71 322.90L410.02 322.90L411.02 300.80L413.24 300.80L413.47 289.00L416.08 289.00L417.38 322.90L415.08 322.90L413.70 311.20L412.32 322.90ZM417.38 322.90L417.69 322.90L418.69 300.80L420.91 300.80L421.14 289.00L423.75 289.00L425.05 322.90L422.75 322.90L421.37 311.20L419.99 322.90ZM425.05 322.90L425.36 322.90L426.36 300.80L428.58 300.80L428.81 289.00L431.42 289.00L432.72 322.90L430.42 322.90L429.04 311.20L427.66 322.90ZM432.72 322.90L433.03 322.90L434.03 300.80L436.25 300.80L436.48 289.00L439.09 289.00L440.39 322.90L438.09 322.90L436.71 311.20L435.33 322.90ZM440.39 322.90L440.70 322.90L441.70 300.80L443.92 300.80L444.15 289.00L446.76 289.00L448.06 322.90L445.76 322.90L444.38 311.20L443.00 322.90ZM448.06 322.90L448.37 322.90L449.37 300.80L451.59 300.80L451.82 289.00L454.43 289.00L455.73 322.90L453.43 322.90L452.05 311.20L450.67 322.90ZM455.73 322.90L456.04 322.90L457.04 300.80L459.26 300.80L459.49 289.00L462.10 289.00L463.40 322.90L461.10 322.90L459.72 311.20L458.34 322.90ZM463.40 322.90L463.71 322.90L464.71 300.80L466.93 300.80L467.16 289.00L469.77 289.00L471.07 322.90L468.77 322.90L467.39 311.20L466.01 322.90ZM471.07 322.90L471.38 322.90L472.38 300.80L474.60 300.80L474.83 289.00L477.44 289.00L478.74 322.90L476.44 322.90L475.06 311.20L473.68 322.90ZM478.74 322.90L479.05 322.90L480.05 300.80L482.27 300.80L482.50 289.00L485.11 289.00L486.41 322.90L484.11 322.90L482.73 311.20L481.35 322.90ZM486.41 322.90L486.72 322.90L487.72 300.80L489.94 300.80L490.17 289.00L492.78 289.00L494.08 322.90L491.78 322.90L490.40 311.20L489.02 322.90ZM494.08 322.90L494.39 322.90L495.39 300.80L497.61 300.80L497.84 289.00L500.45 289.00L501.75 322.90L499.45 322.90L498.07 311.20L496.69 322.90ZM501.75 322.90L502.06 322.90L503.06 300.80L505.28 300.80L505.51 289.00L508.12 289.00L509.42 322.90L507.12 322.90L505.74 311.20L504.36 322.90ZM509.42 322.90L509.73 322.90L510.73 300.80L512.95 300.80L513.18 289.00L515.79 289.00L517.09 322.90L514.79 322.90L513.41 311.20L512.03 322.90ZM517.09 322.90L517.40 322.90L518.40 300.80L520.62 300.80L520.85 289.00L523.46 289.00L524.76 322.90L522.46 322.90L521.08 311.20L519.70 322.90ZM524.76 322.90L525.07 322.90L526.07 300.80L528.29 300.80L528.52 289.00L531.13 289.00L532.43 322.90L530.13 322.90L528.75 311.20L527.37 322.90ZM532.43 322.90L532.74 322.90L533.74 300.80L535.96 300.80L536.19 289.00L538.80 289.00L540.10 322.90L537.80 322.90L536.42 311.20L535.04 322.90ZM540.10 322.90L540.41 322.90L541.41 300.80L543.63 300.80L543.86 289.00L546.47 289.00L547.77 322.90L545.47 322.90L544.09 311.20L542.71 322.90ZM547.77 322.90L548.08 322.90L549.08 300.80L551.30 300.80L551.53 289.00L554.14 289.00L555.44 322.90L553.14 322.90L551.76 311.20L550.38 322.90ZM555.44 322.90L555.75 322.90L556.75 300.80L558.97 300.80L559.20 289.00L561.81 289.00L563.11 322.90L560.81 322.90L559.43 311.20L558.05 322.90ZM563.11 322.90L563.42 322.90L564.42 300.80L566.64 300.80L566.87 289.00L569.48 289.00L570.78 322.90L568.48 322.90L567.10 311.20L565.72 322.90ZM570.78 322.90L571.09 322.90L572.09 300.80L574.31 300.80L574.54 289.00L577.15 289.00L578.45 322.90L576.15 322.90L574.77 311.20L573.39 322.90ZM578.45 322.90L578.76 322.90L579.76 300.80L581.98 300.80L582.21 289.00L584.82 289.00L586.12 322.90L583.82 322.90L582.44 311.20L581.06 322.90ZM586.12 322.90L586.43 322.90L587.43 300.80L589.65 300.80L589.88 289.00L592.49 289.00L593.79 322.90L591.49 322.90L590.11 311.20L588.73 322.90ZM593.79 322.90L594.10 322.90L595.10 300.80L597.32 300.80L597.55 289.00L600.16 289.00L601.46 322.90L599.16 322.90L597.78 311.20L596.40 322.90ZM601.46 322.90L601.77 322.90L602.77 300.80L604.99 300.80L605.22 289.00L607.83 289.00L609.13 322.90L606.83 322.90L605.45 311.20L604.07 322.90ZM609.13 322.90L609.44 322.90L610.44 300.80L612.66 300.80L612.89 289.00L615.50 289.00L616.80 322.90L614.50 322.90L613.12 311.20L611.74 322.90ZM616.80 322.90L617.11 322.90L618.11 300.80L620.33 300.80L620.56 289.00L623.17 289.00L624.47 322.90L622.17 322.90L620.79 311.20L619.41 322.90ZM624.47 322.90L624.78 322.90L625.78 300.80L628.00 300.80L628.23 289.00L630.84 289.00L632.14 322.90L629.84 322.90L628.46 311.20L627.08 322.90ZM632.14 322.90L632.45 322.90L633.45 300.80L635.67 300.80L635.90 289.00L638.51 289.00L639.81 322.90L637.51 322.90L636.13 311.20L634.75 322.90ZM639.81 322.90L640.12 322.90L641.12 300.80L643.34 300.80L643.57 289.00L646.18 289.00L647.48 322.90L645.18 322.90L643.80 311.20L642.42 322.90ZM647.48 322.90L647.79 322.90L648.79 300.80L651.01 300.80L651.24 289.00L653.85 289.00L655.15 322.90L652.85 322.90L651.47 311.20L650.09 322.90ZM655.15 322.90L655.46 322.90L656.46 300.80L658.68 300.80L658.91 289.00L661.52 289.00L662.82 322.90L660.52 322.90L659.14 311.20L657.76 322.90ZM662.82 322.90L663.13 322.90L664.13 300.80L666.35 300.80L666.58 289.00L669.19 289.00L670.49 322.90L668.19 322.90L666.81 311.20L665.43 322.90ZM670.49 322.90L670.80 322.90L671.80 300.80L674.02 300.80L674.25 289.00L676.86 289.00L678.16 322.90L675.86 322.90L674.48 311.20L673.10 322.90ZM678.16 322.90L678.47 322.90L679.47 300.80L681.69 300.80L681.92 289.00L684.53 289.00L685.83 322.90L683.53 322.90L682.15 311.20L680.77 322.90ZM685.83 322.90L686.14 322.90L687.14 300.80L689.36 300.80L689.59 289.00L692.20 289.00L693.50 322.90L691.20 322.90L689.82 311.20L688.44 322.90ZM693.50 322.90L693.81 322.90L694.81 300.80L697.03 300.80L697.26 289.00L699.87 289.00L701.17 322.90L698.87 322.90L697.49 311.20L696.11 322.90ZM701.17 322.90L701.48 322.90L702.48 300.80L704.70 300.80L704.93 289.00L707.54 289.00L708.84 322.90L706.54 322.90L705.16 311.20L703.78 322.90ZM708.84 322.90L709.15 322.90L710.15 300.80L712.37 300.80L712.60 289.00L715.21 289.00L716.51 322.90L714.21 322.90L712.83 311.20L711.45 322.90ZM716.51 322.90L716.82 322.90L717.82 300.80L720.04 300.80L720.27 289.00L722.88 289.00L724.18 322.90L721.88 322.90L720.50 311.20L719.12 322.90ZM724.18 322.90L724.49 322.90L725.49 300.80L727.71 300.80L727.94 289.00L730.55 289.00L731.85 322.90L729.55 322.90L728.17 311.20L726.79 322.90ZM731.85 322.90L732.16 322.90L733.16 300.80L735.38 300.80L735.61 289.00L738.22 289.00L739.52 322.90L737.22 322.90L735.84 311.20L734.46 322.90ZM739.52 322.90L739.83 322.90L740.83 300.80L743.05 300.80L743.28 289.00L745.89 289.00L747.19 322.90L744.89 322.90L743.51 311.20L742.13 322.90ZM747.19 322.90L747.50 322.90L748.50 300.80L750.72 300.80L750.95 289.00L753.56 289.00L754.86 322.90L752.56 322.90L751.18 311.20L749.80 322.90ZM754.86 322.90L755.17 322.90L756.17 300.80L758.39 300.80L758.62 289.00L761.23 289.00L762.53 322.90L760.23 322.90L758.85 311.20L757.47 322.90ZM762.53 322.90L762.84 322.90L763.84 300.80L766.06 300.80L766.29 289.00L768.90 289.00L770.20 322.90L767.90 322.90L766.52 311.20L765.14 322.90ZM770.20 322.90L770.51 322.90L771.51 300.80L773.73 300.80L773.96 289.00L776.57 289.00L777.87 322.90L775.57 322.90L774.19 311.20L772.81 322.90ZM777.87 322.90L778.18 322.90L779.18 300.80L781.40 300.80L781.63 289.00L784.24 289.00L785.54 322.90L783.24 322.90L781.86 311.20L780.48 322.90ZM785.54 322.90L785.85 322.90L786.85 300.80L789.07 300.80L789.30 289.00L791.91 289.00L793.21 322.90L790.91 322.90L789.53 311.20L788.15 322.90ZM793.21 322.90L793.52 322.90L794.52 300.80L796.74 300.80L796.97 289.00L799.58 289.00L800.88 322.90L798.58 322.90L797.20 311.20L795.82 322.90ZM800.88 322.90L801.19 322.90L802.19 300.80L804.41 300.80L804.64 289.00L807.25 289.00L808.55 322.90L806.25 322.90L804.87 311.20L803.49 322.90ZM808.55 322.90L808.86 322.90L809.86 300.80L812.08 300.80L812.31 289.00L814.92 289.00L816.22 322.90L813.92 322.90L812.54 311.20L811.16 322.90ZM816.22 322.90L816.53 322.90L817.53 300.80L819.75 300.80L819.98 289.00L822.59 289.00L823.89 322.90L821.59 322.90L820.21 311.20L818.83 322.90ZM823.89 322.90L824.20 322.90L825.20 300.80L827.42 300.80L827.65 289.00L830.26 289.00L831.56 322.90L829.26 322.90L827.88 311.20L826.50 322.90ZM831.56 322.90L831.87 322.90L832.87 300.80L835.09 300.80L835.32 289.00L837.93 289.00L839.23 322.90L836.93 322.90L835.55 311.20L834.17 322.90ZM839.23 322.90L839.54 322.90L840.54 300.80L842.76 300.80L842.99 289.00L845.60 289.00L846.90 322.90L844.60 322.90L843.22 311.20L841.84 322.90ZM846.90 322.90L847.21 322.90L848.21 300.80L850.43 300.80L850.66 289.00L853.27 289.00L854.57 322.90L852.27 322.90L850.89 311.20L849.51 322.90ZM854.57 322.90L854.88 322.90L855.88 300.80L858.10 300.80L858.33 289.00L860.94 289.00L862.24 322.90L859.94 322.90L858.56 311.20L857.18 322.90ZM862.24 322.90L862.55 322.90L863.55 300.80L865.77 300.80L866.00 289.00L868.61 289.00L869.91 322.90L867.61 322.90L866.23 311.20L864.85 322.90ZM869.91 322.90L870.22 322.90L871.22 300.80L873.44 300.80L873.67 289.00L876.28 289.00L877.58 322.90L875.28 322.90L873.90 311.20L872.52 322.90ZM877.58 322.90L877.89 322.90L878.89 300.80L881.11 300.80L881.34 289.00L883.95 289.00L885.25 322.90L882.95 322.90L881.57 311.20L880.19 322.90ZM885.25 322.90L885.56 322.90L886.56 300.80L888.78 300.80L889.01 289.00L891.62 289.00L892.92 322.90L890.62 322.90L889.24 311.20L887.86 322.90ZM892.92 322.90L893.23 322.90L894.23 300.80L896.45 300.80L896.68 289.00L899.29 289.00L900.59 322.90L898.29 322.90L896.91 311.20L895.53 322.90ZM900.59 322.90L900.90 322.90L901.90 300.80L904.12 300.80L904.35 289.00L906.96 289.00L908.26 322.90L905.96 322.90L904.58 311.20L903.20 322.90ZM908.26 322.90L908.57 322.90L909.57 300.80L911.79 300.80L912.02 289.00L914.63 289.00L915.93 322.90L913.63 322.90L912.25 311.20L910.87 322.90ZM915.93 322.90L916.24 322.90L917.24 300.80L919.46 300.80L919.69 289.00L922.30 289.00L923.60 322.90L921.30 322.90L919.92 311.20L918.54 322.90ZM923.60 322.90L923.91 322.90L924.91 300.80L927.13 300.80L927.36 289.00L929.97 289.00L931.27 322.90L928.97 322.90L927.59 311.20L926.21 322.90ZM117.87 322.90L118.94 322.90L118.63 320.00L118.17 320.00ZM125.54 322.90L126.61 322.90L126.30 320.00L125.84 320.00ZM133.21 322.90L134.28 322.90L133.97 320.00L133.51 320.00ZM140.88 322.90L141.95 322.90L141.64 320.00L141.18 320.00ZM148.55 322.90L149.62 322.90L149.31 320.00L148.85 320.00ZM156.22 322.90L157.29 322.90L156.98 320.00L156.52 320.00ZM163.89 322.90L164.96 322.90L164.65 320.00L164.19 320.00ZM171.56 322.90L172.63 322.90L172.32 320.00L171.86 320.00ZM179.23 322.90L180.30 322.90L179.99 320.00L179.53 320.00ZM186.90 322.90L187.97 322.90L187.66 320.00L187.20 320.00ZM194.57 322.90L195.64 322.90L195.33 320.00L194.87 320.00ZM202.24 322.90L203.31 322.90L203.00 320.00L202.54 320.00ZM209.91 322.90L210.98 322.90L210.67 320.00L210.21 320.00ZM217.58 322.90L218.65 322.90L218.34 320.00L217.88 320.00ZM225.25 322.90L226.32 322.90L226.01 320.00L225.55 320.00ZM232.92 322.90L233.99 322.90L233.68 320.00L233.22 320.00ZM240.59 322.90L241.66 322.90L241.35 320.00L240.89 320.00ZM248.26 322.90L249.33 322.90L249.02 320.00L248.56 320.00ZM255.93 322.90L257.00 322.90L256.69 320.00L256.23 320.00ZM263.60 322.90L264.67 322.90L264.36 320.00L263.90 320.00ZM271.27 322.90L272.34 322.90L272.03 320.00L271.57 320.00ZM278.94 322.90L280.01 322.90L279.70 320.00L279.24 320.00ZM286.61 322.90L287.68 322.90L287.37 320.00L286.91 320.00ZM294.28 322.90L295.35 322.90L295.04 320.00L294.58 320.00ZM301.95 322.90L303.02 322.90L302.71 320.00L302.25 320.00ZM309.62 322.90L310.69 322.90L310.38 320.00L309.92 320.00ZM317.29 322.90L318.36 322.90L318.05 320.00L317.59 320.00ZM324.96 322.90L326.03 322.90L325.72 320.00L325.26 320.00ZM332.63 322.90L333.70 322.90L333.39 320.00L332.93 320.00ZM340.30 322.90L341.37 322.90L341.06 320.00L340.60 320.00ZM347.97 322.90L349.04 322.90L348.73 320.00L348.27 320.00ZM355.64 322.90L356.71 322.90L356.40 320.00L355.94 320.00ZM363.31 322.90L364.38 322.90L364.07 320.00L363.61 320.00ZM370.98 322.90L372.05 322.90L371.74 320.00L371.28 320.00ZM378.65 322.90L379.72 322.90L379.41 320.00L378.95 320.00ZM386.32 322.90L387.39 322.90L387.08 320.00L386.62 320.00ZM393.99 322.90L395.06 322.90L394.75 320.00L394.29 320.00ZM401.66 322.90L402.73 322.90L402.42 320.00L401.96 320.00ZM409.33 322.90L410.40 322.90L410.09 320.00L409.63 320.00ZM417.00 322.90L418.07 322.90L417.76 320.00L417.30 320.00ZM424.67 322.90L425.74 322.90L425.43 320.00L424.97 320.00ZM432.34 322.90L433.41 322.90L433.10 320.00L432.64 320.00ZM440.01 322.90L441.08 322.90L440.77 320.00L440.31 320.00ZM447.68 322.90L448.75 322.90L448.44 320.00L447.98 320.00ZM455.35 322.90L456.42 322.90L456.11 320.00L455.65 320.00ZM463.02 322.90L464.09 322.90L463.78 320.00L463.32 320.00ZM470.69 322.90L471.76 322.90L471.45 320.00L470.99 320.00ZM478.36 322.90L479.43 322.90L479.12 320.00L478.66 320.00ZM486.03 322.90L487.10 322.90L486.79 320.00L486.33 320.00ZM493.70 322.90L494.77 322.90L494.46 320.00L494.00 320.00ZM501.37 322.90L502.44 322.90L502.13 320.00L501.67 320.00ZM509.04 322.90L510.11 322.90L509.80 320.00L509.34 320.00ZM516.71 322.90L517.78 322.90L517.47 320.00L517.01 320.00ZM524.38 322.90L525.45 322.90L525.14 320.00L524.68 320.00ZM532.05 322.90L533.12 322.90L532.81 320.00L532.35 320.00ZM539.72 322.90L540.79 322.90L540.48 320.00L540.02 320.00ZM547.39 322.90L548.46 322.90L548.15 320.00L547.69 320.00ZM555.06 322.90L556.13 322.90L555.82 320.00L555.36 320.00ZM562.73 322.90L563.80 322.90L563.49 320.00L563.03 320.00ZM570.40 322.90L571.47 322.90L571.16 320.00L570.70 320.00ZM578.07 322.90L579.14 322.90L578.83 320.00L578.37 320.00ZM585.74 322.90L586.81 322.90L586.50 320.00L586.04 320.00ZM593.41 322.90L594.48 322.90L594.17 320.00L593.71 320.00ZM601.08 322.90L602.15 322.90L601.84 320.00L601.38 320.00ZM608.75 322.90L609.82 322.90L609.51 320.00L609.05 320.00ZM616.42 322.90L617.49 322.90L617.18 320.00L616.72 320.00ZM624.09 322.90L625.16 322.90L624.85 320.00L624.39 320.00ZM631.76 322.90L632.83 322.90L632.52 320.00L632.06 320.00ZM639.43 322.90L640.50 322.90L640.19 320.00L639.73 320.00ZM647.10 322.90L648.17 322.90L647.86 320.00L647.40 320.00ZM654.77 322.90L655.84 322.90L655.53 320.00L655.07 320.00ZM662.44 322.90L663.51 322.90L663.20 320.00L662.74 320.00ZM670.11 322.90L671.18 322.90L670.87 320.00L670.41 320.00ZM677.78 322.90L678.85 322.90L678.54 320.00L678.08 320.00ZM685.45 322.90L686.52 322.90L686.21 320.00L685.75 320.00ZM693.12 322.90L694.19 322.90L693.88 320.00L693.42 320.00ZM700.79 322.90L701.86 322.90L701.55 320.00L701.09 320.00ZM708.46 322.90L709.53 322.90L709.22 320.00L708.76 320.00ZM716.13 322.90L717.20 322.90L716.89 320.00L716.43 320.00ZM723.80 322.90L724.87 322.90L724.56 320.00L724.10 320.00ZM731.47 322.90L732.54 322.90L732.23 320.00L731.77 320.00ZM739.14 322.90L740.21 322.90L739.90 320.00L739.44 320.00ZM746.81 322.90L747.88 322.90L747.57 320.00L747.11 320.00ZM754.48 322.90L755.55 322.90L755.24 320.00L754.78 320.00ZM762.15 322.90L763.22 322.90L762.91 320.00L762.45 320.00ZM769.82 322.90L770.89 322.90L770.58 320.00L770.12 320.00ZM777.49 322.90L778.56 322.90L778.25 320.00L777.79 320.00ZM785.16 322.90L786.23 322.90L785.92 320.00L785.46 320.00ZM792.83 322.90L793.90 322.90L793.59 320.00L793.13 320.00ZM800.50 322.90L801.57 322.90L801.26 320.00L800.80 320.00ZM808.17 322.90L809.24 322.90L808.93 320.00L808.47 320.00ZM815.84 322.90L816.91 322.90L816.60 320.00L816.14 320.00ZM823.51 322.90L824.58 322.90L824.27 320.00L823.81 320.00ZM831.18 322.90L832.25 322.90L831.94 320.00L831.48 320.00ZM838.85 322.90L839.92 322.90L839.61 320.00L839.15 320.00ZM846.52 322.90L847.59 322.90L847.28 320.00L846.82 320.00ZM854.19 322.90L855.26 322.90L854.95 320.00L854.49 320.00ZM861.86 322.90L862.93 322.90L862.62 320.00L862.16 320.00ZM869.53 322.90L870.60 322.90L870.29 320.00L869.83 320.00ZM877.20 322.90L878.27 322.90L877.96 320.00L877.50 320.00ZM884.87 322.90L885.94 322.90L885.63 320.00L885.17 320.00ZM892.54 322.90L893.61 322.90L893.30 320.00L892.84 320.00ZM900.21 322.90L901.28 322.90L900.97 320.00L900.51 320.00ZM907.88 322.90L908.95 322.90L908.64 320.00L908.18 320.00ZM915.55 322.90L916.62 322.90L916.31 320.00L915.85 320.00ZM923.22 322.90L924.29 322.90L923.98 320.00L923.52 320.00Z" fill="#348ABD" clip-path="url(#u)"/>
<path d="M119.09 131.00L123.08 131.00L123.39 155.00L119.09 155.00ZM126.76 131.00L130.75 131.00L131.06 155.00L126.76 155.00ZM134.43 131.00L138.42 131.00L138.73 155.00L134.43 155.00ZM142.10 131.00L146.09 131.00L146.40 155.00L142.10 155.00ZM149.77 131.00L153.76 131.00L154.07 155.00L149.77 155.00ZM157.44 131.00L161.43 131.00L161.74 155.00L157.44 155.00ZM165.11 131.00L169.10 131.00L169.41 155.00L165.11 155.00ZM172.78 131.00L176.77 131.00L177.08 155.00L172.78 155.00ZM180.45 131.00L184.44 131.00L184.75 155.00L180.45 155.00ZM188.12 131.00L192.11 131.00L192.42 155.00L188.12 155.00ZM195.79 131.00L199.78 131.00L200.09 155.00L195.79 155.00ZM203.46 131.00L207.45 131.00L207.76 155.00L203.46 155.00ZM211.13 131.00L215.12 131.00L215.43 155.00L211.13 155.00ZM218.80 131.00L222.79 131.00L223.10 155.00L218.80 155.00ZM226.47 131.00L230.46 131.00L230.77 155.00L226.47 155.00ZM234.14 131.00L238.13 131.00L238.44 155.00L234.14 155.00ZM241.81 131.00L245.80 131.00L246.11 155.00L241.81 155.00ZM249.48 131.00L253.47 131.00L253.78 155.00L249.48 155.00ZM257.15 131.00L261.14 131.00L261.45 155.00L257.15 155.00ZM264.82 131.00L268.81 131.00L269.12 155.00L264.82 155.00ZM272.49 131.00L276.48 131.00L276.79 155.00L272.49 155.00ZM280.16 131.00L284.15 131.00L284.46 155.00L280.16 155.00ZM287.83 131.00L291.82 131.00L292.13 155.00L287.83 155.00ZM295.50 131.00L299.49 131.00L299.80 155.00L295.50 155.00ZM303.17 131.00L307.16 131.00L307.47 155.00L303.17 155.00ZM310.84 131.00L314.83 131.00L315.14 155.00L310.84 155.00ZM318.51 131.00L322.50 131.00L322.81 155.00L318.51 155.00ZM326.18 131.00L330.17 131.00L330.48 155.00L326.18 155.00ZM333.85 131.00L337.84 131.00L338.15 155.00L333.85 155.00ZM341.52 131.00L345.51 131.00L345.82 155.00L341.52 155.00ZM349.19 131.00L353.18 131.00L353.49 155.00L349.19 155.00ZM356.86 131.00L360.85 131.00L361.16 155.00L356.86 155.00ZM364.53 131.00L368.52 131.00L368.83 155.00L364.53 155.00ZM372.20 131.00L376.19 131.00L376.50 155.00L372.20 155.00ZM379.87 131.00L383.86 131.00L384.17 155.00L379.87 155.00ZM387.54 131.00L391.53 131.00L391.84 155.00L387.54 155.00ZM395.21 131.00L399.20 131.00L399.51 155.00L395.21 155.00ZM402.88 131.00L406.87 131.00L407.18 155.00L402.88 155.00ZM410.55 131.00L414.54 131.00L414.85 155.00L410.55 155.00ZM418.22 131.00L422.21 131.00L422.52 155.00L418.22 155.00ZM425.89 131.00L429.88 131.00L430.19 155.00L425.89 155.00ZM433.56 131.00L437.55 131.00L437.86 155.00L433.56 155.00ZM441.23 131.00L445.22 131.00L445.53 155.00L441.23 155.00ZM448.90 131.00L452.89 131.00L453.20 155.00L448.90 155.00ZM456.57 131.00L460.56 131.00L460.87 155.00L456.57 155.00ZM464.24 131.00L468.23 131.00L468.54 155.00L464.24 155.00ZM471.91 131.00L475.90 131.00L476.21 155.00L471.91 155.00ZM479.58 131.00L483.57 131.00L483.88 155.00L479.58 155.00ZM487.25 131.00L491.24 131.00L491.55 155.00L487.25 155.00ZM494.92 131.00L498.91 131.00L499.22 155.00L494.92 155.00ZM502.59 131.00L506.58 131.00L506.89 155.00L502.59 155.00ZM510.26 131.00L514.25 131.00L514.56 155.00L510.26 155.00ZM517.93 131.00L521.92 131.00L522.23 155.00L517.93 155.00ZM525.60 131.00L529.59 131.00L529.90 155.00L525.60 155.00ZM533.27 131.00L537.26 131.00L537.57 155.00L533.27 155.00ZM540.94 131.00L544.93 131.00L545.24 155.00L540.94 155.00ZM548.61 131.00L552.60 131.00L552.91 155.00L548.61 155.00ZM556.28 131.00L560.27 131.00L560.58 155.00L556.28 155.00ZM563.95 131.00L567.94 131.00L568.25 155.00L563.95 155.00ZM571.62 131.00L575.61 131.00L575.92 155.00L571.62 155.00ZM579.29 131.00L583.28 131.00L583.59 155.00L579.29 155.00ZM586.96 131.00L590.95 131.00L591.26 155.00L586.96 155.00ZM594.63 131.00L598.62 131.00L598.93 155.00L594.63 155.00ZM602.30 131.00L606.29 131.00L606.60 155.00L602.30 155.00ZM609.97 131.00L613.96 131.00L614.27 155.00L609.97 155.00ZM617.64 131.00L621.63 131.00L621.94 155.00L617.64 155.00ZM625.31 131.00L629.30 131.00L629.61 155.00L625.31 155.00ZM632.98 131.00L636.97 131.00L637.28 155.00L632.98 155.00ZM640.65 131.00L644.64 131.00L644.95 155.00L640.65 155.00ZM648.32 131.00L652.31 131.00L652.62 155.00L648.32 155.00ZM655.99 131.00L659.98 131.00L660.29 155.00L655.99 155.00ZM663.66 131.00L667.65 131.00L667.96 155.00L663.66 155.00ZM671.33 131.00L675.32 131.00L675.63 155.00L671.33 155.00ZM679.00 131.00L682.99 131.00L683.30 155.00L679.00 155.00ZM686.67 131.00L690.66 131.00L690.97 155.00L686.67 155.00ZM694.34 131.00L698.33 131.00L698.64 155.00L694.34 155.00ZM702.01 131.00L706.00 131.00L706.31 155.00L702.01 155.00ZM709.68 131.00L713.67 131.00L713.98 155.00L709.68 155.00ZM717.35 131.00L721.34 131.00L721.65 155.00L717.35 155.00ZM725.02 131.00L729.01 131.00L729.32 155.00L725.02 155.00ZM732.69 131.00L736.68 131.00L736.99 155.00L732.69 155.00ZM740.36 131.00L744.35 131.00L744.66 155.00L740.36 155.00ZM748.03 131.00L752.02 131.00L752.33 155.00L748.03 155.00ZM755.70 131.00L759.69 131.00L760.00 155.00L755.70 155.00ZM763.37 131.00L767.36 131.00L767.67 155.00L763.37 155.00ZM771.04 131.00L775.03 131.00L775.34 155.00L771.04 155.00ZM778.71 131.00L782.70 131.00L783.01 155.00L778.71 155.00ZM786.38 131.00L790.37 131.00L790.68 155.00L786.38 155.00ZM794.05 131.00L798.04 131.00L798.35 155.00L794.05 155.00ZM801.72 131.00L805.71 131.00L806.02 155.00L801.72 155.00ZM809.39 131.00L813.38 131.00L813.69 155.00L809.39 155.00ZM817.06 131.00L821.05 131.00L821.36 155.00L817.06 155.00ZM824.73 131.00L828.72 131.00L829.03 155.00L824.73 155.00ZM832.40 131.00L836.39 131.00L836.70 155.00L832.40 155.00ZM840.07 131.00L844.06 131.00L844.37 155.00L840.07 155.00ZM847.74 131.00L851.73 131.00L852.04 155.00L847.74 155.00ZM855.41 131.00L859.40 131.00L859.71 155.00L855.41 155.00ZM863.08 131.00L867.07 131.00L867.38 155.00L863.08 155.00ZM870.75 131.00L874.74 131.00L875.05 155.00L870.75 155.00ZM878.42 131.00L882.41 131.00L882.72 155.00L878.42 155.00ZM886.09 131.00L890.08 131.00L890.39 155.00L886.09 155.00ZM893.76 131.00L897.75 131.00L898.06 155.00L893.76 155.00ZM901.43 131.00L905.42 131.00L905.73 155.00L901.43 155.00ZM909.10 131.00L913.09 131.00L913.40 155.00L909.10 155.00ZM916.77 131.00L920.76 131.00L921.07 155.00L916.77 155.00ZM924.44 131.00L928.43 131.00L928.74 155.00L924.44 155.00ZM123.70 127.80L125.38 127.80L126.92 155.00L125.84 155.00ZM131.37 127.80L133.05 127.80L134.59 155.00L133.51 155.00ZM139.04 127.80L140.72 127.80L142.26 155.00L141.18 155.00ZM146.71 127.80L148.39 127.80L149.93 155.00L148.85 155.00ZM154.38 127.80L156.06 127.80L157.60 155.00L156.52 155.00ZM162.05 127.80L163.73 127.80L165.27 155.00L164.19 155.00ZM169.72 127.80L171.40 127.80L172.94 155.00L171.86 155.00ZM177.39 127.80L179.07 127.80L180.61 155.00L179.53 155.00ZM185.06 127.80L186.74 127.80L188.28 155.00L187.20 155.00ZM192.73 127.80L194.41 127.80L195.95 155.00L194.87 155.00ZM200.40 127.80L202.08 127.80L203.62 155.00L202.54 155.00ZM208.07 127.80L209.75 127.80L211.29 155.00L210.21 155.00ZM215.74 127.80L217.42 127.80L218.96 155.00L217.88 155.00ZM223.41 127.80L225.09 127.80L226.63 155.00L225.55 155.00ZM231.08 127.80L232.76 127.80L234.30 155.00L233.22 155.00ZM238.75 127.80L240.43 127.80L241.97 155.00L240.89 155.00ZM246.42 127.80L248.10 127.80L249.64 155.00L248.56 155.00ZM254.09 127.80L255.77 127.80L257.31 155.00L256.23 155.00ZM261.76 127.80L263.44 127.80L264.98 155.00L263.90 155.00ZM269.43 127.80L271.11 127.80L272.65 155.00L271.57 155.00ZM277.10 127.80L278.78 127.80L280.32 155.00L279.24 155.00ZM284.77 127.80L286.45 127.80L287.99 155.00L286.91 155.00ZM292.44 127.80L294.12 127.80L295.66 155.00L294.58 155.00ZM300.11 127.80L301.79 127.80L303.33 155.00L302.25 155.00ZM307.78 127.80L309.46 127.80L311.00 155.00L309.92 155.00ZM315.45 127.80L317.13 127.80L318.67 155.00L317.59 155.00ZM323.12 127.80L324.80 127.80L326.34 155.00L325.26 155.00ZM330.79 127.80L332.47 127.80L334.01 155.00L332.93 155.00ZM338.46 127.80L340.14 127.80L341.68 155.00L340.60 155.00ZM346.13 127.80L347.81 127.80L349.35 155.00L348.27 155.00ZM353.80 127.80L355.48 127.80L357.02 155.00L355.94 155.00ZM361.47 127.80L363.15 127.80L364.69 155.00L363.61 155.00ZM369.14 127.80L370.82 127.80L372.36 155.00L371.28 155.00ZM376.81 127.80L378.49 127.80L380.03 155.00L378.95 155.00ZM384.48 127.80L386.16 127.80L387.70 155.00L386.62 155.00ZM392.15 127.80L393.83 127.80L395.37 155.00L394.29 155.00ZM399.82 127.80L401.50 127.80L403.04 155.00L401.96 155.00ZM407.49 127.80L409.17 127.80L410.71 155.00L409.63 155.00ZM415.16 127.80L416.84 127.80L418.38 155.00L417.30 155.00ZM422.83 127.80L424.51 127.80L426.05 155.00L424.97 155.00ZM430.50 127.80L432.18 127.80L433.72 155.00L432.64 155.00ZM438.17 127.80L439.85 127.80L441.39 155.00L440.31 155.00ZM445.84 127.80L447.52 127.80L449.06 155.00L447.98 155.00ZM453.51 127.80L455.19 127.80L456.73 155.00L455.65 155.00ZM461.18 127.80L462.86 127.80L464.40 155.00L463.32 155.00ZM468.85 127.80L470.53 127.80L472.07 155.00L470.99 155.00ZM476.52 127.80L478.20 127.80L479.74 155.00L478.66 155.00ZM484.19 127.80L485.87 127.80L487.41 155.00L486.33 155.00ZM491.86 127.80L493.54 127.80L495.08 155.00L494.00 155.00ZM499.53 127.80L501.21 127.80L502.75 155.00L501.67 155.00ZM507.20 127.80L508.88 127.80L510.42 155.00L509.34 155.00ZM514.87 127.80L516.55 127.80L518.09 155.00L517.01 155.00ZM522.54 127.80L524.22 127.80L525.76 155.00L524.68 155.00ZM530.21 127.80L531.89 127.80L533.43 155.00L532.35 155.00ZM537.88 127.80L539.56 127.80L541.10 155.00L540.02 155.00ZM545.55 127.80L547.23 127.80L548.77 155.00L547.69 155.00ZM553.22 127.80L554.90 127.80L556.44 155.00L555.36 155.00ZM560.89 127.80L562.57 127.80L564.11 155.00L563.03 155.00ZM568.56 127.80L570.24 127.80L571.78 155.00L570.70 155.00ZM576.23 127.80L577.91 127.80L579.45 155.00L578.37 155.00ZM583.90 127.80L585.58 127.80L587.12 155.00L586.04 155.00ZM591.57 127.80L593.25 127.80L594.79 155.00L593.71 155.00ZM599.24 127.80L600.92 127.80L602.46 155.00L601.38 155.00ZM606.91 127.80L608.59 127.80L610.13 155.00L609.05 155.00ZM614.58 127.80L616.26 127.80L617.80 155.00L616.72 155.00ZM622.25 127.80L623.93 127.80L625.47 155.00L624.39 155.00ZM629.92 127.80L631.60 127.80L633.14 155.00L632.06 155.00ZM637.59 127.80L639.27 127.80L640.81 155.00L639.73 155.00ZM645.26 127.80L646.94 127.80L648.48 155.00L647.40 155.00ZM652.93 127.80L654.61 127.80L656.15 155.00L655.07 155.00ZM660.60 127.80L662.28 127.80L663.82 155.00L662.74 155.00ZM668.27 127.80L669.95 127.80L671.49 155.00L670.41 155.00ZM675.94 127.80L677.62 127.80L679.16 155.00L678.08 155.00ZM683.61 127.80L685.29 127.80L686.83 155.00L685.75 155.00ZM691.28 127.80L692.96 127.80L694.50 155.00L693.42 155.00ZM698.95 127.80L700.63 127.80L702.17 155.00L701.09 155.00ZM706.62 127.80L708.30 127.80L709.84 155.00L708.76 155.00ZM714.29 127.80L715.97 127.80L717.51 155.00L716.43 155.00ZM721.96 127.80L723.64 127.80L725.18 155.00L724.10 155.00ZM729.63 127.80L731.31 127.80L732.85 155.00L731.77 155.00ZM737.30 127.80L738.98 127.80L740.52 155.00L739.44 155.00ZM744.97 127.80L746.65 127.80L748.19 155.00L747.11 155.00ZM752.64 127.80L754.32 127.80L755.86 155.00L754.78 155.00ZM760.31 127.80L761.99 127.80L763.53 155.00L762.45 155.00ZM767.98 127.80L769.66 127.80L771.20 155.00L770.12 155.00ZM775.65 127.80L777.33 127.80L778.87 155.00L777.79 155.00ZM783.32 127.80L785.00 127.80L786.54 155.00L785.46 155.00ZM790.99 127.80L792.67 127.80L794.21 155.00L793.13 155.00ZM798.66 127.80L800.34 127.80L801.88 155.00L800.80 155.00ZM806.33 127.80L808.01 127.80L809.55 155.00L808.47 155.00ZM814.00 127.80L815.68 127.80L817.22 155.00L816.14 155.00ZM821.67 127.80L823.35 127.80L824.89 155.00L823.81 155.00ZM829.34 127.80L831.02 127.80L832.56 155.00L831.48 155.00ZM837.01 127.80L838.69 127.80L840.23 155.00L839.15 155.00ZM844.68 127.80L846.36 127.80L847.90 155.00L846.82 155.00ZM852.35 127.80L854.03 127.80L855.57 155.00L854.49 155.00ZM860.02 127.80L861.70 127.80L863.24 155.00L862.16 155.00ZM867.69 127.80L869.37 127.80L870.91 155.00L869.83 155.00ZM875.36 127.80L877.04 127.80L878.58 155.00L877.50 155.00ZM883.03 127.80L884.71 127.80L886.25 155.00L885.17 155.00ZM890.70 127.80L892.38 127.80L893.92 155.00L892.84 155.00ZM898.37 127.80L900.05 127.80L901.59 155.00L900.51 155.00ZM906.04 127.80L907.72 127.80L909.26 155.00L908.18 155.00ZM913.71 127.80L915.39 127.80L916.93 155.00L915.85 155.00ZM921.38 127.80L923.06 127.80L924.60 155.00L923.52 155.00ZM929.05 127.80L930.73 127.80L932.27 155.00L931.19 155.00Z" fill="#E24A33" clip-path="url(#u)"/>
<path d="M120.17 487.30L120.17 475.40L124.00 475.40L124.00 487.30L127.84 487.30L127.84 475.40L131.67 475.40L131.67 487.30L135.51 487.30L135.51 475.40L139.34 475.40L139.34 487.30L143.18 487.30L143.18 475.40L147.01 475.40L147.01 487.30L150.85 487.30L150.85 475.40L154.68 475.40L154.68 487.30L158.52 487.30L158.52 475.40L162.35 475.40L162.35 487.30L166.19 487.30L166.19 475.40L170.02 475.40L170.02 487.30L173.86 487.30L173.86 475.40L177.69 475.40L177.69 487.30L181.53 487.30L181.53 475.40L185.36 475.40L185.36 487.30L189.20 487.30L189.20 475.40L193.03 475.40L193.03 487.30L196.87 487.30L196.87 475.40L200.70 475.40L200.70 487.30L204.54 487.30L204.54 475.40L208.37 475.40L208.37 487.30L212.21 487.30L212.21 475.40L216.04 475.40L216.04 487.30L219.88 487.30L219.88 475.40L223.71 475.40L223.71 487.30L227.55 487.30L227.55 475.40L231.38 475.40L231.38 487.30L235.22 487.30L235.22 475.40L239.05 475.40L239.05 487.30L242.89 487.30L242.89 475.40L246.72 475.40L246.72 487.30L250.56 487.30L250.56 475.40L254.39 475.40L254.39 487.30L258.23 487.30L258.23 475.40L262.06 475.40L262.06 487.30L265.90 487.30L265.90 475.40L269.73 475.40L269.73 487.30L273.57 487.30L273.57 475.40L277.40 475.40L277.40 487.30L281.24 487.30L281.24 475.40L285.07 475.40L285.07 487.30L288.91 487.30L288.91 475.40L292.74 475.40L292.74 487.30L296.58 487.30L296.58 475.40L300.41 475.40L300.41 487.30L304.25 487.30L304.25 475.40L308.08 475.40L308.08 487.30L311.92 487.30L311.92 475.40L315.75 475.40L315.75 487.30L319.59 487.30L319.59 475.40L323.42 475.40L323.42 487.30L327.26 487.30L327.26 475.40L331.09 475.40L331.09 487.30L334.93 487.30L334.93 475.40L338.76 475.40L338.76 487.30L342.60 487.30L342.60 475.40L346.43 475.40L346.43 487.30L350.27 487.30L350.27 475.40L354.10 475.40L354.10 487.30L357.94 487.30L357.94 475.40L361.77 475.40L361.77 487.30L365.61 487.30L365.61 475.40L369.44 475.40L369.44 487.30L373.28 487.30L373.28 475.40L377.11 475.40L377.11 487.30L380.95 487.30L380.95 475.40L384.78 475.40L384.78 487.30L388.62 487.30L388.62 475.40L392.45 475.40L392.45 487.30L396.29 487.30L396.29 475.40L400.12 475.40L400.12 487.30L403.96 487.30L403.96 475.40L407.79 475.40L407.79 487.30L411.63 487.30L411.63 475.40L415.46 475.40L415.46 487.30L419.30 487.30L419.30 475.40L423.13 475.40L423.13 487.30L426.97 487.30L426.97 475.40L430.80 475.40L430.80 487.30L434.64 487.30L434.64 475.40L438.47 475.40L438.47 487.30L442.31 487.30L442.31 475.40L446.14 475.40L446.14 487.30L449.98 487.30L449.98 475.40L453.81 475.40L453.81 487.30L457.65 487.30L457.65 475.40L461.48 475.40L461.48 487.30L465.32 487.30L465.32 475.40L469.15 475.40L469.15 487.30L472.99 487.30L472.99 475.40L476.82 475.40L476.82 487.30L480.66 487.30L480.66 475.40L484.49 475.40L484.49 487.30L488.33 487.30L488.33 475.40L492.16 475.40L492.16 487.30L496.00 487.30L496.00 475.40L499.83 475.40L499.83 487.30L503.67 487.30L503.67 475.40L507.50 475.40L507.50 487.30L511.34 487.30L511.34 475.40L515.17 475.40L515.17 487.30L519.01 487.30L519.01 475.40L522.84 475.40L522.84 487.30L526.68 487.30L526.68 475.40L530.51 475.40L530.51 487.30L534.35 487.30L534.35 475.40L538.18 475.40L538.18 487.30L542.02 487.30L542.02 475.40L545.85 475.40L545.85 487.30L549.69 487.30L549.69 475.40L553.52 475.40L553.52 487.30L557.36 487.30L557.36 475.40L561.19 475.40L561.19 487.30L565.03 487.30L565.03 475.40L568.86 475.40L568.86 487.30L572.70 487.30L572.70 475.40L576.53 475.40L576.53 487.30L580.37 487.30L580.37 475.40L584.20 475.40L584.20 487.30L588.04 487.30L588.04 475.40L591.87 475.40L591.87 487.30L595.71 487.30L595.71 475.40L599.54 475.40L599.54 487.30L603.38 487.30L603.38 475.40L607.21 475.40L607.21 487.30L611.05 487.30L611.05 475.40L614.88 475.40L614.88 487.30L618.72 487.30L618.72 475.40L622.55 475.40L622.55 487.30L626.39 487.30L626.39 475.40L630.22 475.40L630.22 487.30L634.06 487.30L634.06 475.40L637.89 475.40L637.89 487.30L641.73 487.30L641.73 475.40L645.56 475.40L645.56 487.30L649.40 487.30L649.40 475.40L653.23 475.40L653.23 487.30L657.07 487.30L657.07 475.40L660.90 475.40L660.90 487.30L664.74 487.30L664.74 475.40L668.57 475.40L668.57 487.30L672.41 487.30L672.41 475.40L676.24 475.40L676.24 487.30L680.08 487.30L680.08 475.40L683.91 475.40L683.91 487.30L687.75 487.30L687.75 475.40L691.58 475.40L691.58 487.30L695.42 487.30L695.42 475.40L699.25 475.40L699.25 487.30L703.09 487.30L703.09 475.40L706.92 475.40L706.92 487.30L710.76 487.30L710.76 475.40L714.59 475.40L714.59 487.30L718.43 487.30L718.43 475.40L722.26 475.40L722.26 487.30L726.10 487.30L726.10 475.40L729.93 475.40L729.93 487.30L733.77 487.30L733.77 475.40L737.60 475.40L737.60 487.30L741.44 487.30L741.44 475.40L745.27 475.40L745.27 487.30L749.11 487.30L749.11 475.40L752.94 475.40L752.94 487.30L756.78 487.30L756.78 475.40L760.61 475.40L760.61 487.30L764.45 487.30L764.45 475.40L768.28 475.40L768.28 487.30L772.12 487.30L772.12 475.40L775.95 475.40L775.95 487.30L779.79 487.30L779.79 475.40L783.62 475.40L783.62 487.30L787.46 487.30L787.46 475.40L791.29 475.40L791.29 487.30L795.13 487.30L795.13 475.40L798.96 475.40L798.96 487.30L802.80 487.30L802.80 475.40L806.63 475.40L806.63 487.30L810.47 487.30L810.47 475.40L814.30 475.40L814.30 487.30L818.14 487.30L818.14 475.40L821.97 475.40L821.97 487.30L825.81 487.30L825.81 475.40L829.64 475.40L829.64 487.30L833.48 487.30L833.48 475.40L837.31 475.40L837.31 487.30L841.15 487.30L841.15 475.40L844.98 475.40L844.98 487.30L848.82 487.30L848.82 475.40L852.65 475.40L852.65 487.30L856.49 487.30L856.49 475.40L860.32 475.40L860.32 487.30L864.16 487.30L864.16 475.40L867.99 475.40L867.99 487.30L871.83 487.30L871.83 475.40L875.66 475.40L875.66 487.30L879.50 487.30L879.50 475.40L883.33 475.40L883.33 487.30L887.17 487.30L887.17 475.40L891.00 475.40L891.00 487.30L894.84 487.30L894.84 475.40L898.67 475.40L898.67 487.30L902.51 487.30L902.51 475.40L906.34 475.40L906.34 487.30L910.18 487.30L910.18 475.40L914.01 475.40L914.01 487.30L917.85 487.30L917.85 475.40L921.68 475.40L921.68 487.30L925.52 487.30L925.52 475.40L929.35 475.40L929.35 487.30" stroke="#E24A33" stroke-width="1.5" fill="none" stroke-linejoin="round" clip-path="url(#l)"/>
<path d="M114.49 500.30L114.49 488.50L118.33 488.50L118.33 500.30L122.16 500.30L122.16 488.50L126.00 488.50L126.00 500.30L129.83 500.30L129.83 488.50L133.67 488.50L133.67 500.30L137.50 500.30L137.50 488.50L141.34 488.50L141.34 500.30L145.17 500.30L145.17 488.50L149.01 488.50L149.01 500.30L152.84 500.30L152.84 488.50L156.68 488.50L156.68 500.30L160.51 500.30L160.51 488.50L164.35 488.50L164.35 500.30L168.18 500.30L168.18 488.50L172.02 488.50L172.02 500.30L175.85 500.30L175.85 488.50L179.69 488.50L179.69 500.30L183.52 500.30L183.52 488.50L187.36 488.50L187.36 500.30L191.19 500.30L191.19 488.50L195.03 488.50L195.03 500.30L198.86 500.30L198.86 488.50L202.70 488.50L202.70 500.30L206.53 500.30L206.53 488.50L210.37 488.50L210.37 500.30L214.20 500.30M214.20 488.50L218.04 488.50L218.04 500.30L221.87 500.30L221.87 488.50L225.71 488.50L225.71 500.30L229.54 500.30L229.54 488.50L233.38 488.50L233.38 500.30L237.21 500.30L237.21 488.50L241.05 488.50L241.05 500.30L244.88 500.30L244.88 488.50L248.72 488.50L248.72 500.30L252.55 500.30L252.55 488.50L256.39 488.50L256.39 500.30L260.22 500.30L260.22 488.50L264.06 488.50L264.06 500.30L267.89 500.30L267.89 488.50L271.73 488.50L271.73 500.30L275.56 500.30L275.56 488.50L279.40 488.50L279.40 500.30L283.23 500.30L283.23 488.50L287.07 488.50L287.07 500.30L290.90 500.30M290.90 488.50L294.74 488.50L294.74 500.30L298.57 500.30L298.57 488.50L302.41 488.50L302.41 500.30L306.24 500.30L306.24 488.50L310.08 488.50L310.08 500.30L313.91 500.30L313.91 488.50L317.75 488.50L317.75 500.30L321.58 500.30L321.58 488.50L325.42 488.50L325.42 500.30L329.25 500.30L329.25 488.50L333.09 488.50L333.09 500.30L336.92 500.30L336.92 488.50L340.76 488.50L340.76 500.30L344.59 500.30L344.59 488.50L348.43 488.50L348.43 500.30L352.26 500.30L352.26 488.50L356.10 488.50L356.10 500.30L359.93 500.30L359.93 488.50L363.77 488.50L363.77 500.30L367.60 500.30M367.60 488.50L371.44 488.50L371.44 500.30L375.27 500.30L375.27 488.50L379.11 488.50L379.11 500.30L382.94 500.30L382.94 488.50L386.78 488.50L386.78 500.30L390.61 500.30L390.61 488.50L394.45 488.50L394.45 500.30L398.28 500.30L398.28 488.50L402.12 488.50L402.12 500.30L405.95 500.30L405.95 488.50L409.79 488.50L409.79 500.30L413.62 500.30L413.62 488.50L417.46 488.50L417.46 500.30L421.29 500.30L421.29 488.50L425.13 488.50L425.13 500.30L428.96 500.30L428.96 488.50L432.80 488.50L432.80 500.30L436.63 500.30L436.63 488.50L440.47 488.50L440.47 500.30L444.30 500.30M444.30 488.50L448.14 488.50L448.14 500.30L451.97 500.30L451.97 488.50L455.81 488.50L455.81 500.30L459.64 500.30L459.64 488.50L463.48 488.50L463.48 500.30L467.31 500.30L467.31 488.50L471.15 488.50L471.15 500.30L474.98 500.30L474.98 488.50L478.82 488.50L478.82 500.30L482.65 500.30L482.65 488.50L486.49 488.50L486.49 500.30L490.32 500.30L490.32 488.50L494.16 488.50L494.16 500.30L497.99 500.30L497.99 488.50L501.83 488.50L501.83 500.30L505.66 500.30L505.66 488.50L509.50 488.50L509.50 500.30L513.33 500.30L513.33 488.50L517.17 488.50L517.17 500.30L521.00 500.30M521.00 488.50L524.84 488.50L524.84 500.30L528.67 500.30L528.67 488.50L532.51 488.50L532.51 500.30L536.34 500.30L536.34 488.50L540.18 488.50L540.18 500.30L544.01 500.30L544.01 488.50L547.85 488.50L547.85 500.30L551.68 500.30L551.68 488.50L555.52 488.50L555.52 500.30L559.35 500.30L559.35 488.50L563.19 488.50L563.19 500.30L567.02 500.30L567.02 488.50L570.86 488.50L570.86 500.30L574.69 500.30L574.69 488.50L578.53 488.50L578.53 500.30L582.36 500.30L582.36 488.50L586.20 488.50L586.20 500.30L590.03 500.30L590.03 488.50L593.87 488.50L593.87 500.30L597.70 500.30M597.70 488.50L601.54 488.50L601.54 500.30L605.37 500.30L605.37 488.50L609.21 488.50L609.21 500.30L613.04 500.30L613.04 488.50L616.88 488.50L616.88 500.30L620.71 500.30L620.71 488.50L624.55 488.50L624.55 500.30L628.38 500.30L628.38 488.50L632.22 488.50L632.22 500.30L636.05 500.30L636.05 488.50L639.89 488.50L639.89 500.30L643.72 500.30L643.72 488.50L647.56 488.50L647.56 500.30L651.39 500.30L651.39 488.50L655.23 488.50L655.23 500.30L659.06 500.30L659.06 488.50L662.90 488.50L662.90 500.30L666.73 500.30L666.73 488.50L670.57 488.50L670.57 500.30L674.40 500.30M674.40 488.50L678.24 488.50L678.24 500.30L682.07 500.30L682.07 488.50L685.91 488.50L685.91 500.30L689.74 500.30L689.74 488.50L693.58 488.50L693.58 500.30L697.41 500.30L697.41 488.50L701.25 488.50L701.25 500.30L705.08 500.30L705.08 488.50L708.92 488.50L708.92 500.30L712.75 500.30L712.75 488.50L716.59 488.50L716.59 500.30L720.42 500.30L720.42 488.50L724.26 488.50L724.26 500.30L728.09 500.30L728.09 488.50L731.93 488.50L731.93 500.30L735.76 500.30L735.76 488.50L739.60 488.50L739.60 500.30L743.43 500.30L743.43 488.50L747.27 488.50L747.27 500.30L751.10 500.30M751.10 488.50L754.94 488.50L754.94 500.30L758.77 500.30L758.77 488.50L762.61 488.50L762.61 500.30L766.44 500.30L766.44 488.50L770.28 488.50L770.28 500.30L774.11 500.30L774.11 488.50L777.95 488.50L777.95 500.30L781.78 500.30L781.78 488.50L785.62 488.50L785.62 500.30L789.45 500.30L789.45 488.50L793.29 488.50L793.29 500.30L797.12 500.30L797.12 488.50L800.96 488.50L800.96 500.30L804.79 500.30L804.79 488.50L808.63 488.50L808.63 500.30L812.46 500.30L812.46 488.50L816.30 488.50L816.30 500.30L820.13 500.30L820.13 488.50L823.97 488.50L823.97 500.30L827.80 500.30M827.80 488.50L831.64 488.50L831.64 500.30L835.47 500.30L835.47 488.50L839.31 488.50L839.31 500.30L843.14 500.30L843.14 488.50L846.98 488.50L846.98 500.30L850.81 500.30L850.81 488.50L854.65 488.50L854.65 500.30L858.48 500.30L858.48 488.50L862.32 488.50L862.32 500.30L866.15 500.30L866.15 488.50L869.99 488.50L869.99 500.30L873.82 500.30L873.82 488.50L877.66 488.50L877.66 500.30L881.49 500.30L881.49 488.50L885.33 488.50L885.33 500.30L889.16 500.30L889.16 488.50L893.00 488.50L893.00 500.30L896.83 500.30L896.83 488.50L900.67 488.50L900.67 500.30L904.50 500.30L904.50 488.50L908.34 488.50L908.34 500.30L912.17 500.30L912.17 488.50L916.01 488.50L916.01 500.30L919.84 500.30L919.84 488.50L923.68 488.50L923.68 500.30" stroke="#348ABD" stroke-width="1.5" fill="none" stroke-linejoin="round" clip-path="url(#l)"/>
<path d="M139.0 512.6H905.0" stroke="#988ED5" stroke-width="1.5"/>
<path d="M139.0 514.2H905.0" stroke="#777777" stroke-width="1.5"/>
<path d="M139.0 526.9H905.0" stroke="#FBC15E" stroke-width="1.5"/>
<path d="M139.0 539.6H905.0" stroke="#8EBA42" stroke-width="1.5"/>
<path d="M139.0 564.0H905.0" stroke="#FFB5B8" stroke-width="1.5"/>
<path d="M139.0 576.8H905.0" stroke="#E24A33" stroke-width="1.5"/>
<path d="M139.0 589.5H905.0" stroke="#348ABD" stroke-width="1.5"/>
<path d="M139.0 591.0H905.0" stroke="#988ED5" stroke-width="1.5"/>
<path d="M139.0 603.5H905.0" stroke="#777777" stroke-width="1.5"/>
<path d="M139.0 616.3H905.0" stroke="#FBC15E" stroke-width="1.5"/>
<path d="M139.0 629.2H905.0" stroke="#8EBA42" stroke-width="1.5"/>
<path d="M139.0 642.0H905.0" stroke="#FFB5B8" stroke-width="1.5"/>
<path d="M139.0 654.8H905.0" stroke="#E24A33" stroke-width="1.5"/>
<rect x="914" y="89" width="165" height="399.5" fill="#E5E5E5"/>
<path d="M925 103.53H949" stroke="#E24A33" stroke-width="1.5"/>
<text x="966.82" y="108.48" font-size="18.53" fill="#000" textLength="55.23" lengthAdjust="spacingAndGlyphs">B_extx</text>
<path d="M925 129.95H949" stroke="#348ABD" stroke-width="1.5"/>
<text x="966.82" y="134.90" font-size="18.53" fill="#000" textLength="55.11" lengthAdjust="spacingAndGlyphs">B_exty</text>
<path d="M925 156.37H949" stroke="#988ED5" stroke-width="1.5"/>
<text x="966.83" y="161.32" font-size="18.53" fill="#000" textLength="54.66" lengthAdjust="spacingAndGlyphs">B_extz</text>
<path d="M925 182.79H949" stroke="#777777" stroke-width="1.5"/>
<text x="966.79" y="187.74" font-size="19.12" fill="#000" textLength="93.56" lengthAdjust="spacingAndGlyphs">m.region1x</text>
<path d="M925 209.21H949" stroke="#FBC15E" stroke-width="1.5"/>
<text x="966.79" y="214.16" font-size="19.12" fill="#000" textLength="93.56" lengthAdjust="spacingAndGlyphs">m.region2x</text>
<path d="M925 235.63H949" stroke="#8EBA42" stroke-width="1.5"/>
<text x="966.79" y="240.58" font-size="19.12" fill="#000" textLength="93.56" lengthAdjust="spacingAndGlyphs">m.region3x</text>
<path d="M925 262.05H949" stroke="#FFB5B8" stroke-width="1.5"/>
<text x="966.79" y="267.00" font-size="19.12" fill="#000" textLength="93.56" lengthAdjust="spacingAndGlyphs">m.region4x</text>
<path d="M925 288.47H949" stroke="#E24A33" stroke-width="1.5"/>
<text x="966.79" y="293.42" font-size="19.12" fill="#000" textLength="93.56" lengthAdjust="spacingAndGlyphs">m.region5x</text>
<path d="M925 314.89H949" stroke="#348ABD" stroke-width="1.5"/>
<text x="966.79" y="319.84" font-size="19.12" fill="#000" textLength="93.56" lengthAdjust="spacingAndGlyphs">m.region6x</text>
<path d="M925 341.31H949" stroke="#988ED5" stroke-width="1.5"/>
<text x="966.80" y="346.26" font-size="19.12" fill="#000" textLength="93.44" lengthAdjust="spacingAndGlyphs">m.region7y</text>
<path d="M925 367.73H949" stroke="#777777" stroke-width="1.5"/>
<text x="966.80" y="372.68" font-size="19.12" fill="#000" textLength="93.44" lengthAdjust="spacingAndGlyphs">m.region8y</text>
<path d="M925 394.15H949" stroke="#FBC15E" stroke-width="1.5"/>
<text x="966.80" y="399.10" font-size="19.12" fill="#000" textLength="93.44" lengthAdjust="spacingAndGlyphs">m.region9y</text>
<path d="M925 420.57H949" stroke="#8EBA42" stroke-width="1.5"/>
<text x="966.80" y="425.52" font-size="19.12" fill="#000" textLength="103.89" lengthAdjust="spacingAndGlyphs">m.region10y</text>
<path d="M925 446.99H949" stroke="#FFB5B8" stroke-width="1.5"/>
<text x="966.80" y="451.94" font-size="19.12" fill="#000" textLength="103.89" lengthAdjust="spacingAndGlyphs">m.region11y</text>
<path d="M925 473.41H949" stroke="#E24A33" stroke-width="1.5"/>
<text x="966.80" y="478.36" font-size="19.12" fill="#000" textLength="103.89" lengthAdjust="spacingAndGlyphs">m.region12y</text>
</svg></body></html>
